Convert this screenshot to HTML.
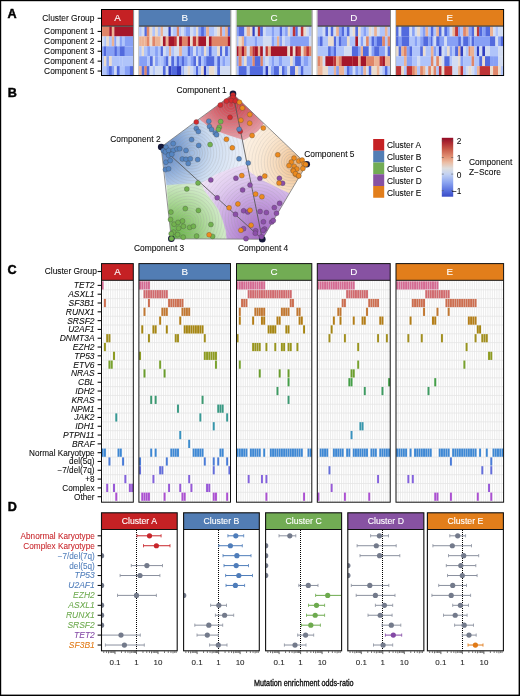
<!DOCTYPE html>
<html><head><meta charset="utf-8"><style>
html,body{margin:0;padding:0;background:#fff;width:520px;height:696px;overflow:hidden}
svg{display:block;will-change:transform}
text{font-family:"Liberation Sans",sans-serif}
</style></head><body><svg width="520" height="696" viewBox="0 0 520 696" font-family="Liberation Sans, sans-serif"><text x="7.60" y="18.40" font-size="12.6" text-anchor="start" fill="#000" font-weight="bold" stroke="#000" stroke-width="0.45" >A</text><rect x="101.50" y="9.50" width="31.80" height="16.50" fill="#C52124" /><text x="117.40" y="21.10" font-size="9.8" text-anchor="middle" fill="#fff" font-weight="normal" stroke="#fff" stroke-width="0.1" >A</text><rect x="138.90" y="9.50" width="91.60" height="16.50" fill="#527DB4" /><text x="184.70" y="21.10" font-size="9.8" text-anchor="middle" fill="#fff" font-weight="normal" stroke="#fff" stroke-width="0.1" >B</text><rect x="236.50" y="9.50" width="75.30" height="16.50" fill="#72AC54" /><text x="274.15" y="21.10" font-size="9.8" text-anchor="middle" fill="#fff" font-weight="normal" stroke="#fff" stroke-width="0.1" >C</text><rect x="317.30" y="9.50" width="72.90" height="16.50" fill="#8752A2" /><text x="353.75" y="21.10" font-size="9.8" text-anchor="middle" fill="#fff" font-weight="normal" stroke="#fff" stroke-width="0.1" >D</text><rect x="396.00" y="9.50" width="107.60" height="16.50" fill="#E27E1B" /><text x="449.80" y="21.10" font-size="9.8" text-anchor="middle" fill="#fff" font-weight="normal" stroke="#fff" stroke-width="0.1" >E</text><rect x="102.08" y="26.50" width="7.34" height="10.00" fill="#e08568" /><rect x="109.27" y="26.50" width="2.67" height="10.00" fill="#a5162a" /><rect x="111.79" y="26.50" width="2.67" height="10.00" fill="#ecb294" /><rect x="114.31" y="26.50" width="18.86" height="10.00" fill="#a5162a" /><rect x="102.08" y="36.40" width="2.31" height="10.00" fill="#d2dcf2" /><rect x="104.24" y="36.40" width="2.31" height="10.00" fill="#b0c4fa" /><rect x="106.40" y="36.40" width="2.67" height="10.00" fill="#eadcce" /><rect x="108.91" y="36.40" width="3.03" height="10.00" fill="#b0c4fa" /><rect x="111.79" y="36.40" width="2.67" height="10.00" fill="#ecb294" /><rect x="114.31" y="36.40" width="2.31" height="10.00" fill="#87a0f5" /><rect x="116.47" y="36.40" width="3.39" height="10.00" fill="#d2dcf2" /><rect x="119.71" y="36.40" width="2.31" height="10.00" fill="#87a0f5" /><rect x="121.86" y="36.40" width="3.03" height="10.00" fill="#b0c4fa" /><rect x="124.74" y="36.40" width="8.42" height="10.00" fill="#87a0f5" /><rect x="102.08" y="46.30" width="1.95" height="10.00" fill="#87a0f5" /><rect x="103.88" y="46.30" width="2.67" height="10.00" fill="#526ade" /><rect x="106.40" y="46.30" width="8.06" height="10.00" fill="#87a0f5" /><rect x="114.31" y="46.30" width="2.67" height="10.00" fill="#526ade" /><rect x="116.83" y="46.30" width="3.03" height="10.00" fill="#87a0f5" /><rect x="119.71" y="46.30" width="5.19" height="10.00" fill="#526ade" /><rect x="124.74" y="46.30" width="8.42" height="10.00" fill="#87a0f5" /><rect x="102.08" y="56.20" width="1.95" height="10.00" fill="#b0c4fa" /><rect x="103.88" y="56.20" width="2.67" height="10.00" fill="#eadcce" /><rect x="106.40" y="56.20" width="2.67" height="10.00" fill="#87a0f5" /><rect x="108.91" y="56.20" width="3.03" height="10.00" fill="#eadcce" /><rect x="111.79" y="56.20" width="8.06" height="10.00" fill="#b0c4fa" /><rect x="119.71" y="56.20" width="3.03" height="10.00" fill="#b0c4fa" /><rect x="122.58" y="56.20" width="10.58" height="10.00" fill="#b0c4fa" /><rect x="102.08" y="66.10" width="4.47" height="10.00" fill="#b0c4fa" /><rect x="106.40" y="66.10" width="2.67" height="10.00" fill="#87a0f5" /><rect x="108.91" y="66.10" width="3.03" height="10.00" fill="#526ade" /><rect x="111.79" y="66.10" width="2.67" height="10.00" fill="#87a0f5" /><rect x="114.31" y="66.10" width="2.67" height="10.00" fill="#d2dcf2" /><rect x="116.83" y="66.10" width="3.03" height="10.00" fill="#526ade" /><rect x="119.71" y="66.10" width="5.19" height="10.00" fill="#b0c4fa" /><rect x="124.74" y="66.10" width="5.19" height="10.00" fill="#87a0f5" /><rect x="129.78" y="66.10" width="3.39" height="10.00" fill="#526ade" /><rect x="139.11" y="26.50" width="2.74" height="10.00" fill="#b0c4fa" /><rect x="141.69" y="26.50" width="2.92" height="10.00" fill="#d2dcf2" /><rect x="144.46" y="26.50" width="2.46" height="10.00" fill="#526ade" /><rect x="146.77" y="26.50" width="2.92" height="10.00" fill="#e08568" /><rect x="149.54" y="26.50" width="2.92" height="10.00" fill="#eadcce" /><rect x="152.31" y="26.50" width="2.92" height="10.00" fill="#b0c4fa" /><rect x="155.08" y="26.50" width="2.92" height="10.00" fill="#eadcce" /><rect x="157.85" y="26.50" width="2.92" height="10.00" fill="#b0c4fa" /><rect x="160.62" y="26.50" width="2.46" height="10.00" fill="#ecb294" /><rect x="162.93" y="26.50" width="5.69" height="10.00" fill="#d2dcf2" /><rect x="168.47" y="26.50" width="2.46" height="10.00" fill="#303ec0" /><rect x="170.78" y="26.50" width="2.46" height="10.00" fill="#d2dcf2" /><rect x="173.09" y="26.50" width="3.84" height="10.00" fill="#b0c4fa" /><rect x="176.78" y="26.50" width="2.46" height="10.00" fill="#e08568" /><rect x="179.09" y="26.50" width="2.46" height="10.00" fill="#b0c4fa" /><rect x="181.40" y="26.50" width="2.74" height="10.00" fill="#d2dcf2" /><rect x="139.11" y="36.40" width="2.74" height="10.00" fill="#ecb294" /><rect x="141.69" y="36.40" width="2.92" height="10.00" fill="#ecb294" /><rect x="144.46" y="36.40" width="2.46" height="10.00" fill="#ecb294" /><rect x="146.77" y="36.40" width="2.92" height="10.00" fill="#e08568" /><rect x="149.54" y="36.40" width="2.92" height="10.00" fill="#eadcce" /><rect x="152.31" y="36.40" width="2.92" height="10.00" fill="#e08568" /><rect x="155.08" y="36.40" width="2.92" height="10.00" fill="#ecb294" /><rect x="157.85" y="36.40" width="2.92" height="10.00" fill="#ecb294" /><rect x="160.62" y="36.40" width="2.46" height="10.00" fill="#eadcce" /><rect x="162.93" y="36.40" width="2.92" height="10.00" fill="#a5162a" /><rect x="165.70" y="36.40" width="2.92" height="10.00" fill="#ecb294" /><rect x="168.47" y="36.40" width="5.69" height="10.00" fill="#a5162a" /><rect x="174.01" y="36.40" width="2.92" height="10.00" fill="#be3436" /><rect x="176.78" y="36.40" width="2.46" height="10.00" fill="#eadcce" /><rect x="179.09" y="36.40" width="2.92" height="10.00" fill="#a5162a" /><rect x="181.86" y="36.40" width="2.27" height="10.00" fill="#e08568" /><rect x="139.11" y="46.30" width="2.74" height="10.00" fill="#b0c4fa" /><rect x="141.69" y="46.30" width="2.46" height="10.00" fill="#eadcce" /><rect x="144.00" y="46.30" width="3.38" height="10.00" fill="#b0c4fa" /><rect x="147.23" y="46.30" width="2.92" height="10.00" fill="#87a0f5" /><rect x="150.00" y="46.30" width="5.23" height="10.00" fill="#b0c4fa" /><rect x="155.08" y="46.30" width="2.92" height="10.00" fill="#87a0f5" /><rect x="157.85" y="46.30" width="2.92" height="10.00" fill="#b0c4fa" /><rect x="160.62" y="46.30" width="2.46" height="10.00" fill="#526ade" /><rect x="162.93" y="46.30" width="2.92" height="10.00" fill="#d2dcf2" /><rect x="165.70" y="46.30" width="3.38" height="10.00" fill="#b0c4fa" /><rect x="168.93" y="46.30" width="2.46" height="10.00" fill="#ecb294" /><rect x="171.24" y="46.30" width="2.92" height="10.00" fill="#b0c4fa" /><rect x="174.01" y="46.30" width="5.23" height="10.00" fill="#d2dcf2" /><rect x="179.09" y="46.30" width="2.92" height="10.00" fill="#ecb294" /><rect x="181.86" y="46.30" width="2.27" height="10.00" fill="#b0c4fa" /><rect x="139.11" y="56.20" width="8.28" height="10.00" fill="#87a0f5" /><rect x="147.23" y="56.20" width="2.92" height="10.00" fill="#b0c4fa" /><rect x="150.00" y="56.20" width="2.92" height="10.00" fill="#526ade" /><rect x="152.77" y="56.20" width="2.46" height="10.00" fill="#d2dcf2" /><rect x="155.08" y="56.20" width="2.92" height="10.00" fill="#87a0f5" /><rect x="157.85" y="56.20" width="2.92" height="10.00" fill="#b0c4fa" /><rect x="160.62" y="56.20" width="2.92" height="10.00" fill="#b0c4fa" /><rect x="163.39" y="56.20" width="2.46" height="10.00" fill="#87a0f5" /><rect x="165.70" y="56.20" width="2.92" height="10.00" fill="#526ade" /><rect x="168.47" y="56.20" width="2.92" height="10.00" fill="#d2dcf2" /><rect x="171.24" y="56.20" width="2.92" height="10.00" fill="#526ade" /><rect x="174.01" y="56.20" width="2.92" height="10.00" fill="#b0c4fa" /><rect x="176.78" y="56.20" width="2.46" height="10.00" fill="#526ade" /><rect x="179.09" y="56.20" width="2.92" height="10.00" fill="#87a0f5" /><rect x="181.86" y="56.20" width="2.27" height="10.00" fill="#526ade" /><rect x="139.11" y="66.10" width="2.74" height="10.00" fill="#ecb294" /><rect x="141.69" y="66.10" width="2.92" height="10.00" fill="#526ade" /><rect x="144.46" y="66.10" width="2.46" height="10.00" fill="#e08568" /><rect x="146.77" y="66.10" width="2.92" height="10.00" fill="#526ade" /><rect x="149.54" y="66.10" width="3.38" height="10.00" fill="#d2dcf2" /><rect x="152.77" y="66.10" width="2.46" height="10.00" fill="#b0c4fa" /><rect x="155.08" y="66.10" width="8.00" height="10.00" fill="#d2dcf2" /><rect x="162.93" y="66.10" width="2.92" height="10.00" fill="#526ade" /><rect x="165.70" y="66.10" width="2.92" height="10.00" fill="#d2dcf2" /><rect x="168.47" y="66.10" width="2.92" height="10.00" fill="#303ec0" /><rect x="171.24" y="66.10" width="5.69" height="10.00" fill="#526ade" /><rect x="176.78" y="66.10" width="4.77" height="10.00" fill="#303ec0" /><rect x="181.40" y="66.10" width="2.46" height="10.00" fill="#b0c4fa" /><rect x="183.71" y="66.10" width="0.43" height="10.00" fill="#526ade" /><rect x="184.00" y="26.50" width="2.00" height="10.00" fill="#b0c4fa" /><rect x="185.85" y="26.50" width="4.31" height="10.00" fill="#87a0f5" /><rect x="190.00" y="26.50" width="3.38" height="10.00" fill="#d2dcf2" /><rect x="193.23" y="26.50" width="2.92" height="10.00" fill="#b0c4fa" /><rect x="196.00" y="26.50" width="2.46" height="10.00" fill="#eadcce" /><rect x="198.31" y="26.50" width="2.92" height="10.00" fill="#87a0f5" /><rect x="201.08" y="26.50" width="2.92" height="10.00" fill="#526ade" /><rect x="203.85" y="26.50" width="2.46" height="10.00" fill="#87a0f5" /><rect x="206.16" y="26.50" width="2.92" height="10.00" fill="#ecb294" /><rect x="208.93" y="26.50" width="5.69" height="10.00" fill="#b0c4fa" /><rect x="214.47" y="26.50" width="2.92" height="10.00" fill="#d2dcf2" /><rect x="217.24" y="26.50" width="2.92" height="10.00" fill="#eadcce" /><rect x="220.01" y="26.50" width="2.46" height="10.00" fill="#e08568" /><rect x="222.32" y="26.50" width="2.92" height="10.00" fill="#b0c4fa" /><rect x="225.09" y="26.50" width="2.92" height="10.00" fill="#ecb294" /><rect x="227.86" y="26.50" width="2.46" height="10.00" fill="#526ade" /><rect x="184.00" y="36.40" width="3.84" height="10.00" fill="#e08568" /><rect x="187.69" y="36.40" width="2.46" height="10.00" fill="#a5162a" /><rect x="190.00" y="36.40" width="2.92" height="10.00" fill="#eadcce" /><rect x="192.77" y="36.40" width="3.38" height="10.00" fill="#be3436" /><rect x="196.00" y="36.40" width="2.46" height="10.00" fill="#ecb294" /><rect x="198.31" y="36.40" width="8.00" height="10.00" fill="#a5162a" /><rect x="206.16" y="36.40" width="2.92" height="10.00" fill="#eadcce" /><rect x="208.93" y="36.40" width="2.92" height="10.00" fill="#a5162a" /><rect x="211.70" y="36.40" width="16.31" height="10.00" fill="#e08568" /><rect x="227.86" y="36.40" width="2.46" height="10.00" fill="#a5162a" /><rect x="184.00" y="46.30" width="3.84" height="10.00" fill="#b0c4fa" /><rect x="187.69" y="46.30" width="2.92" height="10.00" fill="#526ade" /><rect x="190.46" y="46.30" width="2.92" height="10.00" fill="#87a0f5" /><rect x="193.23" y="46.30" width="2.92" height="10.00" fill="#d2dcf2" /><rect x="196.00" y="46.30" width="2.46" height="10.00" fill="#87a0f5" /><rect x="198.31" y="46.30" width="2.92" height="10.00" fill="#b0c4fa" /><rect x="201.08" y="46.30" width="2.92" height="10.00" fill="#87a0f5" /><rect x="203.85" y="46.30" width="2.46" height="10.00" fill="#eadcce" /><rect x="206.16" y="46.30" width="2.92" height="10.00" fill="#b0c4fa" /><rect x="208.93" y="46.30" width="2.92" height="10.00" fill="#526ade" /><rect x="211.70" y="46.30" width="5.69" height="10.00" fill="#b0c4fa" /><rect x="217.24" y="46.30" width="2.92" height="10.00" fill="#eadcce" /><rect x="220.01" y="46.30" width="2.46" height="10.00" fill="#526ade" /><rect x="222.32" y="46.30" width="2.92" height="10.00" fill="#d2dcf2" /><rect x="225.09" y="46.30" width="2.92" height="10.00" fill="#526ade" /><rect x="227.86" y="46.30" width="2.46" height="10.00" fill="#b0c4fa" /><rect x="184.00" y="56.20" width="3.84" height="10.00" fill="#87a0f5" /><rect x="187.69" y="56.20" width="2.92" height="10.00" fill="#b0c4fa" /><rect x="190.46" y="56.20" width="2.92" height="10.00" fill="#87a0f5" /><rect x="193.23" y="56.20" width="2.92" height="10.00" fill="#526ade" /><rect x="196.00" y="56.20" width="2.46" height="10.00" fill="#d2dcf2" /><rect x="198.31" y="56.20" width="2.92" height="10.00" fill="#526ade" /><rect x="201.08" y="56.20" width="2.92" height="10.00" fill="#b0c4fa" /><rect x="203.85" y="56.20" width="2.46" height="10.00" fill="#87a0f5" /><rect x="206.16" y="56.20" width="8.46" height="10.00" fill="#526ade" /><rect x="214.47" y="56.20" width="2.92" height="10.00" fill="#b0c4fa" /><rect x="217.24" y="56.20" width="2.92" height="10.00" fill="#526ade" /><rect x="220.01" y="56.20" width="2.46" height="10.00" fill="#b0c4fa" /><rect x="222.32" y="56.20" width="2.92" height="10.00" fill="#87a0f5" /><rect x="225.09" y="56.20" width="5.23" height="10.00" fill="#b0c4fa" /><rect x="184.00" y="66.10" width="3.84" height="10.00" fill="#d2dcf2" /><rect x="187.69" y="66.10" width="2.46" height="10.00" fill="#eadcce" /><rect x="190.00" y="66.10" width="3.38" height="10.00" fill="#d2dcf2" /><rect x="193.23" y="66.10" width="2.92" height="10.00" fill="#b0c4fa" /><rect x="196.00" y="66.10" width="2.46" height="10.00" fill="#526ade" /><rect x="198.31" y="66.10" width="2.92" height="10.00" fill="#b0c4fa" /><rect x="201.08" y="66.10" width="2.92" height="10.00" fill="#eadcce" /><rect x="203.85" y="66.10" width="2.46" height="10.00" fill="#303ec0" /><rect x="206.16" y="66.10" width="2.92" height="10.00" fill="#b0c4fa" /><rect x="208.93" y="66.10" width="5.69" height="10.00" fill="#eadcce" /><rect x="214.47" y="66.10" width="2.92" height="10.00" fill="#d2dcf2" /><rect x="217.24" y="66.10" width="2.92" height="10.00" fill="#526ade" /><rect x="220.01" y="66.10" width="10.31" height="10.00" fill="#d2dcf2" /><rect x="236.46" y="26.50" width="2.30" height="10.00" fill="#87a0f5" /><rect x="238.62" y="26.50" width="5.92" height="10.00" fill="#526ade" /><rect x="244.38" y="26.50" width="2.46" height="10.00" fill="#d2dcf2" /><rect x="246.69" y="26.50" width="3.61" height="10.00" fill="#ecb294" /><rect x="250.15" y="26.50" width="2.46" height="10.00" fill="#eadcce" /><rect x="252.46" y="26.50" width="2.46" height="10.00" fill="#303ec0" /><rect x="254.77" y="26.50" width="3.23" height="10.00" fill="#d2dcf2" /><rect x="257.85" y="26.50" width="2.46" height="10.00" fill="#be3436" /><rect x="260.15" y="26.50" width="2.84" height="10.00" fill="#526ade" /><rect x="262.85" y="26.50" width="2.84" height="10.00" fill="#d2dcf2" /><rect x="265.54" y="26.50" width="6.30" height="10.00" fill="#b0c4fa" /><rect x="271.69" y="26.50" width="2.46" height="10.00" fill="#87a0f5" /><rect x="236.46" y="36.40" width="2.30" height="10.00" fill="#b0c4fa" /><rect x="238.62" y="36.40" width="3.23" height="10.00" fill="#eadcce" /><rect x="241.69" y="36.40" width="2.46" height="10.00" fill="#ecb294" /><rect x="244.00" y="36.40" width="2.84" height="10.00" fill="#87a0f5" /><rect x="246.69" y="36.40" width="8.23" height="10.00" fill="#b0c4fa" /><rect x="254.77" y="36.40" width="2.46" height="10.00" fill="#87a0f5" /><rect x="257.08" y="36.40" width="5.92" height="10.00" fill="#b0c4fa" /><rect x="262.85" y="36.40" width="9.00" height="10.00" fill="#d2dcf2" /><rect x="271.69" y="36.40" width="2.46" height="10.00" fill="#87a0f5" /><rect x="236.46" y="46.30" width="2.30" height="10.00" fill="#a5162a" /><rect x="238.62" y="46.30" width="3.23" height="10.00" fill="#e08568" /><rect x="241.69" y="46.30" width="2.46" height="10.00" fill="#a5162a" /><rect x="244.00" y="46.30" width="2.84" height="10.00" fill="#e08568" /><rect x="246.69" y="46.30" width="3.23" height="10.00" fill="#d2dcf2" /><rect x="249.77" y="46.30" width="2.84" height="10.00" fill="#e08568" /><rect x="252.46" y="46.30" width="2.07" height="10.00" fill="#be3436" /><rect x="254.38" y="46.30" width="3.61" height="10.00" fill="#a5162a" /><rect x="257.85" y="46.30" width="2.46" height="10.00" fill="#ecb294" /><rect x="260.15" y="46.30" width="2.84" height="10.00" fill="#a5162a" /><rect x="262.85" y="46.30" width="2.84" height="10.00" fill="#d2dcf2" /><rect x="265.54" y="46.30" width="2.46" height="10.00" fill="#be3436" /><rect x="267.85" y="46.30" width="3.23" height="10.00" fill="#ecb294" /><rect x="270.92" y="46.30" width="3.23" height="10.00" fill="#a5162a" /><rect x="236.46" y="56.20" width="2.30" height="10.00" fill="#87a0f5" /><rect x="238.62" y="56.20" width="3.23" height="10.00" fill="#e08568" /><rect x="241.69" y="56.20" width="2.46" height="10.00" fill="#b0c4fa" /><rect x="244.00" y="56.20" width="2.84" height="10.00" fill="#eadcce" /><rect x="246.69" y="56.20" width="5.92" height="10.00" fill="#87a0f5" /><rect x="252.46" y="56.20" width="2.46" height="10.00" fill="#e08568" /><rect x="254.77" y="56.20" width="5.92" height="10.00" fill="#526ade" /><rect x="260.54" y="56.20" width="2.46" height="10.00" fill="#e08568" /><rect x="262.85" y="56.20" width="2.84" height="10.00" fill="#b0c4fa" /><rect x="265.54" y="56.20" width="3.23" height="10.00" fill="#d2dcf2" /><rect x="268.62" y="56.20" width="3.23" height="10.00" fill="#b0c4fa" /><rect x="271.69" y="56.20" width="2.46" height="10.00" fill="#87a0f5" /><rect x="236.46" y="66.10" width="2.30" height="10.00" fill="#b0c4fa" /><rect x="238.62" y="66.10" width="8.23" height="10.00" fill="#526ade" /><rect x="246.69" y="66.10" width="3.23" height="10.00" fill="#b0c4fa" /><rect x="249.77" y="66.10" width="13.23" height="10.00" fill="#526ade" /><rect x="262.85" y="66.10" width="2.84" height="10.00" fill="#b0c4fa" /><rect x="265.54" y="66.10" width="2.84" height="10.00" fill="#303ec0" /><rect x="268.23" y="66.10" width="2.84" height="10.00" fill="#d2dcf2" /><rect x="270.92" y="66.10" width="3.23" height="10.00" fill="#87a0f5" /><rect x="274.00" y="26.50" width="3.15" height="10.00" fill="#b0c4fa" /><rect x="277.00" y="26.50" width="2.84" height="10.00" fill="#b0c4fa" /><rect x="279.69" y="26.50" width="2.46" height="10.00" fill="#526ade" /><rect x="282.00" y="26.50" width="3.23" height="10.00" fill="#b0c4fa" /><rect x="285.08" y="26.50" width="2.84" height="10.00" fill="#87a0f5" /><rect x="287.77" y="26.50" width="2.46" height="10.00" fill="#eadcce" /><rect x="290.08" y="26.50" width="2.84" height="10.00" fill="#b0c4fa" /><rect x="292.77" y="26.50" width="2.84" height="10.00" fill="#be3436" /><rect x="295.46" y="26.50" width="2.46" height="10.00" fill="#526ade" /><rect x="297.77" y="26.50" width="3.23" height="10.00" fill="#d2dcf2" /><rect x="300.85" y="26.50" width="2.84" height="10.00" fill="#be3436" /><rect x="303.54" y="26.50" width="2.84" height="10.00" fill="#eadcce" /><rect x="306.23" y="26.50" width="2.84" height="10.00" fill="#d2dcf2" /><rect x="308.92" y="26.50" width="2.46" height="10.00" fill="#b0c4fa" /><rect x="274.00" y="36.40" width="3.15" height="10.00" fill="#b0c4fa" /><rect x="277.00" y="36.40" width="2.46" height="10.00" fill="#ecb294" /><rect x="279.31" y="36.40" width="2.84" height="10.00" fill="#87a0f5" /><rect x="282.00" y="36.40" width="2.84" height="10.00" fill="#d2dcf2" /><rect x="284.69" y="36.40" width="5.53" height="10.00" fill="#b0c4fa" /><rect x="290.08" y="36.40" width="19.00" height="10.00" fill="#87a0f5" /><rect x="308.92" y="36.40" width="2.46" height="10.00" fill="#d2dcf2" /><rect x="274.00" y="46.30" width="13.53" height="10.00" fill="#a5162a" /><rect x="287.38" y="46.30" width="2.84" height="10.00" fill="#eadcce" /><rect x="290.08" y="46.30" width="2.84" height="10.00" fill="#a5162a" /><rect x="292.77" y="46.30" width="2.84" height="10.00" fill="#eadcce" /><rect x="295.46" y="46.30" width="2.46" height="10.00" fill="#a5162a" /><rect x="297.77" y="46.30" width="3.23" height="10.00" fill="#be3436" /><rect x="300.85" y="46.30" width="2.84" height="10.00" fill="#eadcce" /><rect x="303.54" y="46.30" width="2.84" height="10.00" fill="#e08568" /><rect x="306.23" y="46.30" width="2.84" height="10.00" fill="#be3436" /><rect x="308.92" y="46.30" width="2.46" height="10.00" fill="#e08568" /><rect x="274.00" y="56.20" width="0.46" height="10.00" fill="#87a0f5" /><rect x="274.31" y="56.20" width="4.77" height="10.00" fill="#b0c4fa" /><rect x="278.92" y="56.20" width="3.23" height="10.00" fill="#87a0f5" /><rect x="282.00" y="56.20" width="8.23" height="10.00" fill="#b0c4fa" /><rect x="290.08" y="56.20" width="2.84" height="10.00" fill="#eadcce" /><rect x="292.77" y="56.20" width="2.46" height="10.00" fill="#b0c4fa" /><rect x="295.08" y="56.20" width="5.92" height="10.00" fill="#526ade" /><rect x="300.85" y="56.20" width="2.84" height="10.00" fill="#b0c4fa" /><rect x="303.54" y="56.20" width="5.15" height="10.00" fill="#87a0f5" /><rect x="308.54" y="56.20" width="2.84" height="10.00" fill="#b0c4fa" /><rect x="274.00" y="66.10" width="5.07" height="10.00" fill="#526ade" /><rect x="278.92" y="66.10" width="3.23" height="10.00" fill="#d2dcf2" /><rect x="282.00" y="66.10" width="2.84" height="10.00" fill="#526ade" /><rect x="284.69" y="66.10" width="2.84" height="10.00" fill="#87a0f5" /><rect x="287.38" y="66.10" width="2.84" height="10.00" fill="#d2dcf2" /><rect x="290.08" y="66.10" width="5.15" height="10.00" fill="#526ade" /><rect x="295.08" y="66.10" width="3.23" height="10.00" fill="#eadcce" /><rect x="298.15" y="66.10" width="2.84" height="10.00" fill="#b0c4fa" /><rect x="300.85" y="66.10" width="2.84" height="10.00" fill="#526ade" /><rect x="303.54" y="66.10" width="7.84" height="10.00" fill="#b0c4fa" /><rect x="317.31" y="26.50" width="5.53" height="10.00" fill="#b0c4fa" /><rect x="322.69" y="26.50" width="2.84" height="10.00" fill="#d2dcf2" /><rect x="325.38" y="26.50" width="2.84" height="10.00" fill="#526ade" /><rect x="328.08" y="26.50" width="2.84" height="10.00" fill="#d2dcf2" /><rect x="330.77" y="26.50" width="2.84" height="10.00" fill="#526ade" /><rect x="333.46" y="26.50" width="2.84" height="10.00" fill="#d2dcf2" /><rect x="336.15" y="26.50" width="2.84" height="10.00" fill="#ecb294" /><rect x="338.85" y="26.50" width="2.84" height="10.00" fill="#87a0f5" /><rect x="341.54" y="26.50" width="2.84" height="10.00" fill="#526ade" /><rect x="344.23" y="26.50" width="2.84" height="10.00" fill="#b0c4fa" /><rect x="346.92" y="26.50" width="2.84" height="10.00" fill="#526ade" /><rect x="349.62" y="26.50" width="3.23" height="10.00" fill="#d2dcf2" /><rect x="352.69" y="26.50" width="0.46" height="10.00" fill="#eadcce" /><rect x="317.31" y="36.40" width="2.84" height="10.00" fill="#87a0f5" /><rect x="320.00" y="36.40" width="2.84" height="10.00" fill="#526ade" /><rect x="322.69" y="36.40" width="5.53" height="10.00" fill="#b0c4fa" /><rect x="328.08" y="36.40" width="5.92" height="10.00" fill="#eadcce" /><rect x="333.85" y="36.40" width="2.46" height="10.00" fill="#526ade" /><rect x="336.15" y="36.40" width="2.84" height="10.00" fill="#b0c4fa" /><rect x="338.85" y="36.40" width="2.84" height="10.00" fill="#526ade" /><rect x="341.54" y="36.40" width="5.53" height="10.00" fill="#87a0f5" /><rect x="346.92" y="36.40" width="2.84" height="10.00" fill="#eadcce" /><rect x="349.62" y="36.40" width="3.53" height="10.00" fill="#b0c4fa" /><rect x="317.31" y="46.30" width="10.92" height="10.00" fill="#b0c4fa" /><rect x="328.08" y="46.30" width="2.84" height="10.00" fill="#526ade" /><rect x="330.77" y="46.30" width="3.23" height="10.00" fill="#87a0f5" /><rect x="333.85" y="46.30" width="2.46" height="10.00" fill="#526ade" /><rect x="336.15" y="46.30" width="8.23" height="10.00" fill="#b0c4fa" /><rect x="344.23" y="46.30" width="7.84" height="10.00" fill="#d2dcf2" /><rect x="351.92" y="46.30" width="1.23" height="10.00" fill="#526ade" /><rect x="317.31" y="56.20" width="2.84" height="10.00" fill="#e08568" /><rect x="320.00" y="56.20" width="2.84" height="10.00" fill="#ecb294" /><rect x="322.69" y="56.20" width="2.84" height="10.00" fill="#d2dcf2" /><rect x="325.38" y="56.20" width="8.23" height="10.00" fill="#a5162a" /><rect x="333.46" y="56.20" width="2.84" height="10.00" fill="#be3436" /><rect x="336.15" y="56.20" width="2.84" height="10.00" fill="#ecb294" /><rect x="338.85" y="56.20" width="2.84" height="10.00" fill="#e08568" /><rect x="341.54" y="56.20" width="11.30" height="10.00" fill="#a5162a" /><rect x="352.69" y="56.20" width="0.46" height="10.00" fill="#be3436" /><rect x="317.31" y="66.10" width="5.53" height="10.00" fill="#ecb294" /><rect x="322.69" y="66.10" width="5.53" height="10.00" fill="#eadcce" /><rect x="328.08" y="66.10" width="5.92" height="10.00" fill="#b0c4fa" /><rect x="333.85" y="66.10" width="2.46" height="10.00" fill="#ecb294" /><rect x="336.15" y="66.10" width="2.84" height="10.00" fill="#87a0f5" /><rect x="338.85" y="66.10" width="5.53" height="10.00" fill="#ecb294" /><rect x="344.23" y="66.10" width="2.84" height="10.00" fill="#b0c4fa" /><rect x="346.92" y="66.10" width="2.84" height="10.00" fill="#526ade" /><rect x="349.62" y="66.10" width="3.23" height="10.00" fill="#87a0f5" /><rect x="352.69" y="66.10" width="0.46" height="10.00" fill="#d2dcf2" /><rect x="353.00" y="26.50" width="2.46" height="10.00" fill="#eadcce" /><rect x="355.31" y="26.50" width="2.84" height="10.00" fill="#526ade" /><rect x="358.00" y="26.50" width="2.84" height="10.00" fill="#eadcce" /><rect x="360.69" y="26.50" width="2.84" height="10.00" fill="#b0c4fa" /><rect x="363.38" y="26.50" width="2.84" height="10.00" fill="#87a0f5" /><rect x="366.08" y="26.50" width="2.84" height="10.00" fill="#b0c4fa" /><rect x="368.77" y="26.50" width="2.84" height="10.00" fill="#eadcce" /><rect x="371.46" y="26.50" width="2.84" height="10.00" fill="#d2dcf2" /><rect x="374.15" y="26.50" width="2.84" height="10.00" fill="#ecb294" /><rect x="376.85" y="26.50" width="2.84" height="10.00" fill="#d2dcf2" /><rect x="379.54" y="26.50" width="5.53" height="10.00" fill="#b0c4fa" /><rect x="384.92" y="26.50" width="2.84" height="10.00" fill="#ecb294" /><rect x="387.62" y="26.50" width="2.92" height="10.00" fill="#b0c4fa" /><rect x="353.00" y="36.40" width="2.46" height="10.00" fill="#b0c4fa" /><rect x="355.31" y="36.40" width="2.84" height="10.00" fill="#a5162a" /><rect x="358.00" y="36.40" width="2.84" height="10.00" fill="#d2dcf2" /><rect x="360.69" y="36.40" width="2.84" height="10.00" fill="#87a0f5" /><rect x="363.38" y="36.40" width="2.84" height="10.00" fill="#d2dcf2" /><rect x="366.08" y="36.40" width="2.84" height="10.00" fill="#e08568" /><rect x="368.77" y="36.40" width="2.84" height="10.00" fill="#b0c4fa" /><rect x="371.46" y="36.40" width="2.84" height="10.00" fill="#526ade" /><rect x="374.15" y="36.40" width="2.84" height="10.00" fill="#87a0f5" /><rect x="376.85" y="36.40" width="5.53" height="10.00" fill="#526ade" /><rect x="382.23" y="36.40" width="2.84" height="10.00" fill="#e08568" /><rect x="384.92" y="36.40" width="2.84" height="10.00" fill="#b0c4fa" /><rect x="387.62" y="36.40" width="2.92" height="10.00" fill="#e08568" /><rect x="353.00" y="46.30" width="5.15" height="10.00" fill="#526ade" /><rect x="358.00" y="46.30" width="2.84" height="10.00" fill="#87a0f5" /><rect x="360.69" y="46.30" width="2.46" height="10.00" fill="#ecb294" /><rect x="363.00" y="46.30" width="5.92" height="10.00" fill="#526ade" /><rect x="368.77" y="46.30" width="2.84" height="10.00" fill="#d2dcf2" /><rect x="371.46" y="46.30" width="2.84" height="10.00" fill="#87a0f5" /><rect x="374.15" y="46.30" width="5.53" height="10.00" fill="#526ade" /><rect x="379.54" y="46.30" width="5.53" height="10.00" fill="#87a0f5" /><rect x="384.92" y="46.30" width="2.84" height="10.00" fill="#d2dcf2" /><rect x="387.62" y="46.30" width="2.92" height="10.00" fill="#526ade" /><rect x="353.00" y="56.20" width="5.15" height="10.00" fill="#a5162a" /><rect x="358.00" y="56.20" width="2.84" height="10.00" fill="#ecb294" /><rect x="360.69" y="56.20" width="5.53" height="10.00" fill="#a5162a" /><rect x="366.08" y="56.20" width="8.23" height="10.00" fill="#e08568" /><rect x="374.15" y="56.20" width="5.53" height="10.00" fill="#ecb294" /><rect x="379.54" y="56.20" width="2.84" height="10.00" fill="#be3436" /><rect x="382.23" y="56.20" width="2.84" height="10.00" fill="#a5162a" /><rect x="384.92" y="56.20" width="5.61" height="10.00" fill="#ecb294" /><rect x="353.00" y="66.10" width="2.46" height="10.00" fill="#d2dcf2" /><rect x="355.31" y="66.10" width="2.84" height="10.00" fill="#87a0f5" /><rect x="358.00" y="66.10" width="2.84" height="10.00" fill="#b0c4fa" /><rect x="360.69" y="66.10" width="2.84" height="10.00" fill="#87a0f5" /><rect x="363.38" y="66.10" width="2.84" height="10.00" fill="#ecb294" /><rect x="366.08" y="66.10" width="2.84" height="10.00" fill="#d2dcf2" /><rect x="368.77" y="66.10" width="2.84" height="10.00" fill="#526ade" /><rect x="371.46" y="66.10" width="5.53" height="10.00" fill="#eadcce" /><rect x="376.85" y="66.10" width="2.84" height="10.00" fill="#ecb294" /><rect x="379.54" y="66.10" width="2.84" height="10.00" fill="#d2dcf2" /><rect x="382.23" y="66.10" width="2.84" height="10.00" fill="#b0c4fa" /><rect x="384.92" y="66.10" width="2.84" height="10.00" fill="#526ade" /><rect x="387.62" y="66.10" width="2.92" height="10.00" fill="#b0c4fa" /><rect x="395.92" y="26.50" width="2.84" height="10.00" fill="#526ade" /><rect x="398.62" y="26.50" width="2.84" height="10.00" fill="#d2dcf2" /><rect x="401.31" y="26.50" width="8.23" height="10.00" fill="#526ade" /><rect x="409.38" y="26.50" width="2.84" height="10.00" fill="#d2dcf2" /><rect x="412.08" y="26.50" width="2.84" height="10.00" fill="#87a0f5" /><rect x="414.77" y="26.50" width="2.46" height="10.00" fill="#d2dcf2" /><rect x="417.08" y="26.50" width="3.23" height="10.00" fill="#eadcce" /><rect x="420.15" y="26.50" width="2.84" height="10.00" fill="#b0c4fa" /><rect x="422.85" y="26.50" width="2.84" height="10.00" fill="#87a0f5" /><rect x="425.54" y="26.50" width="2.84" height="10.00" fill="#ecb294" /><rect x="428.23" y="26.50" width="2.84" height="10.00" fill="#b0c4fa" /><rect x="430.92" y="26.50" width="1.23" height="10.00" fill="#526ade" /><rect x="395.92" y="36.40" width="2.84" height="10.00" fill="#526ade" /><rect x="398.62" y="36.40" width="3.23" height="10.00" fill="#87a0f5" /><rect x="401.69" y="36.40" width="7.84" height="10.00" fill="#526ade" /><rect x="409.38" y="36.40" width="5.53" height="10.00" fill="#b0c4fa" /><rect x="414.77" y="36.40" width="2.46" height="10.00" fill="#87a0f5" /><rect x="417.08" y="36.40" width="3.23" height="10.00" fill="#b0c4fa" /><rect x="420.15" y="36.40" width="3.23" height="10.00" fill="#87a0f5" /><rect x="423.23" y="36.40" width="5.15" height="10.00" fill="#526ade" /><rect x="428.23" y="36.40" width="2.84" height="10.00" fill="#87a0f5" /><rect x="430.92" y="36.40" width="1.23" height="10.00" fill="#526ade" /><rect x="395.92" y="46.30" width="2.84" height="10.00" fill="#eadcce" /><rect x="398.62" y="46.30" width="2.84" height="10.00" fill="#526ade" /><rect x="401.31" y="46.30" width="2.84" height="10.00" fill="#ecb294" /><rect x="404.00" y="46.30" width="2.84" height="10.00" fill="#e08568" /><rect x="406.69" y="46.30" width="2.84" height="10.00" fill="#87a0f5" /><rect x="409.38" y="46.30" width="2.84" height="10.00" fill="#526ade" /><rect x="412.08" y="46.30" width="8.23" height="10.00" fill="#b0c4fa" /><rect x="420.15" y="46.30" width="2.84" height="10.00" fill="#526ade" /><rect x="422.85" y="46.30" width="2.84" height="10.00" fill="#eadcce" /><rect x="425.54" y="46.30" width="5.53" height="10.00" fill="#b0c4fa" /><rect x="430.92" y="46.30" width="1.23" height="10.00" fill="#ecb294" /><rect x="395.92" y="56.20" width="8.23" height="10.00" fill="#b0c4fa" /><rect x="404.00" y="56.20" width="2.84" height="10.00" fill="#ecb294" /><rect x="406.69" y="56.20" width="5.53" height="10.00" fill="#87a0f5" /><rect x="412.08" y="56.20" width="5.15" height="10.00" fill="#b0c4fa" /><rect x="417.08" y="56.20" width="3.23" height="10.00" fill="#d2dcf2" /><rect x="420.15" y="56.20" width="10.92" height="10.00" fill="#b0c4fa" /><rect x="430.92" y="56.20" width="1.23" height="10.00" fill="#e08568" /><rect x="395.92" y="66.10" width="5.53" height="10.00" fill="#be3436" /><rect x="401.31" y="66.10" width="2.84" height="10.00" fill="#eadcce" /><rect x="404.00" y="66.10" width="2.84" height="10.00" fill="#b0c4fa" /><rect x="406.69" y="66.10" width="5.53" height="10.00" fill="#be3436" /><rect x="412.08" y="66.10" width="2.84" height="10.00" fill="#e08568" /><rect x="414.77" y="66.10" width="2.46" height="10.00" fill="#ecb294" /><rect x="417.08" y="66.10" width="3.23" height="10.00" fill="#b0c4fa" /><rect x="420.15" y="66.10" width="2.84" height="10.00" fill="#e08568" /><rect x="422.85" y="66.10" width="2.84" height="10.00" fill="#ecb294" /><rect x="425.54" y="66.10" width="2.84" height="10.00" fill="#d2dcf2" /><rect x="428.23" y="66.10" width="2.84" height="10.00" fill="#e08568" /><rect x="430.92" y="66.10" width="1.23" height="10.00" fill="#eadcce" /><rect x="432.00" y="26.50" width="1.69" height="10.00" fill="#526ade" /><rect x="433.54" y="26.50" width="2.84" height="10.00" fill="#b0c4fa" /><rect x="436.23" y="26.50" width="2.84" height="10.00" fill="#ecb294" /><rect x="438.92" y="26.50" width="2.84" height="10.00" fill="#526ade" /><rect x="441.62" y="26.50" width="2.84" height="10.00" fill="#d2dcf2" /><rect x="444.31" y="26.50" width="2.84" height="10.00" fill="#526ade" /><rect x="447.00" y="26.50" width="2.84" height="10.00" fill="#87a0f5" /><rect x="449.69" y="26.50" width="2.84" height="10.00" fill="#d2dcf2" /><rect x="452.38" y="26.50" width="2.84" height="10.00" fill="#ecb294" /><rect x="455.08" y="26.50" width="3.23" height="10.00" fill="#be3436" /><rect x="458.15" y="26.50" width="2.46" height="10.00" fill="#87a0f5" /><rect x="460.46" y="26.50" width="2.84" height="10.00" fill="#b0c4fa" /><rect x="463.15" y="26.50" width="2.84" height="10.00" fill="#e08568" /><rect x="465.85" y="26.50" width="2.84" height="10.00" fill="#ecb294" /><rect x="468.54" y="26.50" width="1.61" height="10.00" fill="#87a0f5" /><rect x="432.00" y="36.40" width="1.69" height="10.00" fill="#87a0f5" /><rect x="433.54" y="36.40" width="2.84" height="10.00" fill="#d2dcf2" /><rect x="436.23" y="36.40" width="3.61" height="10.00" fill="#526ade" /><rect x="439.69" y="36.40" width="4.77" height="10.00" fill="#87a0f5" /><rect x="444.31" y="36.40" width="2.84" height="10.00" fill="#d2dcf2" /><rect x="447.00" y="36.40" width="11.30" height="10.00" fill="#87a0f5" /><rect x="458.15" y="36.40" width="2.84" height="10.00" fill="#526ade" /><rect x="460.85" y="36.40" width="2.46" height="10.00" fill="#b0c4fa" /><rect x="463.15" y="36.40" width="5.53" height="10.00" fill="#526ade" /><rect x="468.54" y="36.40" width="1.61" height="10.00" fill="#87a0f5" /><rect x="432.00" y="46.30" width="1.69" height="10.00" fill="#ecb294" /><rect x="433.54" y="46.30" width="2.84" height="10.00" fill="#87a0f5" /><rect x="436.23" y="46.30" width="2.84" height="10.00" fill="#b0c4fa" /><rect x="438.92" y="46.30" width="2.84" height="10.00" fill="#303ec0" /><rect x="441.62" y="46.30" width="2.84" height="10.00" fill="#d2dcf2" /><rect x="444.31" y="46.30" width="2.84" height="10.00" fill="#b0c4fa" /><rect x="447.00" y="46.30" width="2.84" height="10.00" fill="#eadcce" /><rect x="449.69" y="46.30" width="2.84" height="10.00" fill="#87a0f5" /><rect x="452.38" y="46.30" width="2.84" height="10.00" fill="#b0c4fa" /><rect x="455.08" y="46.30" width="3.23" height="10.00" fill="#526ade" /><rect x="458.15" y="46.30" width="2.46" height="10.00" fill="#ecb294" /><rect x="460.46" y="46.30" width="2.84" height="10.00" fill="#303ec0" /><rect x="463.15" y="46.30" width="2.84" height="10.00" fill="#d2dcf2" /><rect x="465.85" y="46.30" width="2.84" height="10.00" fill="#b0c4fa" /><rect x="468.54" y="46.30" width="1.61" height="10.00" fill="#e08568" /><rect x="432.00" y="56.20" width="1.69" height="10.00" fill="#e08568" /><rect x="433.54" y="56.20" width="2.84" height="10.00" fill="#d2dcf2" /><rect x="436.23" y="56.20" width="2.84" height="10.00" fill="#e08568" /><rect x="438.92" y="56.20" width="2.84" height="10.00" fill="#eadcce" /><rect x="441.62" y="56.20" width="2.84" height="10.00" fill="#d2dcf2" /><rect x="444.31" y="56.20" width="5.53" height="10.00" fill="#526ade" /><rect x="449.69" y="56.20" width="2.84" height="10.00" fill="#b0c4fa" /><rect x="452.38" y="56.20" width="5.92" height="10.00" fill="#d2dcf2" /><rect x="458.15" y="56.20" width="2.46" height="10.00" fill="#eadcce" /><rect x="460.46" y="56.20" width="2.84" height="10.00" fill="#87a0f5" /><rect x="463.15" y="56.20" width="7.00" height="10.00" fill="#b0c4fa" /><rect x="432.00" y="66.10" width="1.69" height="10.00" fill="#eadcce" /><rect x="433.54" y="66.10" width="2.84" height="10.00" fill="#e08568" /><rect x="436.23" y="66.10" width="2.84" height="10.00" fill="#b0c4fa" /><rect x="438.92" y="66.10" width="2.84" height="10.00" fill="#be3436" /><rect x="441.62" y="66.10" width="2.84" height="10.00" fill="#eadcce" /><rect x="444.31" y="66.10" width="8.23" height="10.00" fill="#be3436" /><rect x="452.38" y="66.10" width="5.92" height="10.00" fill="#d2dcf2" /><rect x="458.15" y="66.10" width="2.46" height="10.00" fill="#ecb294" /><rect x="460.46" y="66.10" width="2.84" height="10.00" fill="#be3436" /><rect x="463.15" y="66.10" width="2.84" height="10.00" fill="#b0c4fa" /><rect x="465.85" y="66.10" width="2.84" height="10.00" fill="#d2dcf2" /><rect x="468.54" y="66.10" width="1.61" height="10.00" fill="#eadcce" /><rect x="470.00" y="26.50" width="1.69" height="10.00" fill="#87a0f5" /><rect x="471.54" y="26.50" width="2.84" height="10.00" fill="#526ade" /><rect x="474.23" y="26.50" width="2.84" height="10.00" fill="#eadcce" /><rect x="476.92" y="26.50" width="2.46" height="10.00" fill="#be3436" /><rect x="479.23" y="26.50" width="3.23" height="10.00" fill="#526ade" /><rect x="482.31" y="26.50" width="3.23" height="10.00" fill="#87a0f5" /><rect x="485.38" y="26.50" width="4.77" height="10.00" fill="#526ade" /><rect x="490.00" y="26.50" width="3.23" height="10.00" fill="#ecb294" /><rect x="493.08" y="26.50" width="2.46" height="10.00" fill="#d2dcf2" /><rect x="495.38" y="26.50" width="2.84" height="10.00" fill="#b0c4fa" /><rect x="498.08" y="26.50" width="5.30" height="10.00" fill="#d2dcf2" /><rect x="470.00" y="36.40" width="1.69" height="10.00" fill="#b0c4fa" /><rect x="471.54" y="36.40" width="2.84" height="10.00" fill="#526ade" /><rect x="474.23" y="36.40" width="15.92" height="10.00" fill="#87a0f5" /><rect x="490.00" y="36.40" width="5.53" height="10.00" fill="#526ade" /><rect x="495.38" y="36.40" width="2.84" height="10.00" fill="#d2dcf2" /><rect x="498.08" y="36.40" width="2.84" height="10.00" fill="#87a0f5" /><rect x="500.77" y="36.40" width="2.61" height="10.00" fill="#526ade" /><rect x="470.00" y="46.30" width="4.38" height="10.00" fill="#ecb294" /><rect x="474.23" y="46.30" width="2.84" height="10.00" fill="#b0c4fa" /><rect x="476.92" y="46.30" width="2.46" height="10.00" fill="#303ec0" /><rect x="479.23" y="46.30" width="3.23" height="10.00" fill="#d2dcf2" /><rect x="482.31" y="46.30" width="2.84" height="10.00" fill="#303ec0" /><rect x="485.00" y="46.30" width="5.15" height="10.00" fill="#d2dcf2" /><rect x="490.00" y="46.30" width="8.23" height="10.00" fill="#b0c4fa" /><rect x="498.08" y="46.30" width="5.30" height="10.00" fill="#d2dcf2" /><rect x="470.00" y="56.20" width="1.69" height="10.00" fill="#b0c4fa" /><rect x="471.54" y="56.20" width="2.84" height="10.00" fill="#e08568" /><rect x="474.23" y="56.20" width="5.15" height="10.00" fill="#b0c4fa" /><rect x="479.23" y="56.20" width="3.23" height="10.00" fill="#526ade" /><rect x="482.31" y="56.20" width="2.84" height="10.00" fill="#eadcce" /><rect x="485.00" y="56.20" width="5.15" height="10.00" fill="#526ade" /><rect x="490.00" y="56.20" width="3.23" height="10.00" fill="#87a0f5" /><rect x="493.08" y="56.20" width="5.15" height="10.00" fill="#87a0f5" /><rect x="498.08" y="56.20" width="5.30" height="10.00" fill="#d2dcf2" /><rect x="470.00" y="66.10" width="1.69" height="10.00" fill="#eadcce" /><rect x="471.54" y="66.10" width="2.84" height="10.00" fill="#d2dcf2" /><rect x="474.23" y="66.10" width="2.84" height="10.00" fill="#b0c4fa" /><rect x="476.92" y="66.10" width="2.84" height="10.00" fill="#ecb294" /><rect x="479.62" y="66.10" width="10.53" height="10.00" fill="#be3436" /><rect x="490.00" y="66.10" width="3.23" height="10.00" fill="#eadcce" /><rect x="493.08" y="66.10" width="5.15" height="10.00" fill="#e08568" /><rect x="498.08" y="66.10" width="2.84" height="10.00" fill="#eadcce" /><rect x="500.77" y="66.10" width="2.61" height="10.00" fill="#b0c4fa" /><rect x="101.50" y="25.50" width="31.80" height="1.20" fill="#3a3a3a" /><rect x="138.90" y="25.50" width="91.60" height="1.20" fill="#3a3a3a" /><rect x="236.50" y="25.50" width="75.30" height="1.20" fill="#3a3a3a" /><rect x="317.30" y="25.50" width="72.90" height="1.20" fill="#3a3a3a" /><rect x="396.00" y="25.50" width="107.60" height="1.20" fill="#3a3a3a" /><rect x="133.30" y="9.50" width="5.60" height="66.00" fill="#fff" /><line x1="133.60" y1="9.50" x2="133.60" y2="75.50" stroke="#555" stroke-width="0.7" /><line x1="138.60" y1="9.50" x2="138.60" y2="75.50" stroke="#999" stroke-width="0.6" /><rect x="230.50" y="9.50" width="6.00" height="66.00" fill="#fff" /><line x1="230.80" y1="9.50" x2="230.80" y2="75.50" stroke="#555" stroke-width="0.7" /><line x1="236.20" y1="9.50" x2="236.20" y2="75.50" stroke="#999" stroke-width="0.6" /><rect x="311.80" y="9.50" width="5.50" height="66.00" fill="#fff" /><line x1="312.10" y1="9.50" x2="312.10" y2="75.50" stroke="#555" stroke-width="0.7" /><line x1="317.00" y1="9.50" x2="317.00" y2="75.50" stroke="#999" stroke-width="0.6" /><rect x="390.20" y="9.50" width="5.80" height="66.00" fill="#fff" /><line x1="390.50" y1="9.50" x2="390.50" y2="75.50" stroke="#555" stroke-width="0.7" /><line x1="395.70" y1="9.50" x2="395.70" y2="75.50" stroke="#999" stroke-width="0.6" /><rect x="101.50" y="9.50" width="402.10" height="66.00" fill="none" stroke="#000" stroke-width="1" /><text x="94.40" y="21.20" font-size="8.4" text-anchor="end" fill="#0a0a0a" font-weight="normal" stroke="#0a0a0a" stroke-width="0.07" >Cluster Group</text><line x1="97.60" y1="18.30" x2="101.20" y2="18.30" stroke="#111" stroke-width="1.1" /><text x="94.40" y="33.95" font-size="8.4" text-anchor="end" fill="#0a0a0a" font-weight="normal" stroke="#0a0a0a" stroke-width="0.07" >Component 1</text><line x1="97.60" y1="31.45" x2="101.20" y2="31.45" stroke="#111" stroke-width="1.1" /><text x="94.40" y="43.85" font-size="8.4" text-anchor="end" fill="#0a0a0a" font-weight="normal" stroke="#0a0a0a" stroke-width="0.07" >Component 2</text><line x1="97.60" y1="41.35" x2="101.20" y2="41.35" stroke="#111" stroke-width="1.1" /><text x="94.40" y="53.75" font-size="8.4" text-anchor="end" fill="#0a0a0a" font-weight="normal" stroke="#0a0a0a" stroke-width="0.07" >Component 3</text><line x1="97.60" y1="51.25" x2="101.20" y2="51.25" stroke="#111" stroke-width="1.1" /><text x="94.40" y="63.65" font-size="8.4" text-anchor="end" fill="#0a0a0a" font-weight="normal" stroke="#0a0a0a" stroke-width="0.07" >Component 4</text><line x1="97.60" y1="61.15" x2="101.20" y2="61.15" stroke="#111" stroke-width="1.1" /><text x="94.40" y="73.55" font-size="8.4" text-anchor="end" fill="#0a0a0a" font-weight="normal" stroke="#0a0a0a" stroke-width="0.07" >Component 5</text><line x1="97.60" y1="71.05" x2="101.20" y2="71.05" stroke="#111" stroke-width="1.1" /><text x="7.80" y="96.70" font-size="12.6" text-anchor="start" fill="#000" font-weight="bold" stroke="#000" stroke-width="0.45" >B</text><defs><radialGradient id="gA" gradientUnits="userSpaceOnUse" cx="233" cy="96" r="62" fx="233" fy="96"><stop offset="0" stop-color="rgb(200,40,50)"/><stop offset="0.25" stop-color="rgb(208,80,90)"/><stop offset="0.5" stop-color="rgb(220,125,135)"/><stop offset="0.75" stop-color="rgb(232,170,178)"/><stop offset="1" stop-color="rgb(242,205,210)"/></radialGradient><radialGradient id="gB" gradientUnits="userSpaceOnUse" cx="163" cy="150" r="78" fx="163" fy="150"><stop offset="0" stop-color="rgb(95,135,198)"/><stop offset="0.2" stop-color="rgb(122,157,209)"/><stop offset="0.42" stop-color="rgb(168,193,227)"/><stop offset="0.65" stop-color="rgb(207,222,241)"/><stop offset="1" stop-color="rgb(232,238,249)"/></radialGradient><radialGradient id="gC" gradientUnits="userSpaceOnUse" cx="172" cy="236" r="68" fx="172" fy="236"><stop offset="0" stop-color="rgb(100,180,70)"/><stop offset="0.25" stop-color="rgb(130,195,100)"/><stop offset="0.5" stop-color="rgb(170,215,150)"/><stop offset="0.75" stop-color="rgb(205,232,195)"/><stop offset="1" stop-color="rgb(228,242,222)"/></radialGradient><radialGradient id="gD" gradientUnits="userSpaceOnUse" cx="262" cy="236" r="78" fx="262" fy="236"><stop offset="0" stop-color="rgb(165,100,200)"/><stop offset="0.25" stop-color="rgb(180,130,210)"/><stop offset="0.5" stop-color="rgb(200,165,225)"/><stop offset="0.75" stop-color="rgb(222,200,238)"/><stop offset="1" stop-color="rgb(238,225,246)"/></radialGradient><radialGradient id="gE" gradientUnits="userSpaceOnUse" cx="303" cy="165" r="66" fx="303" fy="165"><stop offset="0" stop-color="rgb(238,176,108)"/><stop offset="0.18" stop-color="rgb(242,196,148)"/><stop offset="0.4" stop-color="rgb(247,219,188)"/><stop offset="0.65" stop-color="rgb(250,233,213)"/><stop offset="1" stop-color="rgb(252,242,230)"/></radialGradient><clipPath id="cpA"><polygon points="233.0,93.9 264.2,123.5 258.6,131.0 250.0,137.0 243.8,140.5 235.0,137.8 224.9,134.4 211.2,129.2 198.8,119.2"/></clipPath><clipPath id="cpB"><polygon points="161.2,147.0 198.8,119.2 211.2,129.2 224.9,134.4 235.0,137.8 243.8,140.5 244.8,152.0 247.0,166.0 243.0,165.6 232.7,168.2 217.1,174.2 201.5,183.2 166.9,185.5"/></clipPath><clipPath id="cpC"><polygon points="166.9,185.5 201.5,183.2 205.0,191.0 212.0,200.0 219.0,210.0 223.0,220.0 226.0,230.0 227.0,239.0 171.3,238.8"/></clipPath><clipPath id="cpD"><polygon points="201.5,183.2 217.1,174.2 232.7,168.2 243.0,165.6 247.0,166.0 250.0,171.5 260.0,178.5 275.0,186.0 289.7,193.0 262.3,239.2 227.0,239.0 226.0,230.0 223.0,220.0 219.0,210.0 212.0,200.0 205.0,191.0"/></clipPath><clipPath id="cpE"><polygon points="264.2,123.5 306.7,164.3 289.7,193.0 275.0,186.0 260.0,178.5 250.0,171.5 247.0,166.0 244.8,152.0 243.8,140.5 250.0,137.0 258.6,131.0"/></clipPath><clipPath id="cpP"><polygon points="233.0,93.9 306.7,164.3 262.3,239.2 171.3,238.8 161.2,147.0"/></clipPath></defs><g clip-path="url(#cpP)"><polygon points="233.0,93.9 264.2,123.5 258.6,131.0 250.0,137.0 243.8,140.5 235.0,137.8 224.9,134.4 211.2,129.2 198.8,119.2" fill="url(#gA)" stroke="url(#gA)" stroke-width="0.8"/><polygon points="161.2,147.0 198.8,119.2 211.2,129.2 224.9,134.4 235.0,137.8 243.8,140.5 244.8,152.0 247.0,166.0 243.0,165.6 232.7,168.2 217.1,174.2 201.5,183.2 166.9,185.5" fill="url(#gB)" stroke="url(#gB)" stroke-width="0.8"/><polygon points="166.9,185.5 201.5,183.2 205.0,191.0 212.0,200.0 219.0,210.0 223.0,220.0 226.0,230.0 227.0,239.0 171.3,238.8" fill="url(#gC)" stroke="url(#gC)" stroke-width="0.8"/><polygon points="201.5,183.2 217.1,174.2 232.7,168.2 243.0,165.6 247.0,166.0 250.0,171.5 260.0,178.5 275.0,186.0 289.7,193.0 262.3,239.2 227.0,239.0 226.0,230.0 223.0,220.0 219.0,210.0 212.0,200.0 205.0,191.0" fill="url(#gD)" stroke="url(#gD)" stroke-width="0.8"/><polygon points="264.2,123.5 306.7,164.3 289.7,193.0 275.0,186.0 260.0,178.5 250.0,171.5 247.0,166.0 244.8,152.0 243.8,140.5 250.0,137.0 258.6,131.0" fill="url(#gE)" stroke="url(#gE)" stroke-width="0.8"/><g clip-path="url(#cpA)" fill="none" stroke="#a0a0a0" stroke-width="0.5"><circle cx="231" cy="105" r="2.8" stroke-opacity="0.60"/><circle cx="231" cy="105" r="5.4" stroke-opacity="0.58"/><circle cx="231" cy="105" r="8.0" stroke-opacity="0.55"/><circle cx="231" cy="105" r="10.6" stroke-opacity="0.53"/><circle cx="231" cy="105" r="13.3" stroke-opacity="0.51"/><circle cx="231" cy="105" r="16.1" stroke-opacity="0.48"/><circle cx="231" cy="105" r="18.9" stroke-opacity="0.46"/><circle cx="231" cy="105" r="21.8" stroke-opacity="0.44"/><circle cx="231" cy="105" r="24.7" stroke-opacity="0.41"/><circle cx="231" cy="105" r="27.7" stroke-opacity="0.39"/><circle cx="231" cy="105" r="30.8" stroke-opacity="0.36"/><circle cx="231" cy="105" r="33.9" stroke-opacity="0.34"/><circle cx="231" cy="105" r="37.1" stroke-opacity="0.31"/><circle cx="231" cy="105" r="40.3" stroke-opacity="0.28"/><circle cx="231" cy="105" r="43.6" stroke-opacity="0.25"/><circle cx="231" cy="105" r="47.0" stroke-opacity="0.23"/></g><g clip-path="url(#cpB)" fill="none" stroke="#a0a0a0" stroke-width="0.5"><circle cx="192" cy="153" r="2.8" stroke-opacity="0.60"/><circle cx="192" cy="153" r="5.4" stroke-opacity="0.59"/><circle cx="192" cy="153" r="8.0" stroke-opacity="0.57"/><circle cx="192" cy="153" r="10.6" stroke-opacity="0.55"/><circle cx="192" cy="153" r="13.3" stroke-opacity="0.53"/><circle cx="192" cy="153" r="16.1" stroke-opacity="0.52"/><circle cx="192" cy="153" r="18.9" stroke-opacity="0.50"/><circle cx="192" cy="153" r="21.8" stroke-opacity="0.48"/><circle cx="192" cy="153" r="24.7" stroke-opacity="0.46"/><circle cx="192" cy="153" r="27.7" stroke-opacity="0.44"/><circle cx="192" cy="153" r="30.8" stroke-opacity="0.42"/><circle cx="192" cy="153" r="33.9" stroke-opacity="0.40"/><circle cx="192" cy="153" r="37.1" stroke-opacity="0.38"/><circle cx="192" cy="153" r="40.3" stroke-opacity="0.36"/><circle cx="192" cy="153" r="43.6" stroke-opacity="0.34"/><circle cx="192" cy="153" r="47.0" stroke-opacity="0.31"/><circle cx="192" cy="153" r="50.4" stroke-opacity="0.29"/><circle cx="192" cy="153" r="54.0" stroke-opacity="0.27"/><circle cx="192" cy="153" r="57.5" stroke-opacity="0.25"/><circle cx="192" cy="153" r="61.2" stroke-opacity="0.22"/></g><g clip-path="url(#cpC)" fill="none" stroke="#a0a0a0" stroke-width="0.5"><circle cx="188" cy="221" r="2.8" stroke-opacity="0.60"/><circle cx="188" cy="221" r="5.4" stroke-opacity="0.58"/><circle cx="188" cy="221" r="8.0" stroke-opacity="0.56"/><circle cx="188" cy="221" r="10.6" stroke-opacity="0.55"/><circle cx="188" cy="221" r="13.3" stroke-opacity="0.53"/><circle cx="188" cy="221" r="16.1" stroke-opacity="0.51"/><circle cx="188" cy="221" r="18.9" stroke-opacity="0.49"/><circle cx="188" cy="221" r="21.8" stroke-opacity="0.47"/><circle cx="188" cy="221" r="24.7" stroke-opacity="0.45"/><circle cx="188" cy="221" r="27.7" stroke-opacity="0.43"/><circle cx="188" cy="221" r="30.8" stroke-opacity="0.41"/><circle cx="188" cy="221" r="33.9" stroke-opacity="0.38"/><circle cx="188" cy="221" r="37.1" stroke-opacity="0.36"/><circle cx="188" cy="221" r="40.3" stroke-opacity="0.34"/><circle cx="188" cy="221" r="43.6" stroke-opacity="0.32"/><circle cx="188" cy="221" r="47.0" stroke-opacity="0.29"/><circle cx="188" cy="221" r="50.4" stroke-opacity="0.27"/><circle cx="188" cy="221" r="54.0" stroke-opacity="0.25"/><circle cx="188" cy="221" r="57.5" stroke-opacity="0.22"/></g><g clip-path="url(#cpD)" fill="none" stroke="#a0a0a0" stroke-width="0.5"><circle cx="256" cy="218" r="2.8" stroke-opacity="0.60"/><circle cx="256" cy="218" r="5.4" stroke-opacity="0.59"/><circle cx="256" cy="218" r="8.0" stroke-opacity="0.57"/><circle cx="256" cy="218" r="10.6" stroke-opacity="0.55"/><circle cx="256" cy="218" r="13.3" stroke-opacity="0.53"/><circle cx="256" cy="218" r="16.1" stroke-opacity="0.52"/><circle cx="256" cy="218" r="18.9" stroke-opacity="0.50"/><circle cx="256" cy="218" r="21.8" stroke-opacity="0.48"/><circle cx="256" cy="218" r="24.7" stroke-opacity="0.46"/><circle cx="256" cy="218" r="27.7" stroke-opacity="0.44"/><circle cx="256" cy="218" r="30.8" stroke-opacity="0.42"/><circle cx="256" cy="218" r="33.9" stroke-opacity="0.40"/><circle cx="256" cy="218" r="37.1" stroke-opacity="0.38"/><circle cx="256" cy="218" r="40.3" stroke-opacity="0.36"/><circle cx="256" cy="218" r="43.6" stroke-opacity="0.34"/><circle cx="256" cy="218" r="47.0" stroke-opacity="0.31"/><circle cx="256" cy="218" r="50.4" stroke-opacity="0.29"/><circle cx="256" cy="218" r="54.0" stroke-opacity="0.27"/><circle cx="256" cy="218" r="57.5" stroke-opacity="0.25"/><circle cx="256" cy="218" r="61.2" stroke-opacity="0.22"/></g><g clip-path="url(#cpE)" fill="none" stroke="#a0a0a0" stroke-width="0.5"><circle cx="292" cy="162" r="2.8" stroke-opacity="0.60"/><circle cx="292" cy="162" r="5.4" stroke-opacity="0.58"/><circle cx="292" cy="162" r="8.0" stroke-opacity="0.56"/><circle cx="292" cy="162" r="10.6" stroke-opacity="0.54"/><circle cx="292" cy="162" r="13.3" stroke-opacity="0.52"/><circle cx="292" cy="162" r="16.1" stroke-opacity="0.50"/><circle cx="292" cy="162" r="18.9" stroke-opacity="0.47"/><circle cx="292" cy="162" r="21.8" stroke-opacity="0.45"/><circle cx="292" cy="162" r="24.7" stroke-opacity="0.43"/><circle cx="292" cy="162" r="27.7" stroke-opacity="0.41"/><circle cx="292" cy="162" r="30.8" stroke-opacity="0.38"/><circle cx="292" cy="162" r="33.9" stroke-opacity="0.36"/><circle cx="292" cy="162" r="37.1" stroke-opacity="0.33"/><circle cx="292" cy="162" r="40.3" stroke-opacity="0.31"/><circle cx="292" cy="162" r="43.6" stroke-opacity="0.28"/><circle cx="292" cy="162" r="47.0" stroke-opacity="0.26"/><circle cx="292" cy="162" r="50.4" stroke-opacity="0.23"/></g></g><polygon points="233.0,93.9 306.7,164.3 262.3,239.2 171.3,238.8 161.2,147.0" fill="none" stroke="#777" stroke-width="0.8"/><line x1="233.00" y1="93.90" x2="262.30" y2="239.20" stroke="#555" stroke-width="0.85" /><line x1="161.20" y1="147.00" x2="262.30" y2="239.20" stroke="#555" stroke-width="0.85" /><circle cx="233.0" cy="93.9" r="3.3" fill="#15183a"/><circle cx="306.7" cy="164.3" r="3.3" fill="#15183a"/><circle cx="262.3" cy="239.2" r="3.3" fill="#15183a"/><circle cx="171.3" cy="238.8" r="3.3" fill="#15183a"/><circle cx="161.2" cy="147.0" r="3.3" fill="#15183a"/><g stroke="#3a3a3a" stroke-opacity="0.55" stroke-width="0.5" fill="#D42A2E"><circle cx="233.0" cy="95.0" r="2.5"/><circle cx="232.9" cy="97.6" r="2.5"/><circle cx="231.3" cy="100.6" r="2.5"/><circle cx="226.4" cy="101.1" r="2.5"/><circle cx="235.3" cy="101.1" r="2.5"/><circle cx="220.3" cy="105.1" r="2.5"/><circle cx="230.0" cy="117.3" r="2.5"/><circle cx="196.3" cy="122.0" r="2.5"/><circle cx="240.2" cy="131.2" r="2.5"/></g><g stroke="#3a3a3a" stroke-opacity="0.55" stroke-width="0.5" fill="#72B24F"><circle cx="220.7" cy="121.6" r="2.5"/><circle cx="219.3" cy="127.2" r="2.5"/><circle cx="218.4" cy="129.6" r="2.5"/><circle cx="210.1" cy="144.6" r="2.5"/><circle cx="198.0" cy="182.9" r="2.5"/><circle cx="186.8" cy="189.0" r="2.5"/><circle cx="185.3" cy="208.6" r="2.5"/><circle cx="198.4" cy="210.4" r="2.5"/><circle cx="170.9" cy="212.1" r="2.5"/><circle cx="170.5" cy="219.5" r="2.5"/><circle cx="174.1" cy="224.2" r="2.5"/><circle cx="178.1" cy="222.4" r="2.5"/><circle cx="182.5" cy="221.0" r="2.5"/><circle cx="183.4" cy="226.3" r="2.5"/><circle cx="178.6" cy="228.2" r="2.5"/><circle cx="189.7" cy="227.4" r="2.5"/><circle cx="193.4" cy="226.3" r="2.5"/><circle cx="210.9" cy="224.5" r="2.5"/><circle cx="173.7" cy="232.2" r="2.5"/><circle cx="171.2" cy="233.7" r="2.5"/><circle cx="177.6" cy="234.6" r="2.5"/><circle cx="183.2" cy="237.2" r="2.5"/><circle cx="196.6" cy="236.1" r="2.5"/><circle cx="171.5" cy="238.6" r="2.5"/><circle cx="212.6" cy="236.4" r="2.5"/></g><g stroke="#3a3a3a" stroke-opacity="0.55" stroke-width="0.5" fill="#5585C2"><circle cx="208.8" cy="121.2" r="2.5"/><circle cx="209.5" cy="126.5" r="2.5"/><circle cx="211.6" cy="129.5" r="2.5"/><circle cx="196.3" cy="128.4" r="2.5"/><circle cx="198.3" cy="131.5" r="2.5"/><circle cx="215.2" cy="133.0" r="2.5"/><circle cx="216.6" cy="134.8" r="2.5"/><circle cx="191.6" cy="139.6" r="2.5"/><circle cx="198.7" cy="145.4" r="2.5"/><circle cx="173.2" cy="143.6" r="2.5"/><circle cx="165.9" cy="147.2" r="2.5"/><circle cx="163.3" cy="150.6" r="2.5"/><circle cx="165.4" cy="151.9" r="2.5"/><circle cx="168.6" cy="150.4" r="2.5"/><circle cx="173.3" cy="150.4" r="2.5"/><circle cx="177.0" cy="149.0" r="2.5"/><circle cx="179.7" cy="148.7" r="2.5"/><circle cx="168.6" cy="155.3" r="2.5"/><circle cx="171.8" cy="154.3" r="2.5"/><circle cx="186.0" cy="150.4" r="2.5"/><circle cx="182.3" cy="159.0" r="2.5"/><circle cx="186.0" cy="159.3" r="2.5"/><circle cx="190.3" cy="158.8" r="2.5"/><circle cx="188.2" cy="163.5" r="2.5"/><circle cx="197.7" cy="159.6" r="2.5"/><circle cx="165.9" cy="162.2" r="2.5"/><circle cx="170.2" cy="160.6" r="2.5"/><circle cx="165.4" cy="169.6" r="2.5"/><circle cx="168.6" cy="168.8" r="2.5"/><circle cx="239.1" cy="129.2" r="2.5"/><circle cx="239.0" cy="158.8" r="2.5"/><circle cx="248.2" cy="163.0" r="2.5"/></g><g stroke="#3a3a3a" stroke-opacity="0.55" stroke-width="0.5" fill="#8B4FA8"><circle cx="210.8" cy="179.9" r="2.5"/><circle cx="235.9" cy="178.2" r="2.5"/><circle cx="250.0" cy="185.1" r="2.5"/><circle cx="242.6" cy="189.9" r="2.5"/><circle cx="217.2" cy="197.8" r="2.5"/><circle cx="235.5" cy="214.3" r="2.5"/><circle cx="243.6" cy="210.8" r="2.5"/><circle cx="247.8" cy="212.0" r="2.5"/><circle cx="259.9" cy="178.3" r="2.5"/><circle cx="260.1" cy="211.5" r="2.5"/><circle cx="263.4" cy="221.8" r="2.5"/><circle cx="243.6" cy="228.7" r="2.5"/><circle cx="255.7" cy="230.8" r="2.5"/><circle cx="255.3" cy="233.2" r="2.5"/><circle cx="261.5" cy="236.8" r="2.5"/><circle cx="246.0" cy="238.7" r="2.5"/><circle cx="264.6" cy="229.0" r="2.5"/><circle cx="263.1" cy="230.4" r="2.5"/><circle cx="279.4" cy="178.3" r="2.5"/><circle cx="282.6" cy="183.2" r="2.5"/><circle cx="279.6" cy="203.3" r="2.5"/><circle cx="274.3" cy="207.6" r="2.5"/><circle cx="266.4" cy="212.5" r="2.5"/><circle cx="276.5" cy="213.3" r="2.5"/><circle cx="271.7" cy="222.1" r="2.5"/><circle cx="273.3" cy="220.6" r="2.5"/></g><g stroke="#3a3a3a" stroke-opacity="0.55" stroke-width="0.5" fill="#EC8A1E"><circle cx="239.5" cy="102.3" r="2.5"/><circle cx="242.4" cy="108.0" r="2.5"/><circle cx="249.8" cy="114.5" r="2.5"/><circle cx="240.9" cy="120.2" r="2.5"/><circle cx="249.7" cy="123.2" r="2.5"/><circle cx="263.3" cy="128.1" r="2.5"/><circle cx="252.1" cy="135.5" r="2.5"/><circle cx="226.4" cy="139.3" r="2.5"/><circle cx="232.3" cy="147.8" r="2.5"/><circle cx="277.8" cy="154.8" r="2.5"/><circle cx="294.0" cy="158.1" r="2.5"/><circle cx="291.3" cy="162.1" r="2.5"/><circle cx="298.8" cy="161.0" r="2.5"/><circle cx="302.1" cy="160.1" r="2.5"/><circle cx="304.0" cy="163.8" r="2.5"/><circle cx="289.0" cy="165.6" r="2.5"/><circle cx="294.2" cy="166.4" r="2.5"/><circle cx="296.8" cy="169.0" r="2.5"/><circle cx="293.1" cy="170.2" r="2.5"/><circle cx="302.9" cy="168.4" r="2.5"/><circle cx="305.7" cy="164.4" r="2.5"/><circle cx="295.4" cy="174.2" r="2.5"/><circle cx="298.6" cy="175.9" r="2.5"/><circle cx="264.8" cy="176.1" r="2.5"/><circle cx="279.0" cy="183.0" r="2.5"/><circle cx="241.8" cy="175.6" r="2.5"/><circle cx="255.6" cy="194.1" r="2.5"/><circle cx="261.9" cy="196.7" r="2.5"/><circle cx="237.9" cy="203.9" r="2.5"/><circle cx="229.1" cy="207.8" r="2.5"/><circle cx="250.0" cy="210.3" r="2.5"/><circle cx="251.1" cy="225.2" r="2.5"/><circle cx="240.9" cy="230.2" r="2.5"/><circle cx="209.1" cy="234.8" r="2.5"/><circle cx="293.4" cy="171.1" r="2.5"/><circle cx="295.5" cy="173.7" r="2.5"/><circle cx="298.7" cy="175.8" r="2.5"/></g><text x="226.80" y="93.00" font-size="8.4" text-anchor="end" fill="#0a0a0a" font-weight="normal" stroke="#0a0a0a" stroke-width="0.07" >Component 1</text><text x="160.60" y="141.80" font-size="8.4" text-anchor="end" fill="#0a0a0a" font-weight="normal" stroke="#0a0a0a" stroke-width="0.07" >Component 2</text><text x="134.00" y="250.80" font-size="8.4" text-anchor="start" fill="#0a0a0a" font-weight="normal" stroke="#0a0a0a" stroke-width="0.07" >Component 3</text><text x="238.00" y="250.50" font-size="8.4" text-anchor="start" fill="#0a0a0a" font-weight="normal" stroke="#0a0a0a" stroke-width="0.07" >Component 4</text><text x="304.20" y="156.80" font-size="8.4" text-anchor="start" fill="#0a0a0a" font-weight="normal" stroke="#0a0a0a" stroke-width="0.07" >Component 5</text><rect x="373.20" y="139.00" width="11.00" height="11.75" fill="#C52124" /><text x="387.00" y="148.20" font-size="8.4" text-anchor="start" fill="#0a0a0a" font-weight="normal" stroke="#0a0a0a" stroke-width="0.07" >Cluster A</text><rect x="373.20" y="150.75" width="11.00" height="11.75" fill="#527DB4" /><text x="387.00" y="160.10" font-size="8.4" text-anchor="start" fill="#0a0a0a" font-weight="normal" stroke="#0a0a0a" stroke-width="0.07" >Cluster B</text><rect x="373.20" y="162.50" width="11.00" height="11.75" fill="#72AC54" /><text x="387.00" y="172.00" font-size="8.4" text-anchor="start" fill="#0a0a0a" font-weight="normal" stroke="#0a0a0a" stroke-width="0.07" >Cluster C</text><rect x="373.20" y="174.25" width="11.00" height="11.75" fill="#8752A2" /><text x="387.00" y="183.90" font-size="8.4" text-anchor="start" fill="#0a0a0a" font-weight="normal" stroke="#0a0a0a" stroke-width="0.07" >Cluster D</text><rect x="373.20" y="186.00" width="11.00" height="11.75" fill="#E27E1B" /><text x="387.00" y="195.80" font-size="8.4" text-anchor="start" fill="#0a0a0a" font-weight="normal" stroke="#0a0a0a" stroke-width="0.07" >Cluster E</text><defs><linearGradient id="cbar" x1="0" y1="1" x2="0" y2="0"><stop offset="0.000" stop-color="rgb(56,74,198)"/><stop offset="0.101" stop-color="rgb(88,112,222)"/><stop offset="0.242" stop-color="rgb(140,165,240)"/><stop offset="0.383" stop-color="rgb(195,210,242)"/><stop offset="0.482" stop-color="rgb(222,222,222)"/><stop offset="0.580" stop-color="rgb(235,190,165)"/><stop offset="0.665" stop-color="rgb(228,150,120)"/><stop offset="0.806" stop-color="rgb(200,90,72)"/><stop offset="0.946" stop-color="rgb(165,30,45)"/><stop offset="1.000" stop-color="rgb(146,11,38)"/></linearGradient></defs><rect x="441.80" y="137.80" width="11.40" height="58.90" fill="url(#cbar)" /><line x1="441.80" y1="140.90" x2="443.80" y2="140.90" stroke="#555" stroke-width="0.6" /><line x1="451.20" y1="140.90" x2="453.20" y2="140.90" stroke="#555" stroke-width="0.6" /><text x="461.50" y="144.30" font-size="8.4" text-anchor="end" fill="#0a0a0a" font-weight="normal" stroke="#0a0a0a" stroke-width="0.07" >2</text><line x1="441.80" y1="157.50" x2="443.80" y2="157.50" stroke="#555" stroke-width="0.6" /><line x1="451.20" y1="157.50" x2="453.20" y2="157.50" stroke="#555" stroke-width="0.6" /><text x="461.50" y="160.90" font-size="8.4" text-anchor="end" fill="#0a0a0a" font-weight="normal" stroke="#0a0a0a" stroke-width="0.07" >1</text><line x1="441.80" y1="174.10" x2="443.80" y2="174.10" stroke="#555" stroke-width="0.6" /><line x1="451.20" y1="174.10" x2="453.20" y2="174.10" stroke="#555" stroke-width="0.6" /><text x="461.50" y="177.50" font-size="8.4" text-anchor="end" fill="#0a0a0a" font-weight="normal" stroke="#0a0a0a" stroke-width="0.07" >0</text><line x1="441.80" y1="190.70" x2="443.80" y2="190.70" stroke="#555" stroke-width="0.6" /><line x1="451.20" y1="190.70" x2="453.20" y2="190.70" stroke="#555" stroke-width="0.6" /><text x="461.50" y="194.10" font-size="8.4" text-anchor="end" fill="#0a0a0a" font-weight="normal" stroke="#0a0a0a" stroke-width="0.07" >−1</text><text x="469.00" y="164.80" font-size="8.4" text-anchor="start" fill="#0a0a0a" font-weight="normal" stroke="#0a0a0a" stroke-width="0.07" >Component</text><text x="469.00" y="175.30" font-size="8.4" text-anchor="start" fill="#0a0a0a" font-weight="normal" stroke="#0a0a0a" stroke-width="0.07" >Z−Score</text><text x="7.60" y="274.00" font-size="12.6" text-anchor="start" fill="#000" font-weight="bold" stroke="#000" stroke-width="0.45" >C</text><rect x="101.50" y="281.00" width="31.80" height="221.20" fill="#fff" /><line x1="103.77" y1="281.00" x2="103.77" y2="502.20" stroke="#e4e4e4" stroke-width="0.75" /><line x1="106.04" y1="281.00" x2="106.04" y2="502.20" stroke="#e4e4e4" stroke-width="0.75" /><line x1="108.31" y1="281.00" x2="108.31" y2="502.20" stroke="#e4e4e4" stroke-width="0.75" /><line x1="110.59" y1="281.00" x2="110.59" y2="502.20" stroke="#e4e4e4" stroke-width="0.75" /><line x1="112.86" y1="281.00" x2="112.86" y2="502.20" stroke="#e4e4e4" stroke-width="0.75" /><line x1="115.13" y1="281.00" x2="115.13" y2="502.20" stroke="#e4e4e4" stroke-width="0.75" /><line x1="117.40" y1="281.00" x2="117.40" y2="502.20" stroke="#e4e4e4" stroke-width="0.75" /><line x1="119.67" y1="281.00" x2="119.67" y2="502.20" stroke="#e4e4e4" stroke-width="0.75" /><line x1="121.94" y1="281.00" x2="121.94" y2="502.20" stroke="#e4e4e4" stroke-width="0.75" /><line x1="124.21" y1="281.00" x2="124.21" y2="502.20" stroke="#e4e4e4" stroke-width="0.75" /><line x1="126.49" y1="281.00" x2="126.49" y2="502.20" stroke="#e4e4e4" stroke-width="0.75" /><line x1="128.76" y1="281.00" x2="128.76" y2="502.20" stroke="#e4e4e4" stroke-width="0.75" /><line x1="131.03" y1="281.00" x2="131.03" y2="502.20" stroke="#e4e4e4" stroke-width="0.75" /><line x1="101.50" y1="289.80" x2="133.30" y2="289.80" stroke="#e4e4e4" stroke-width="0.75" /><line x1="101.50" y1="298.61" x2="133.30" y2="298.61" stroke="#e4e4e4" stroke-width="0.75" /><line x1="101.50" y1="307.41" x2="133.30" y2="307.41" stroke="#e4e4e4" stroke-width="0.75" /><line x1="101.50" y1="316.22" x2="133.30" y2="316.22" stroke="#e4e4e4" stroke-width="0.75" /><line x1="101.50" y1="325.02" x2="133.30" y2="325.02" stroke="#e4e4e4" stroke-width="0.75" /><line x1="101.50" y1="333.82" x2="133.30" y2="333.82" stroke="#e4e4e4" stroke-width="0.75" /><line x1="101.50" y1="342.63" x2="133.30" y2="342.63" stroke="#e4e4e4" stroke-width="0.75" /><line x1="101.50" y1="351.43" x2="133.30" y2="351.43" stroke="#e4e4e4" stroke-width="0.75" /><line x1="101.50" y1="360.24" x2="133.30" y2="360.24" stroke="#e4e4e4" stroke-width="0.75" /><line x1="101.50" y1="369.04" x2="133.30" y2="369.04" stroke="#e4e4e4" stroke-width="0.75" /><line x1="101.50" y1="377.84" x2="133.30" y2="377.84" stroke="#e4e4e4" stroke-width="0.75" /><line x1="101.50" y1="386.65" x2="133.30" y2="386.65" stroke="#e4e4e4" stroke-width="0.75" /><line x1="101.50" y1="395.45" x2="133.30" y2="395.45" stroke="#e4e4e4" stroke-width="0.75" /><line x1="101.50" y1="404.26" x2="133.30" y2="404.26" stroke="#e4e4e4" stroke-width="0.75" /><line x1="101.50" y1="413.06" x2="133.30" y2="413.06" stroke="#e4e4e4" stroke-width="0.75" /><line x1="101.50" y1="421.86" x2="133.30" y2="421.86" stroke="#e4e4e4" stroke-width="0.75" /><line x1="101.50" y1="430.67" x2="133.30" y2="430.67" stroke="#e4e4e4" stroke-width="0.75" /><line x1="101.50" y1="439.47" x2="133.30" y2="439.47" stroke="#e4e4e4" stroke-width="0.75" /><line x1="101.50" y1="448.28" x2="133.30" y2="448.28" stroke="#e4e4e4" stroke-width="0.75" /><line x1="101.50" y1="457.08" x2="133.30" y2="457.08" stroke="#e4e4e4" stroke-width="0.75" /><line x1="101.50" y1="465.88" x2="133.30" y2="465.88" stroke="#e4e4e4" stroke-width="0.75" /><line x1="101.50" y1="474.69" x2="133.30" y2="474.69" stroke="#e4e4e4" stroke-width="0.75" /><line x1="101.50" y1="483.49" x2="133.30" y2="483.49" stroke="#e4e4e4" stroke-width="0.75" /><line x1="101.50" y1="492.30" x2="133.30" y2="492.30" stroke="#e4e4e4" stroke-width="0.75" /><rect x="101.65" y="281.30" width="1.97" height="8.20" fill="#D46A92" /><rect x="103.92" y="298.91" width="1.97" height="8.20" fill="#CC6E50" /><rect x="106.19" y="334.12" width="1.97" height="8.20" fill="#A28F1E" /><rect x="108.46" y="334.12" width="1.97" height="8.20" fill="#A28F1E" /><rect x="103.92" y="342.93" width="1.97" height="8.20" fill="#99961E" /><rect x="113.01" y="351.73" width="1.97" height="8.20" fill="#8E9C22" /><rect x="108.46" y="360.54" width="1.97" height="8.20" fill="#78A22E" /><rect x="110.74" y="360.54" width="1.97" height="8.20" fill="#78A22E" /><rect x="115.28" y="413.36" width="1.97" height="8.20" fill="#389A96" /><rect x="101.65" y="448.58" width="1.97" height="8.20" fill="#3E88D4" /><rect x="103.92" y="448.58" width="1.97" height="8.20" fill="#3E88D4" /><rect x="117.55" y="448.58" width="1.97" height="8.20" fill="#3E88D4" /><rect x="119.82" y="448.58" width="1.97" height="8.20" fill="#3E88D4" /><rect x="108.46" y="457.38" width="1.97" height="8.20" fill="#4A7CD8" /><rect x="122.09" y="457.38" width="1.97" height="8.20" fill="#4A7CD8" /><rect x="124.36" y="474.99" width="1.97" height="8.20" fill="#8462DE" /><rect x="106.19" y="483.79" width="1.97" height="8.20" fill="#9858D8" /><rect x="113.01" y="483.79" width="1.97" height="8.20" fill="#9858D8" /><rect x="128.91" y="483.79" width="1.97" height="8.20" fill="#9858D8" /><rect x="131.18" y="483.79" width="1.97" height="8.20" fill="#9858D8" /><rect x="115.28" y="492.60" width="1.97" height="8.20" fill="#AC50D2" /><rect x="101.50" y="263.60" width="31.80" height="16.70" fill="#C52124" /><text x="117.40" y="275.05" font-size="9.8" text-anchor="middle" fill="#fff" font-weight="normal" stroke="#fff" stroke-width="0.1" >A</text><line x1="101.50" y1="280.30" x2="133.30" y2="280.30" stroke="#111" stroke-width="1" /><rect x="101.50" y="263.60" width="31.80" height="238.60" fill="none" stroke="#111" stroke-width="1" /><rect x="138.90" y="281.00" width="91.60" height="221.20" fill="#fff" /><line x1="141.13" y1="281.00" x2="141.13" y2="502.20" stroke="#e4e4e4" stroke-width="0.75" /><line x1="143.37" y1="281.00" x2="143.37" y2="502.20" stroke="#e4e4e4" stroke-width="0.75" /><line x1="145.60" y1="281.00" x2="145.60" y2="502.20" stroke="#e4e4e4" stroke-width="0.75" /><line x1="147.84" y1="281.00" x2="147.84" y2="502.20" stroke="#e4e4e4" stroke-width="0.75" /><line x1="150.07" y1="281.00" x2="150.07" y2="502.20" stroke="#e4e4e4" stroke-width="0.75" /><line x1="152.30" y1="281.00" x2="152.30" y2="502.20" stroke="#e4e4e4" stroke-width="0.75" /><line x1="154.54" y1="281.00" x2="154.54" y2="502.20" stroke="#e4e4e4" stroke-width="0.75" /><line x1="156.77" y1="281.00" x2="156.77" y2="502.20" stroke="#e4e4e4" stroke-width="0.75" /><line x1="159.01" y1="281.00" x2="159.01" y2="502.20" stroke="#e4e4e4" stroke-width="0.75" /><line x1="161.24" y1="281.00" x2="161.24" y2="502.20" stroke="#e4e4e4" stroke-width="0.75" /><line x1="163.48" y1="281.00" x2="163.48" y2="502.20" stroke="#e4e4e4" stroke-width="0.75" /><line x1="165.71" y1="281.00" x2="165.71" y2="502.20" stroke="#e4e4e4" stroke-width="0.75" /><line x1="167.94" y1="281.00" x2="167.94" y2="502.20" stroke="#e4e4e4" stroke-width="0.75" /><line x1="170.18" y1="281.00" x2="170.18" y2="502.20" stroke="#e4e4e4" stroke-width="0.75" /><line x1="172.41" y1="281.00" x2="172.41" y2="502.20" stroke="#e4e4e4" stroke-width="0.75" /><line x1="174.65" y1="281.00" x2="174.65" y2="502.20" stroke="#e4e4e4" stroke-width="0.75" /><line x1="176.88" y1="281.00" x2="176.88" y2="502.20" stroke="#e4e4e4" stroke-width="0.75" /><line x1="179.11" y1="281.00" x2="179.11" y2="502.20" stroke="#e4e4e4" stroke-width="0.75" /><line x1="181.35" y1="281.00" x2="181.35" y2="502.20" stroke="#e4e4e4" stroke-width="0.75" /><line x1="183.58" y1="281.00" x2="183.58" y2="502.20" stroke="#e4e4e4" stroke-width="0.75" /><line x1="185.82" y1="281.00" x2="185.82" y2="502.20" stroke="#e4e4e4" stroke-width="0.75" /><line x1="188.05" y1="281.00" x2="188.05" y2="502.20" stroke="#e4e4e4" stroke-width="0.75" /><line x1="190.29" y1="281.00" x2="190.29" y2="502.20" stroke="#e4e4e4" stroke-width="0.75" /><line x1="192.52" y1="281.00" x2="192.52" y2="502.20" stroke="#e4e4e4" stroke-width="0.75" /><line x1="194.75" y1="281.00" x2="194.75" y2="502.20" stroke="#e4e4e4" stroke-width="0.75" /><line x1="196.99" y1="281.00" x2="196.99" y2="502.20" stroke="#e4e4e4" stroke-width="0.75" /><line x1="199.22" y1="281.00" x2="199.22" y2="502.20" stroke="#e4e4e4" stroke-width="0.75" /><line x1="201.46" y1="281.00" x2="201.46" y2="502.20" stroke="#e4e4e4" stroke-width="0.75" /><line x1="203.69" y1="281.00" x2="203.69" y2="502.20" stroke="#e4e4e4" stroke-width="0.75" /><line x1="205.92" y1="281.00" x2="205.92" y2="502.20" stroke="#e4e4e4" stroke-width="0.75" /><line x1="208.16" y1="281.00" x2="208.16" y2="502.20" stroke="#e4e4e4" stroke-width="0.75" /><line x1="210.39" y1="281.00" x2="210.39" y2="502.20" stroke="#e4e4e4" stroke-width="0.75" /><line x1="212.63" y1="281.00" x2="212.63" y2="502.20" stroke="#e4e4e4" stroke-width="0.75" /><line x1="214.86" y1="281.00" x2="214.86" y2="502.20" stroke="#e4e4e4" stroke-width="0.75" /><line x1="217.10" y1="281.00" x2="217.10" y2="502.20" stroke="#e4e4e4" stroke-width="0.75" /><line x1="219.33" y1="281.00" x2="219.33" y2="502.20" stroke="#e4e4e4" stroke-width="0.75" /><line x1="221.56" y1="281.00" x2="221.56" y2="502.20" stroke="#e4e4e4" stroke-width="0.75" /><line x1="223.80" y1="281.00" x2="223.80" y2="502.20" stroke="#e4e4e4" stroke-width="0.75" /><line x1="226.03" y1="281.00" x2="226.03" y2="502.20" stroke="#e4e4e4" stroke-width="0.75" /><line x1="228.27" y1="281.00" x2="228.27" y2="502.20" stroke="#e4e4e4" stroke-width="0.75" /><line x1="138.90" y1="289.80" x2="230.50" y2="289.80" stroke="#e4e4e4" stroke-width="0.75" /><line x1="138.90" y1="298.61" x2="230.50" y2="298.61" stroke="#e4e4e4" stroke-width="0.75" /><line x1="138.90" y1="307.41" x2="230.50" y2="307.41" stroke="#e4e4e4" stroke-width="0.75" /><line x1="138.90" y1="316.22" x2="230.50" y2="316.22" stroke="#e4e4e4" stroke-width="0.75" /><line x1="138.90" y1="325.02" x2="230.50" y2="325.02" stroke="#e4e4e4" stroke-width="0.75" /><line x1="138.90" y1="333.82" x2="230.50" y2="333.82" stroke="#e4e4e4" stroke-width="0.75" /><line x1="138.90" y1="342.63" x2="230.50" y2="342.63" stroke="#e4e4e4" stroke-width="0.75" /><line x1="138.90" y1="351.43" x2="230.50" y2="351.43" stroke="#e4e4e4" stroke-width="0.75" /><line x1="138.90" y1="360.24" x2="230.50" y2="360.24" stroke="#e4e4e4" stroke-width="0.75" /><line x1="138.90" y1="369.04" x2="230.50" y2="369.04" stroke="#e4e4e4" stroke-width="0.75" /><line x1="138.90" y1="377.84" x2="230.50" y2="377.84" stroke="#e4e4e4" stroke-width="0.75" /><line x1="138.90" y1="386.65" x2="230.50" y2="386.65" stroke="#e4e4e4" stroke-width="0.75" /><line x1="138.90" y1="395.45" x2="230.50" y2="395.45" stroke="#e4e4e4" stroke-width="0.75" /><line x1="138.90" y1="404.26" x2="230.50" y2="404.26" stroke="#e4e4e4" stroke-width="0.75" /><line x1="138.90" y1="413.06" x2="230.50" y2="413.06" stroke="#e4e4e4" stroke-width="0.75" /><line x1="138.90" y1="421.86" x2="230.50" y2="421.86" stroke="#e4e4e4" stroke-width="0.75" /><line x1="138.90" y1="430.67" x2="230.50" y2="430.67" stroke="#e4e4e4" stroke-width="0.75" /><line x1="138.90" y1="439.47" x2="230.50" y2="439.47" stroke="#e4e4e4" stroke-width="0.75" /><line x1="138.90" y1="448.28" x2="230.50" y2="448.28" stroke="#e4e4e4" stroke-width="0.75" /><line x1="138.90" y1="457.08" x2="230.50" y2="457.08" stroke="#e4e4e4" stroke-width="0.75" /><line x1="138.90" y1="465.88" x2="230.50" y2="465.88" stroke="#e4e4e4" stroke-width="0.75" /><line x1="138.90" y1="474.69" x2="230.50" y2="474.69" stroke="#e4e4e4" stroke-width="0.75" /><line x1="138.90" y1="483.49" x2="230.50" y2="483.49" stroke="#e4e4e4" stroke-width="0.75" /><line x1="138.90" y1="492.30" x2="230.50" y2="492.30" stroke="#e4e4e4" stroke-width="0.75" /><rect x="139.05" y="281.30" width="1.93" height="8.20" fill="#D46A92" /><rect x="141.28" y="281.30" width="1.93" height="8.20" fill="#D46A92" /><rect x="143.52" y="281.30" width="1.93" height="8.20" fill="#D46A92" /><rect x="145.75" y="281.30" width="1.93" height="8.20" fill="#D46A92" /><rect x="147.99" y="281.30" width="1.93" height="8.20" fill="#D46A92" /><rect x="143.52" y="290.10" width="1.93" height="8.20" fill="#D06A6E" /><rect x="145.75" y="290.10" width="1.93" height="8.20" fill="#D06A6E" /><rect x="147.99" y="290.10" width="1.93" height="8.20" fill="#D06A6E" /><rect x="150.22" y="290.10" width="1.93" height="8.20" fill="#D06A6E" /><rect x="152.45" y="290.10" width="1.93" height="8.20" fill="#D06A6E" /><rect x="154.69" y="290.10" width="1.93" height="8.20" fill="#D06A6E" /><rect x="156.92" y="290.10" width="1.93" height="8.20" fill="#D06A6E" /><rect x="159.16" y="290.10" width="1.93" height="8.20" fill="#D06A6E" /><rect x="161.39" y="290.10" width="1.93" height="8.20" fill="#D06A6E" /><rect x="163.63" y="290.10" width="1.93" height="8.20" fill="#D06A6E" /><rect x="165.86" y="290.10" width="1.93" height="8.20" fill="#D06A6E" /><rect x="147.99" y="298.91" width="1.93" height="8.20" fill="#CC6E50" /><rect x="168.09" y="298.91" width="1.93" height="8.20" fill="#CC6E50" /><rect x="170.33" y="298.91" width="1.93" height="8.20" fill="#CC6E50" /><rect x="172.56" y="298.91" width="1.93" height="8.20" fill="#CC6E50" /><rect x="174.80" y="298.91" width="1.93" height="8.20" fill="#CC6E50" /><rect x="177.03" y="298.91" width="1.93" height="8.20" fill="#CC6E50" /><rect x="179.26" y="298.91" width="1.93" height="8.20" fill="#CC6E50" /><rect x="181.50" y="298.91" width="1.93" height="8.20" fill="#CC6E50" /><rect x="143.52" y="307.71" width="1.93" height="8.20" fill="#C27832" /><rect x="161.39" y="307.71" width="1.93" height="8.20" fill="#C27832" /><rect x="163.63" y="307.71" width="1.93" height="8.20" fill="#C27832" /><rect x="165.86" y="307.71" width="1.93" height="8.20" fill="#C27832" /><rect x="181.50" y="307.71" width="1.93" height="8.20" fill="#C27832" /><rect x="183.73" y="307.71" width="1.93" height="8.20" fill="#C27832" /><rect x="185.97" y="307.71" width="1.93" height="8.20" fill="#C27832" /><rect x="188.20" y="307.71" width="1.93" height="8.20" fill="#C27832" /><rect x="159.16" y="316.52" width="1.93" height="8.20" fill="#B47E18" /><rect x="179.26" y="316.52" width="1.93" height="8.20" fill="#B47E18" /><rect x="141.28" y="325.32" width="1.93" height="8.20" fill="#A68612" /><rect x="152.45" y="325.32" width="1.93" height="8.20" fill="#A68612" /><rect x="154.69" y="325.32" width="1.93" height="8.20" fill="#A68612" /><rect x="165.86" y="325.32" width="1.93" height="8.20" fill="#A68612" /><rect x="183.73" y="325.32" width="1.93" height="8.20" fill="#A68612" /><rect x="185.97" y="325.32" width="1.93" height="8.20" fill="#A68612" /><rect x="188.20" y="325.32" width="1.93" height="8.20" fill="#A68612" /><rect x="190.44" y="325.32" width="1.93" height="8.20" fill="#A68612" /><rect x="192.67" y="325.32" width="1.93" height="8.20" fill="#A68612" /><rect x="194.90" y="325.32" width="1.93" height="8.20" fill="#A68612" /><rect x="197.14" y="325.32" width="1.93" height="8.20" fill="#A68612" /><rect x="199.37" y="325.32" width="1.93" height="8.20" fill="#A68612" /><rect x="201.61" y="325.32" width="1.93" height="8.20" fill="#A68612" /><rect x="147.99" y="334.12" width="1.93" height="8.20" fill="#A28F1E" /><rect x="174.80" y="334.12" width="1.93" height="8.20" fill="#A28F1E" /><rect x="177.03" y="334.12" width="1.93" height="8.20" fill="#A28F1E" /><rect x="203.84" y="334.12" width="1.93" height="8.20" fill="#A28F1E" /><rect x="139.05" y="351.73" width="1.93" height="8.20" fill="#8E9C22" /><rect x="203.84" y="351.73" width="1.93" height="8.20" fill="#8E9C22" /><rect x="206.07" y="351.73" width="1.93" height="8.20" fill="#8E9C22" /><rect x="208.31" y="351.73" width="1.93" height="8.20" fill="#8E9C22" /><rect x="210.54" y="351.73" width="1.93" height="8.20" fill="#8E9C22" /><rect x="212.78" y="351.73" width="1.93" height="8.20" fill="#8E9C22" /><rect x="215.01" y="351.73" width="1.93" height="8.20" fill="#8E9C22" /><rect x="159.16" y="360.54" width="1.93" height="8.20" fill="#78A22E" /><rect x="215.01" y="360.54" width="1.93" height="8.20" fill="#78A22E" /><rect x="143.52" y="369.34" width="1.93" height="8.20" fill="#6A9E2C" /><rect x="163.63" y="369.34" width="1.93" height="8.20" fill="#6A9E2C" /><rect x="150.22" y="395.75" width="1.93" height="8.20" fill="#3C9A72" /><rect x="154.69" y="395.75" width="1.93" height="8.20" fill="#3C9A72" /><rect x="201.61" y="395.75" width="1.93" height="8.20" fill="#3C9A72" /><rect x="177.03" y="404.56" width="1.93" height="8.20" fill="#3A9A84" /><rect x="217.25" y="404.56" width="1.93" height="8.20" fill="#3A9A84" /><rect x="219.48" y="404.56" width="1.93" height="8.20" fill="#3A9A84" /><rect x="221.71" y="404.56" width="1.93" height="8.20" fill="#3A9A84" /><rect x="199.37" y="413.36" width="1.93" height="8.20" fill="#389A96" /><rect x="226.18" y="413.36" width="1.93" height="8.20" fill="#389A96" /><rect x="212.78" y="422.16" width="1.93" height="8.20" fill="#3696AC" /><rect x="179.26" y="430.97" width="1.93" height="8.20" fill="#3892C0" /><rect x="188.20" y="439.77" width="1.93" height="8.20" fill="#3C8CCE" /><rect x="150.22" y="448.58" width="1.93" height="8.20" fill="#3E88D4" /><rect x="154.69" y="448.58" width="1.93" height="8.20" fill="#3E88D4" /><rect x="170.33" y="448.58" width="1.93" height="8.20" fill="#3E88D4" /><rect x="172.56" y="448.58" width="1.93" height="8.20" fill="#3E88D4" /><rect x="174.80" y="448.58" width="1.93" height="8.20" fill="#3E88D4" /><rect x="177.03" y="448.58" width="1.93" height="8.20" fill="#3E88D4" /><rect x="192.67" y="448.58" width="1.93" height="8.20" fill="#3E88D4" /><rect x="194.90" y="448.58" width="1.93" height="8.20" fill="#3E88D4" /><rect x="197.14" y="448.58" width="1.93" height="8.20" fill="#3E88D4" /><rect x="199.37" y="448.58" width="1.93" height="8.20" fill="#3E88D4" /><rect x="201.61" y="448.58" width="1.93" height="8.20" fill="#3E88D4" /><rect x="219.48" y="448.58" width="1.93" height="8.20" fill="#3E88D4" /><rect x="221.71" y="448.58" width="1.93" height="8.20" fill="#3E88D4" /><rect x="139.05" y="457.38" width="1.93" height="8.20" fill="#4A7CD8" /><rect x="165.86" y="457.38" width="1.93" height="8.20" fill="#4A7CD8" /><rect x="203.84" y="457.38" width="1.93" height="8.20" fill="#4A7CD8" /><rect x="212.78" y="457.38" width="1.93" height="8.20" fill="#4A7CD8" /><rect x="217.25" y="457.38" width="1.93" height="8.20" fill="#4A7CD8" /><rect x="226.18" y="457.38" width="1.93" height="8.20" fill="#4A7CD8" /><rect x="139.05" y="466.18" width="1.93" height="8.20" fill="#646EDC" /><rect x="159.16" y="466.18" width="1.93" height="8.20" fill="#646EDC" /><rect x="161.39" y="466.18" width="1.93" height="8.20" fill="#646EDC" /><rect x="212.78" y="466.18" width="1.93" height="8.20" fill="#646EDC" /><rect x="228.42" y="466.18" width="1.93" height="8.20" fill="#646EDC" /><rect x="152.45" y="474.99" width="1.93" height="8.20" fill="#8462DE" /><rect x="188.20" y="474.99" width="1.93" height="8.20" fill="#8462DE" /><rect x="168.09" y="483.79" width="1.93" height="8.20" fill="#9858D8" /><rect x="179.26" y="483.79" width="1.93" height="8.20" fill="#9858D8" /><rect x="190.44" y="483.79" width="1.93" height="8.20" fill="#9858D8" /><rect x="206.07" y="483.79" width="1.93" height="8.20" fill="#9858D8" /><rect x="208.31" y="483.79" width="1.93" height="8.20" fill="#9858D8" /><rect x="141.28" y="492.60" width="1.93" height="8.20" fill="#AC50D2" /><rect x="143.52" y="492.60" width="1.93" height="8.20" fill="#AC50D2" /><rect x="145.75" y="492.60" width="1.93" height="8.20" fill="#AC50D2" /><rect x="147.99" y="492.60" width="1.93" height="8.20" fill="#AC50D2" /><rect x="163.63" y="492.60" width="1.93" height="8.20" fill="#AC50D2" /><rect x="181.50" y="492.60" width="1.93" height="8.20" fill="#AC50D2" /><rect x="183.73" y="492.60" width="1.93" height="8.20" fill="#AC50D2" /><rect x="212.78" y="492.60" width="1.93" height="8.20" fill="#AC50D2" /><rect x="215.01" y="492.60" width="1.93" height="8.20" fill="#AC50D2" /><rect x="226.18" y="492.60" width="1.93" height="8.20" fill="#AC50D2" /><rect x="138.90" y="263.60" width="91.60" height="16.70" fill="#527DB4" /><text x="184.70" y="275.05" font-size="9.8" text-anchor="middle" fill="#fff" font-weight="normal" stroke="#fff" stroke-width="0.1" >B</text><line x1="138.90" y1="280.30" x2="230.50" y2="280.30" stroke="#111" stroke-width="1" /><rect x="138.90" y="263.60" width="91.60" height="238.60" fill="none" stroke="#111" stroke-width="1" /><rect x="236.50" y="281.00" width="75.30" height="221.20" fill="#fff" /><line x1="238.71" y1="281.00" x2="238.71" y2="502.20" stroke="#e4e4e4" stroke-width="0.75" /><line x1="240.93" y1="281.00" x2="240.93" y2="502.20" stroke="#e4e4e4" stroke-width="0.75" /><line x1="243.14" y1="281.00" x2="243.14" y2="502.20" stroke="#e4e4e4" stroke-width="0.75" /><line x1="245.36" y1="281.00" x2="245.36" y2="502.20" stroke="#e4e4e4" stroke-width="0.75" /><line x1="247.57" y1="281.00" x2="247.57" y2="502.20" stroke="#e4e4e4" stroke-width="0.75" /><line x1="249.79" y1="281.00" x2="249.79" y2="502.20" stroke="#e4e4e4" stroke-width="0.75" /><line x1="252.00" y1="281.00" x2="252.00" y2="502.20" stroke="#e4e4e4" stroke-width="0.75" /><line x1="254.22" y1="281.00" x2="254.22" y2="502.20" stroke="#e4e4e4" stroke-width="0.75" /><line x1="256.43" y1="281.00" x2="256.43" y2="502.20" stroke="#e4e4e4" stroke-width="0.75" /><line x1="258.65" y1="281.00" x2="258.65" y2="502.20" stroke="#e4e4e4" stroke-width="0.75" /><line x1="260.86" y1="281.00" x2="260.86" y2="502.20" stroke="#e4e4e4" stroke-width="0.75" /><line x1="263.08" y1="281.00" x2="263.08" y2="502.20" stroke="#e4e4e4" stroke-width="0.75" /><line x1="265.29" y1="281.00" x2="265.29" y2="502.20" stroke="#e4e4e4" stroke-width="0.75" /><line x1="267.51" y1="281.00" x2="267.51" y2="502.20" stroke="#e4e4e4" stroke-width="0.75" /><line x1="269.72" y1="281.00" x2="269.72" y2="502.20" stroke="#e4e4e4" stroke-width="0.75" /><line x1="271.94" y1="281.00" x2="271.94" y2="502.20" stroke="#e4e4e4" stroke-width="0.75" /><line x1="274.15" y1="281.00" x2="274.15" y2="502.20" stroke="#e4e4e4" stroke-width="0.75" /><line x1="276.36" y1="281.00" x2="276.36" y2="502.20" stroke="#e4e4e4" stroke-width="0.75" /><line x1="278.58" y1="281.00" x2="278.58" y2="502.20" stroke="#e4e4e4" stroke-width="0.75" /><line x1="280.79" y1="281.00" x2="280.79" y2="502.20" stroke="#e4e4e4" stroke-width="0.75" /><line x1="283.01" y1="281.00" x2="283.01" y2="502.20" stroke="#e4e4e4" stroke-width="0.75" /><line x1="285.22" y1="281.00" x2="285.22" y2="502.20" stroke="#e4e4e4" stroke-width="0.75" /><line x1="287.44" y1="281.00" x2="287.44" y2="502.20" stroke="#e4e4e4" stroke-width="0.75" /><line x1="289.65" y1="281.00" x2="289.65" y2="502.20" stroke="#e4e4e4" stroke-width="0.75" /><line x1="291.87" y1="281.00" x2="291.87" y2="502.20" stroke="#e4e4e4" stroke-width="0.75" /><line x1="294.08" y1="281.00" x2="294.08" y2="502.20" stroke="#e4e4e4" stroke-width="0.75" /><line x1="296.30" y1="281.00" x2="296.30" y2="502.20" stroke="#e4e4e4" stroke-width="0.75" /><line x1="298.51" y1="281.00" x2="298.51" y2="502.20" stroke="#e4e4e4" stroke-width="0.75" /><line x1="300.73" y1="281.00" x2="300.73" y2="502.20" stroke="#e4e4e4" stroke-width="0.75" /><line x1="302.94" y1="281.00" x2="302.94" y2="502.20" stroke="#e4e4e4" stroke-width="0.75" /><line x1="305.16" y1="281.00" x2="305.16" y2="502.20" stroke="#e4e4e4" stroke-width="0.75" /><line x1="307.37" y1="281.00" x2="307.37" y2="502.20" stroke="#e4e4e4" stroke-width="0.75" /><line x1="309.59" y1="281.00" x2="309.59" y2="502.20" stroke="#e4e4e4" stroke-width="0.75" /><line x1="236.50" y1="289.80" x2="311.80" y2="289.80" stroke="#e4e4e4" stroke-width="0.75" /><line x1="236.50" y1="298.61" x2="311.80" y2="298.61" stroke="#e4e4e4" stroke-width="0.75" /><line x1="236.50" y1="307.41" x2="311.80" y2="307.41" stroke="#e4e4e4" stroke-width="0.75" /><line x1="236.50" y1="316.22" x2="311.80" y2="316.22" stroke="#e4e4e4" stroke-width="0.75" /><line x1="236.50" y1="325.02" x2="311.80" y2="325.02" stroke="#e4e4e4" stroke-width="0.75" /><line x1="236.50" y1="333.82" x2="311.80" y2="333.82" stroke="#e4e4e4" stroke-width="0.75" /><line x1="236.50" y1="342.63" x2="311.80" y2="342.63" stroke="#e4e4e4" stroke-width="0.75" /><line x1="236.50" y1="351.43" x2="311.80" y2="351.43" stroke="#e4e4e4" stroke-width="0.75" /><line x1="236.50" y1="360.24" x2="311.80" y2="360.24" stroke="#e4e4e4" stroke-width="0.75" /><line x1="236.50" y1="369.04" x2="311.80" y2="369.04" stroke="#e4e4e4" stroke-width="0.75" /><line x1="236.50" y1="377.84" x2="311.80" y2="377.84" stroke="#e4e4e4" stroke-width="0.75" /><line x1="236.50" y1="386.65" x2="311.80" y2="386.65" stroke="#e4e4e4" stroke-width="0.75" /><line x1="236.50" y1="395.45" x2="311.80" y2="395.45" stroke="#e4e4e4" stroke-width="0.75" /><line x1="236.50" y1="404.26" x2="311.80" y2="404.26" stroke="#e4e4e4" stroke-width="0.75" /><line x1="236.50" y1="413.06" x2="311.80" y2="413.06" stroke="#e4e4e4" stroke-width="0.75" /><line x1="236.50" y1="421.86" x2="311.80" y2="421.86" stroke="#e4e4e4" stroke-width="0.75" /><line x1="236.50" y1="430.67" x2="311.80" y2="430.67" stroke="#e4e4e4" stroke-width="0.75" /><line x1="236.50" y1="439.47" x2="311.80" y2="439.47" stroke="#e4e4e4" stroke-width="0.75" /><line x1="236.50" y1="448.28" x2="311.80" y2="448.28" stroke="#e4e4e4" stroke-width="0.75" /><line x1="236.50" y1="457.08" x2="311.80" y2="457.08" stroke="#e4e4e4" stroke-width="0.75" /><line x1="236.50" y1="465.88" x2="311.80" y2="465.88" stroke="#e4e4e4" stroke-width="0.75" /><line x1="236.50" y1="474.69" x2="311.80" y2="474.69" stroke="#e4e4e4" stroke-width="0.75" /><line x1="236.50" y1="483.49" x2="311.80" y2="483.49" stroke="#e4e4e4" stroke-width="0.75" /><line x1="236.50" y1="492.30" x2="311.80" y2="492.30" stroke="#e4e4e4" stroke-width="0.75" /><rect x="236.65" y="281.30" width="1.91" height="8.20" fill="#D46A92" /><rect x="238.86" y="281.30" width="1.91" height="8.20" fill="#D46A92" /><rect x="241.08" y="281.30" width="1.91" height="8.20" fill="#D46A92" /><rect x="243.29" y="281.30" width="1.91" height="8.20" fill="#D46A92" /><rect x="245.51" y="281.30" width="1.91" height="8.20" fill="#D46A92" /><rect x="247.72" y="281.30" width="1.91" height="8.20" fill="#D46A92" /><rect x="249.94" y="281.30" width="1.91" height="8.20" fill="#D46A92" /><rect x="252.15" y="281.30" width="1.91" height="8.20" fill="#D46A92" /><rect x="254.37" y="281.30" width="1.91" height="8.20" fill="#D46A92" /><rect x="256.58" y="281.30" width="1.91" height="8.20" fill="#D46A92" /><rect x="258.80" y="281.30" width="1.91" height="8.20" fill="#D46A92" /><rect x="261.01" y="281.30" width="1.91" height="8.20" fill="#D46A92" /><rect x="263.23" y="281.30" width="1.91" height="8.20" fill="#D46A92" /><rect x="247.72" y="290.10" width="1.91" height="8.20" fill="#D06A6E" /><rect x="249.94" y="290.10" width="1.91" height="8.20" fill="#D06A6E" /><rect x="252.15" y="290.10" width="1.91" height="8.20" fill="#D06A6E" /><rect x="254.37" y="290.10" width="1.91" height="8.20" fill="#D06A6E" /><rect x="256.58" y="290.10" width="1.91" height="8.20" fill="#D06A6E" /><rect x="258.80" y="290.10" width="1.91" height="8.20" fill="#D06A6E" /><rect x="261.01" y="290.10" width="1.91" height="8.20" fill="#D06A6E" /><rect x="263.23" y="290.10" width="1.91" height="8.20" fill="#D06A6E" /><rect x="265.44" y="290.10" width="1.91" height="8.20" fill="#D06A6E" /><rect x="267.66" y="290.10" width="1.91" height="8.20" fill="#D06A6E" /><rect x="269.87" y="290.10" width="1.91" height="8.20" fill="#D06A6E" /><rect x="272.09" y="290.10" width="1.91" height="8.20" fill="#D06A6E" /><rect x="274.30" y="290.10" width="1.91" height="8.20" fill="#D06A6E" /><rect x="276.51" y="290.10" width="1.91" height="8.20" fill="#D06A6E" /><rect x="278.73" y="290.10" width="1.91" height="8.20" fill="#D06A6E" /><rect x="280.94" y="290.10" width="1.91" height="8.20" fill="#D06A6E" /><rect x="283.16" y="290.10" width="1.91" height="8.20" fill="#D06A6E" /><rect x="285.37" y="290.10" width="1.91" height="8.20" fill="#D06A6E" /><rect x="287.59" y="290.10" width="1.91" height="8.20" fill="#D06A6E" /><rect x="289.80" y="290.10" width="1.91" height="8.20" fill="#D06A6E" /><rect x="241.08" y="298.91" width="1.91" height="8.20" fill="#CC6E50" /><rect x="243.29" y="298.91" width="1.91" height="8.20" fill="#CC6E50" /><rect x="245.51" y="298.91" width="1.91" height="8.20" fill="#CC6E50" /><rect x="289.80" y="298.91" width="1.91" height="8.20" fill="#CC6E50" /><rect x="292.02" y="298.91" width="1.91" height="8.20" fill="#CC6E50" /><rect x="238.86" y="307.71" width="1.91" height="8.20" fill="#C27832" /><rect x="254.37" y="307.71" width="1.91" height="8.20" fill="#C27832" /><rect x="256.58" y="307.71" width="1.91" height="8.20" fill="#C27832" /><rect x="258.80" y="307.71" width="1.91" height="8.20" fill="#C27832" /><rect x="261.01" y="307.71" width="1.91" height="8.20" fill="#C27832" /><rect x="263.23" y="307.71" width="1.91" height="8.20" fill="#C27832" /><rect x="280.94" y="307.71" width="1.91" height="8.20" fill="#C27832" /><rect x="283.16" y="307.71" width="1.91" height="8.20" fill="#C27832" /><rect x="285.37" y="307.71" width="1.91" height="8.20" fill="#C27832" /><rect x="287.59" y="307.71" width="1.91" height="8.20" fill="#C27832" /><rect x="296.45" y="307.71" width="1.91" height="8.20" fill="#C27832" /><rect x="298.66" y="307.71" width="1.91" height="8.20" fill="#C27832" /><rect x="238.86" y="316.52" width="1.91" height="8.20" fill="#B47E18" /><rect x="252.15" y="316.52" width="1.91" height="8.20" fill="#B47E18" /><rect x="261.01" y="316.52" width="1.91" height="8.20" fill="#B47E18" /><rect x="263.23" y="316.52" width="1.91" height="8.20" fill="#B47E18" /><rect x="276.51" y="316.52" width="1.91" height="8.20" fill="#B47E18" /><rect x="278.73" y="316.52" width="1.91" height="8.20" fill="#B47E18" /><rect x="298.66" y="316.52" width="1.91" height="8.20" fill="#B47E18" /><rect x="300.88" y="316.52" width="1.91" height="8.20" fill="#B47E18" /><rect x="267.66" y="325.32" width="1.91" height="8.20" fill="#A68612" /><rect x="269.87" y="325.32" width="1.91" height="8.20" fill="#A68612" /><rect x="272.09" y="325.32" width="1.91" height="8.20" fill="#A68612" /><rect x="274.30" y="325.32" width="1.91" height="8.20" fill="#A68612" /><rect x="285.37" y="325.32" width="1.91" height="8.20" fill="#A68612" /><rect x="287.59" y="325.32" width="1.91" height="8.20" fill="#A68612" /><rect x="303.09" y="325.32" width="1.91" height="8.20" fill="#A68612" /><rect x="236.65" y="334.12" width="1.91" height="8.20" fill="#A28F1E" /><rect x="252.15" y="342.93" width="1.91" height="8.20" fill="#99961E" /><rect x="254.37" y="342.93" width="1.91" height="8.20" fill="#99961E" /><rect x="256.58" y="342.93" width="1.91" height="8.20" fill="#99961E" /><rect x="258.80" y="342.93" width="1.91" height="8.20" fill="#99961E" /><rect x="265.44" y="342.93" width="1.91" height="8.20" fill="#99961E" /><rect x="274.30" y="342.93" width="1.91" height="8.20" fill="#99961E" /><rect x="280.94" y="342.93" width="1.91" height="8.20" fill="#99961E" /><rect x="283.16" y="342.93" width="1.91" height="8.20" fill="#99961E" /><rect x="287.59" y="342.93" width="1.91" height="8.20" fill="#99961E" /><rect x="289.80" y="342.93" width="1.91" height="8.20" fill="#99961E" /><rect x="296.45" y="342.93" width="1.91" height="8.20" fill="#99961E" /><rect x="238.86" y="360.54" width="1.91" height="8.20" fill="#78A22E" /><rect x="258.80" y="369.34" width="1.91" height="8.20" fill="#6A9E2C" /><rect x="278.73" y="369.34" width="1.91" height="8.20" fill="#6A9E2C" /><rect x="287.59" y="369.34" width="1.91" height="8.20" fill="#6A9E2C" /><rect x="287.59" y="378.14" width="1.91" height="8.20" fill="#44A048" /><rect x="276.51" y="386.95" width="1.91" height="8.20" fill="#3E9C62" /><rect x="287.59" y="395.75" width="1.91" height="8.20" fill="#3C9A72" /><rect x="236.65" y="448.58" width="1.91" height="8.20" fill="#3E88D4" /><rect x="238.86" y="448.58" width="1.91" height="8.20" fill="#3E88D4" /><rect x="241.08" y="448.58" width="1.91" height="8.20" fill="#3E88D4" /><rect x="243.29" y="448.58" width="1.91" height="8.20" fill="#3E88D4" /><rect x="245.51" y="448.58" width="1.91" height="8.20" fill="#3E88D4" /><rect x="249.94" y="448.58" width="1.91" height="8.20" fill="#3E88D4" /><rect x="252.15" y="448.58" width="1.91" height="8.20" fill="#3E88D4" /><rect x="254.37" y="448.58" width="1.91" height="8.20" fill="#3E88D4" /><rect x="256.58" y="448.58" width="1.91" height="8.20" fill="#3E88D4" /><rect x="258.80" y="448.58" width="1.91" height="8.20" fill="#3E88D4" /><rect x="263.23" y="448.58" width="1.91" height="8.20" fill="#3E88D4" /><rect x="269.87" y="448.58" width="1.91" height="8.20" fill="#3E88D4" /><rect x="272.09" y="448.58" width="1.91" height="8.20" fill="#3E88D4" /><rect x="274.30" y="448.58" width="1.91" height="8.20" fill="#3E88D4" /><rect x="276.51" y="448.58" width="1.91" height="8.20" fill="#3E88D4" /><rect x="278.73" y="448.58" width="1.91" height="8.20" fill="#3E88D4" /><rect x="280.94" y="448.58" width="1.91" height="8.20" fill="#3E88D4" /><rect x="283.16" y="448.58" width="1.91" height="8.20" fill="#3E88D4" /><rect x="285.37" y="448.58" width="1.91" height="8.20" fill="#3E88D4" /><rect x="287.59" y="448.58" width="1.91" height="8.20" fill="#3E88D4" /><rect x="289.80" y="448.58" width="1.91" height="8.20" fill="#3E88D4" /><rect x="292.02" y="448.58" width="1.91" height="8.20" fill="#3E88D4" /><rect x="294.23" y="448.58" width="1.91" height="8.20" fill="#3E88D4" /><rect x="296.45" y="448.58" width="1.91" height="8.20" fill="#3E88D4" /><rect x="298.66" y="448.58" width="1.91" height="8.20" fill="#3E88D4" /><rect x="300.88" y="448.58" width="1.91" height="8.20" fill="#3E88D4" /><rect x="307.52" y="448.58" width="1.91" height="8.20" fill="#3E88D4" /><rect x="309.74" y="448.58" width="1.91" height="8.20" fill="#3E88D4" /><rect x="247.72" y="474.99" width="1.91" height="8.20" fill="#8462DE" /><rect x="261.01" y="474.99" width="1.91" height="8.20" fill="#8462DE" /><rect x="265.44" y="474.99" width="1.91" height="8.20" fill="#8462DE" /><rect x="265.44" y="492.60" width="1.91" height="8.20" fill="#AC50D2" /><rect x="303.09" y="492.60" width="1.91" height="8.20" fill="#AC50D2" /><rect x="236.50" y="263.60" width="75.30" height="16.70" fill="#72AC54" /><text x="274.15" y="275.05" font-size="9.8" text-anchor="middle" fill="#fff" font-weight="normal" stroke="#fff" stroke-width="0.1" >C</text><line x1="236.50" y1="280.30" x2="311.80" y2="280.30" stroke="#111" stroke-width="1" /><rect x="236.50" y="263.60" width="75.30" height="238.60" fill="none" stroke="#111" stroke-width="1" /><rect x="317.30" y="281.00" width="72.90" height="221.20" fill="#fff" /><line x1="319.51" y1="281.00" x2="319.51" y2="502.20" stroke="#e4e4e4" stroke-width="0.75" /><line x1="321.72" y1="281.00" x2="321.72" y2="502.20" stroke="#e4e4e4" stroke-width="0.75" /><line x1="323.93" y1="281.00" x2="323.93" y2="502.20" stroke="#e4e4e4" stroke-width="0.75" /><line x1="326.14" y1="281.00" x2="326.14" y2="502.20" stroke="#e4e4e4" stroke-width="0.75" /><line x1="328.35" y1="281.00" x2="328.35" y2="502.20" stroke="#e4e4e4" stroke-width="0.75" /><line x1="330.55" y1="281.00" x2="330.55" y2="502.20" stroke="#e4e4e4" stroke-width="0.75" /><line x1="332.76" y1="281.00" x2="332.76" y2="502.20" stroke="#e4e4e4" stroke-width="0.75" /><line x1="334.97" y1="281.00" x2="334.97" y2="502.20" stroke="#e4e4e4" stroke-width="0.75" /><line x1="337.18" y1="281.00" x2="337.18" y2="502.20" stroke="#e4e4e4" stroke-width="0.75" /><line x1="339.39" y1="281.00" x2="339.39" y2="502.20" stroke="#e4e4e4" stroke-width="0.75" /><line x1="341.60" y1="281.00" x2="341.60" y2="502.20" stroke="#e4e4e4" stroke-width="0.75" /><line x1="343.81" y1="281.00" x2="343.81" y2="502.20" stroke="#e4e4e4" stroke-width="0.75" /><line x1="346.02" y1="281.00" x2="346.02" y2="502.20" stroke="#e4e4e4" stroke-width="0.75" /><line x1="348.23" y1="281.00" x2="348.23" y2="502.20" stroke="#e4e4e4" stroke-width="0.75" /><line x1="350.44" y1="281.00" x2="350.44" y2="502.20" stroke="#e4e4e4" stroke-width="0.75" /><line x1="352.65" y1="281.00" x2="352.65" y2="502.20" stroke="#e4e4e4" stroke-width="0.75" /><line x1="354.85" y1="281.00" x2="354.85" y2="502.20" stroke="#e4e4e4" stroke-width="0.75" /><line x1="357.06" y1="281.00" x2="357.06" y2="502.20" stroke="#e4e4e4" stroke-width="0.75" /><line x1="359.27" y1="281.00" x2="359.27" y2="502.20" stroke="#e4e4e4" stroke-width="0.75" /><line x1="361.48" y1="281.00" x2="361.48" y2="502.20" stroke="#e4e4e4" stroke-width="0.75" /><line x1="363.69" y1="281.00" x2="363.69" y2="502.20" stroke="#e4e4e4" stroke-width="0.75" /><line x1="365.90" y1="281.00" x2="365.90" y2="502.20" stroke="#e4e4e4" stroke-width="0.75" /><line x1="368.11" y1="281.00" x2="368.11" y2="502.20" stroke="#e4e4e4" stroke-width="0.75" /><line x1="370.32" y1="281.00" x2="370.32" y2="502.20" stroke="#e4e4e4" stroke-width="0.75" /><line x1="372.53" y1="281.00" x2="372.53" y2="502.20" stroke="#e4e4e4" stroke-width="0.75" /><line x1="374.74" y1="281.00" x2="374.74" y2="502.20" stroke="#e4e4e4" stroke-width="0.75" /><line x1="376.95" y1="281.00" x2="376.95" y2="502.20" stroke="#e4e4e4" stroke-width="0.75" /><line x1="379.15" y1="281.00" x2="379.15" y2="502.20" stroke="#e4e4e4" stroke-width="0.75" /><line x1="381.36" y1="281.00" x2="381.36" y2="502.20" stroke="#e4e4e4" stroke-width="0.75" /><line x1="383.57" y1="281.00" x2="383.57" y2="502.20" stroke="#e4e4e4" stroke-width="0.75" /><line x1="385.78" y1="281.00" x2="385.78" y2="502.20" stroke="#e4e4e4" stroke-width="0.75" /><line x1="387.99" y1="281.00" x2="387.99" y2="502.20" stroke="#e4e4e4" stroke-width="0.75" /><line x1="317.30" y1="289.80" x2="390.20" y2="289.80" stroke="#e4e4e4" stroke-width="0.75" /><line x1="317.30" y1="298.61" x2="390.20" y2="298.61" stroke="#e4e4e4" stroke-width="0.75" /><line x1="317.30" y1="307.41" x2="390.20" y2="307.41" stroke="#e4e4e4" stroke-width="0.75" /><line x1="317.30" y1="316.22" x2="390.20" y2="316.22" stroke="#e4e4e4" stroke-width="0.75" /><line x1="317.30" y1="325.02" x2="390.20" y2="325.02" stroke="#e4e4e4" stroke-width="0.75" /><line x1="317.30" y1="333.82" x2="390.20" y2="333.82" stroke="#e4e4e4" stroke-width="0.75" /><line x1="317.30" y1="342.63" x2="390.20" y2="342.63" stroke="#e4e4e4" stroke-width="0.75" /><line x1="317.30" y1="351.43" x2="390.20" y2="351.43" stroke="#e4e4e4" stroke-width="0.75" /><line x1="317.30" y1="360.24" x2="390.20" y2="360.24" stroke="#e4e4e4" stroke-width="0.75" /><line x1="317.30" y1="369.04" x2="390.20" y2="369.04" stroke="#e4e4e4" stroke-width="0.75" /><line x1="317.30" y1="377.84" x2="390.20" y2="377.84" stroke="#e4e4e4" stroke-width="0.75" /><line x1="317.30" y1="386.65" x2="390.20" y2="386.65" stroke="#e4e4e4" stroke-width="0.75" /><line x1="317.30" y1="395.45" x2="390.20" y2="395.45" stroke="#e4e4e4" stroke-width="0.75" /><line x1="317.30" y1="404.26" x2="390.20" y2="404.26" stroke="#e4e4e4" stroke-width="0.75" /><line x1="317.30" y1="413.06" x2="390.20" y2="413.06" stroke="#e4e4e4" stroke-width="0.75" /><line x1="317.30" y1="421.86" x2="390.20" y2="421.86" stroke="#e4e4e4" stroke-width="0.75" /><line x1="317.30" y1="430.67" x2="390.20" y2="430.67" stroke="#e4e4e4" stroke-width="0.75" /><line x1="317.30" y1="439.47" x2="390.20" y2="439.47" stroke="#e4e4e4" stroke-width="0.75" /><line x1="317.30" y1="448.28" x2="390.20" y2="448.28" stroke="#e4e4e4" stroke-width="0.75" /><line x1="317.30" y1="457.08" x2="390.20" y2="457.08" stroke="#e4e4e4" stroke-width="0.75" /><line x1="317.30" y1="465.88" x2="390.20" y2="465.88" stroke="#e4e4e4" stroke-width="0.75" /><line x1="317.30" y1="474.69" x2="390.20" y2="474.69" stroke="#e4e4e4" stroke-width="0.75" /><line x1="317.30" y1="483.49" x2="390.20" y2="483.49" stroke="#e4e4e4" stroke-width="0.75" /><line x1="317.30" y1="492.30" x2="390.20" y2="492.30" stroke="#e4e4e4" stroke-width="0.75" /><rect x="317.45" y="281.30" width="1.91" height="8.20" fill="#D46A92" /><rect x="319.66" y="281.30" width="1.91" height="8.20" fill="#D46A92" /><rect x="321.87" y="281.30" width="1.91" height="8.20" fill="#D46A92" /><rect x="324.08" y="281.30" width="1.91" height="8.20" fill="#D46A92" /><rect x="326.29" y="281.30" width="1.91" height="8.20" fill="#D46A92" /><rect x="328.50" y="281.30" width="1.91" height="8.20" fill="#D46A92" /><rect x="330.70" y="281.30" width="1.91" height="8.20" fill="#D46A92" /><rect x="332.91" y="281.30" width="1.91" height="8.20" fill="#D46A92" /><rect x="335.12" y="281.30" width="1.91" height="8.20" fill="#D46A92" /><rect x="337.33" y="281.30" width="1.91" height="8.20" fill="#D46A92" /><rect x="339.54" y="281.30" width="1.91" height="8.20" fill="#D46A92" /><rect x="341.75" y="281.30" width="1.91" height="8.20" fill="#D46A92" /><rect x="343.96" y="281.30" width="1.91" height="8.20" fill="#D46A92" /><rect x="346.17" y="281.30" width="1.91" height="8.20" fill="#D46A92" /><rect x="348.38" y="281.30" width="1.91" height="8.20" fill="#D46A92" /><rect x="350.59" y="281.30" width="1.91" height="8.20" fill="#D46A92" /><rect x="352.80" y="281.30" width="1.91" height="8.20" fill="#D46A92" /><rect x="346.17" y="290.10" width="1.91" height="8.20" fill="#D06A6E" /><rect x="348.38" y="290.10" width="1.91" height="8.20" fill="#D06A6E" /><rect x="350.59" y="290.10" width="1.91" height="8.20" fill="#D06A6E" /><rect x="352.80" y="290.10" width="1.91" height="8.20" fill="#D06A6E" /><rect x="355.00" y="290.10" width="1.91" height="8.20" fill="#D06A6E" /><rect x="357.21" y="290.10" width="1.91" height="8.20" fill="#D06A6E" /><rect x="359.42" y="290.10" width="1.91" height="8.20" fill="#D06A6E" /><rect x="361.63" y="290.10" width="1.91" height="8.20" fill="#D06A6E" /><rect x="363.84" y="290.10" width="1.91" height="8.20" fill="#D06A6E" /><rect x="366.05" y="290.10" width="1.91" height="8.20" fill="#D06A6E" /><rect x="341.75" y="298.91" width="1.91" height="8.20" fill="#CC6E50" /><rect x="343.96" y="298.91" width="1.91" height="8.20" fill="#CC6E50" /><rect x="368.26" y="298.91" width="1.91" height="8.20" fill="#CC6E50" /><rect x="370.47" y="298.91" width="1.91" height="8.20" fill="#CC6E50" /><rect x="372.68" y="298.91" width="1.91" height="8.20" fill="#CC6E50" /><rect x="374.89" y="298.91" width="1.91" height="8.20" fill="#CC6E50" /><rect x="377.10" y="298.91" width="1.91" height="8.20" fill="#CC6E50" /><rect x="337.33" y="307.71" width="1.91" height="8.20" fill="#C27832" /><rect x="339.54" y="307.71" width="1.91" height="8.20" fill="#C27832" /><rect x="366.05" y="307.71" width="1.91" height="8.20" fill="#C27832" /><rect x="332.91" y="316.52" width="1.91" height="8.20" fill="#B47E18" /><rect x="339.54" y="316.52" width="1.91" height="8.20" fill="#B47E18" /><rect x="352.80" y="316.52" width="1.91" height="8.20" fill="#B47E18" /><rect x="361.63" y="316.52" width="1.91" height="8.20" fill="#B47E18" /><rect x="363.84" y="316.52" width="1.91" height="8.20" fill="#B47E18" /><rect x="379.30" y="316.52" width="1.91" height="8.20" fill="#B47E18" /><rect x="381.51" y="316.52" width="1.91" height="8.20" fill="#B47E18" /><rect x="330.70" y="325.32" width="1.91" height="8.20" fill="#A68612" /><rect x="328.50" y="334.12" width="1.91" height="8.20" fill="#A28F1E" /><rect x="343.96" y="334.12" width="1.91" height="8.20" fill="#A28F1E" /><rect x="377.10" y="334.12" width="1.91" height="8.20" fill="#A28F1E" /><rect x="385.93" y="334.12" width="1.91" height="8.20" fill="#A28F1E" /><rect x="357.21" y="342.93" width="1.91" height="8.20" fill="#99961E" /><rect x="357.21" y="360.54" width="1.91" height="8.20" fill="#78A22E" /><rect x="350.59" y="369.34" width="1.91" height="8.20" fill="#6A9E2C" /><rect x="352.80" y="369.34" width="1.91" height="8.20" fill="#6A9E2C" /><rect x="348.38" y="378.14" width="1.91" height="8.20" fill="#44A048" /><rect x="350.59" y="378.14" width="1.91" height="8.20" fill="#44A048" /><rect x="388.14" y="378.14" width="1.91" height="8.20" fill="#44A048" /><rect x="363.84" y="386.95" width="1.91" height="8.20" fill="#3E9C62" /><rect x="381.51" y="386.95" width="1.91" height="8.20" fill="#3E9C62" /><rect x="359.42" y="422.16" width="1.91" height="8.20" fill="#3696AC" /><rect x="361.63" y="422.16" width="1.91" height="8.20" fill="#3696AC" /><rect x="350.59" y="430.97" width="1.91" height="8.20" fill="#3892C0" /><rect x="319.66" y="448.58" width="1.91" height="8.20" fill="#3E88D4" /><rect x="321.87" y="448.58" width="1.91" height="8.20" fill="#3E88D4" /><rect x="324.08" y="448.58" width="1.91" height="8.20" fill="#3E88D4" /><rect x="326.29" y="448.58" width="1.91" height="8.20" fill="#3E88D4" /><rect x="332.91" y="448.58" width="1.91" height="8.20" fill="#3E88D4" /><rect x="335.12" y="448.58" width="1.91" height="8.20" fill="#3E88D4" /><rect x="337.33" y="448.58" width="1.91" height="8.20" fill="#3E88D4" /><rect x="339.54" y="448.58" width="1.91" height="8.20" fill="#3E88D4" /><rect x="341.75" y="448.58" width="1.91" height="8.20" fill="#3E88D4" /><rect x="346.17" y="448.58" width="1.91" height="8.20" fill="#3E88D4" /><rect x="348.38" y="448.58" width="1.91" height="8.20" fill="#3E88D4" /><rect x="352.80" y="448.58" width="1.91" height="8.20" fill="#3E88D4" /><rect x="355.00" y="448.58" width="1.91" height="8.20" fill="#3E88D4" /><rect x="357.21" y="448.58" width="1.91" height="8.20" fill="#3E88D4" /><rect x="359.42" y="448.58" width="1.91" height="8.20" fill="#3E88D4" /><rect x="361.63" y="448.58" width="1.91" height="8.20" fill="#3E88D4" /><rect x="363.84" y="448.58" width="1.91" height="8.20" fill="#3E88D4" /><rect x="366.05" y="448.58" width="1.91" height="8.20" fill="#3E88D4" /><rect x="370.47" y="448.58" width="1.91" height="8.20" fill="#3E88D4" /><rect x="372.68" y="448.58" width="1.91" height="8.20" fill="#3E88D4" /><rect x="374.89" y="448.58" width="1.91" height="8.20" fill="#3E88D4" /><rect x="379.30" y="448.58" width="1.91" height="8.20" fill="#3E88D4" /><rect x="381.51" y="448.58" width="1.91" height="8.20" fill="#3E88D4" /><rect x="383.72" y="448.58" width="1.91" height="8.20" fill="#3E88D4" /><rect x="385.93" y="448.58" width="1.91" height="8.20" fill="#3E88D4" /><rect x="388.14" y="448.58" width="1.91" height="8.20" fill="#3E88D4" /><rect x="328.50" y="466.18" width="1.91" height="8.20" fill="#646EDC" /><rect x="377.10" y="474.99" width="1.91" height="8.20" fill="#8462DE" /><rect x="330.70" y="483.79" width="1.91" height="8.20" fill="#9858D8" /><rect x="317.45" y="492.60" width="1.91" height="8.20" fill="#AC50D2" /><rect x="343.96" y="492.60" width="1.91" height="8.20" fill="#AC50D2" /><rect x="368.26" y="492.60" width="1.91" height="8.20" fill="#AC50D2" /><rect x="317.30" y="263.60" width="72.90" height="16.70" fill="#8752A2" /><text x="353.75" y="275.05" font-size="9.8" text-anchor="middle" fill="#fff" font-weight="normal" stroke="#fff" stroke-width="0.1" >D</text><line x1="317.30" y1="280.30" x2="390.20" y2="280.30" stroke="#111" stroke-width="1" /><rect x="317.30" y="263.60" width="72.90" height="238.60" fill="none" stroke="#111" stroke-width="1" /><rect x="396.00" y="281.00" width="107.60" height="221.20" fill="#fff" /><line x1="398.24" y1="281.00" x2="398.24" y2="502.20" stroke="#e4e4e4" stroke-width="0.75" /><line x1="400.48" y1="281.00" x2="400.48" y2="502.20" stroke="#e4e4e4" stroke-width="0.75" /><line x1="402.73" y1="281.00" x2="402.73" y2="502.20" stroke="#e4e4e4" stroke-width="0.75" /><line x1="404.97" y1="281.00" x2="404.97" y2="502.20" stroke="#e4e4e4" stroke-width="0.75" /><line x1="407.21" y1="281.00" x2="407.21" y2="502.20" stroke="#e4e4e4" stroke-width="0.75" /><line x1="409.45" y1="281.00" x2="409.45" y2="502.20" stroke="#e4e4e4" stroke-width="0.75" /><line x1="411.69" y1="281.00" x2="411.69" y2="502.20" stroke="#e4e4e4" stroke-width="0.75" /><line x1="413.93" y1="281.00" x2="413.93" y2="502.20" stroke="#e4e4e4" stroke-width="0.75" /><line x1="416.18" y1="281.00" x2="416.18" y2="502.20" stroke="#e4e4e4" stroke-width="0.75" /><line x1="418.42" y1="281.00" x2="418.42" y2="502.20" stroke="#e4e4e4" stroke-width="0.75" /><line x1="420.66" y1="281.00" x2="420.66" y2="502.20" stroke="#e4e4e4" stroke-width="0.75" /><line x1="422.90" y1="281.00" x2="422.90" y2="502.20" stroke="#e4e4e4" stroke-width="0.75" /><line x1="425.14" y1="281.00" x2="425.14" y2="502.20" stroke="#e4e4e4" stroke-width="0.75" /><line x1="427.38" y1="281.00" x2="427.38" y2="502.20" stroke="#e4e4e4" stroke-width="0.75" /><line x1="429.62" y1="281.00" x2="429.62" y2="502.20" stroke="#e4e4e4" stroke-width="0.75" /><line x1="431.87" y1="281.00" x2="431.87" y2="502.20" stroke="#e4e4e4" stroke-width="0.75" /><line x1="434.11" y1="281.00" x2="434.11" y2="502.20" stroke="#e4e4e4" stroke-width="0.75" /><line x1="436.35" y1="281.00" x2="436.35" y2="502.20" stroke="#e4e4e4" stroke-width="0.75" /><line x1="438.59" y1="281.00" x2="438.59" y2="502.20" stroke="#e4e4e4" stroke-width="0.75" /><line x1="440.83" y1="281.00" x2="440.83" y2="502.20" stroke="#e4e4e4" stroke-width="0.75" /><line x1="443.07" y1="281.00" x2="443.07" y2="502.20" stroke="#e4e4e4" stroke-width="0.75" /><line x1="445.32" y1="281.00" x2="445.32" y2="502.20" stroke="#e4e4e4" stroke-width="0.75" /><line x1="447.56" y1="281.00" x2="447.56" y2="502.20" stroke="#e4e4e4" stroke-width="0.75" /><line x1="449.80" y1="281.00" x2="449.80" y2="502.20" stroke="#e4e4e4" stroke-width="0.75" /><line x1="452.04" y1="281.00" x2="452.04" y2="502.20" stroke="#e4e4e4" stroke-width="0.75" /><line x1="454.28" y1="281.00" x2="454.28" y2="502.20" stroke="#e4e4e4" stroke-width="0.75" /><line x1="456.53" y1="281.00" x2="456.53" y2="502.20" stroke="#e4e4e4" stroke-width="0.75" /><line x1="458.77" y1="281.00" x2="458.77" y2="502.20" stroke="#e4e4e4" stroke-width="0.75" /><line x1="461.01" y1="281.00" x2="461.01" y2="502.20" stroke="#e4e4e4" stroke-width="0.75" /><line x1="463.25" y1="281.00" x2="463.25" y2="502.20" stroke="#e4e4e4" stroke-width="0.75" /><line x1="465.49" y1="281.00" x2="465.49" y2="502.20" stroke="#e4e4e4" stroke-width="0.75" /><line x1="467.73" y1="281.00" x2="467.73" y2="502.20" stroke="#e4e4e4" stroke-width="0.75" /><line x1="469.98" y1="281.00" x2="469.98" y2="502.20" stroke="#e4e4e4" stroke-width="0.75" /><line x1="472.22" y1="281.00" x2="472.22" y2="502.20" stroke="#e4e4e4" stroke-width="0.75" /><line x1="474.46" y1="281.00" x2="474.46" y2="502.20" stroke="#e4e4e4" stroke-width="0.75" /><line x1="476.70" y1="281.00" x2="476.70" y2="502.20" stroke="#e4e4e4" stroke-width="0.75" /><line x1="478.94" y1="281.00" x2="478.94" y2="502.20" stroke="#e4e4e4" stroke-width="0.75" /><line x1="481.18" y1="281.00" x2="481.18" y2="502.20" stroke="#e4e4e4" stroke-width="0.75" /><line x1="483.43" y1="281.00" x2="483.43" y2="502.20" stroke="#e4e4e4" stroke-width="0.75" /><line x1="485.67" y1="281.00" x2="485.67" y2="502.20" stroke="#e4e4e4" stroke-width="0.75" /><line x1="487.91" y1="281.00" x2="487.91" y2="502.20" stroke="#e4e4e4" stroke-width="0.75" /><line x1="490.15" y1="281.00" x2="490.15" y2="502.20" stroke="#e4e4e4" stroke-width="0.75" /><line x1="492.39" y1="281.00" x2="492.39" y2="502.20" stroke="#e4e4e4" stroke-width="0.75" /><line x1="494.63" y1="281.00" x2="494.63" y2="502.20" stroke="#e4e4e4" stroke-width="0.75" /><line x1="496.88" y1="281.00" x2="496.88" y2="502.20" stroke="#e4e4e4" stroke-width="0.75" /><line x1="499.12" y1="281.00" x2="499.12" y2="502.20" stroke="#e4e4e4" stroke-width="0.75" /><line x1="501.36" y1="281.00" x2="501.36" y2="502.20" stroke="#e4e4e4" stroke-width="0.75" /><line x1="396.00" y1="289.80" x2="503.60" y2="289.80" stroke="#e4e4e4" stroke-width="0.75" /><line x1="396.00" y1="298.61" x2="503.60" y2="298.61" stroke="#e4e4e4" stroke-width="0.75" /><line x1="396.00" y1="307.41" x2="503.60" y2="307.41" stroke="#e4e4e4" stroke-width="0.75" /><line x1="396.00" y1="316.22" x2="503.60" y2="316.22" stroke="#e4e4e4" stroke-width="0.75" /><line x1="396.00" y1="325.02" x2="503.60" y2="325.02" stroke="#e4e4e4" stroke-width="0.75" /><line x1="396.00" y1="333.82" x2="503.60" y2="333.82" stroke="#e4e4e4" stroke-width="0.75" /><line x1="396.00" y1="342.63" x2="503.60" y2="342.63" stroke="#e4e4e4" stroke-width="0.75" /><line x1="396.00" y1="351.43" x2="503.60" y2="351.43" stroke="#e4e4e4" stroke-width="0.75" /><line x1="396.00" y1="360.24" x2="503.60" y2="360.24" stroke="#e4e4e4" stroke-width="0.75" /><line x1="396.00" y1="369.04" x2="503.60" y2="369.04" stroke="#e4e4e4" stroke-width="0.75" /><line x1="396.00" y1="377.84" x2="503.60" y2="377.84" stroke="#e4e4e4" stroke-width="0.75" /><line x1="396.00" y1="386.65" x2="503.60" y2="386.65" stroke="#e4e4e4" stroke-width="0.75" /><line x1="396.00" y1="395.45" x2="503.60" y2="395.45" stroke="#e4e4e4" stroke-width="0.75" /><line x1="396.00" y1="404.26" x2="503.60" y2="404.26" stroke="#e4e4e4" stroke-width="0.75" /><line x1="396.00" y1="413.06" x2="503.60" y2="413.06" stroke="#e4e4e4" stroke-width="0.75" /><line x1="396.00" y1="421.86" x2="503.60" y2="421.86" stroke="#e4e4e4" stroke-width="0.75" /><line x1="396.00" y1="430.67" x2="503.60" y2="430.67" stroke="#e4e4e4" stroke-width="0.75" /><line x1="396.00" y1="439.47" x2="503.60" y2="439.47" stroke="#e4e4e4" stroke-width="0.75" /><line x1="396.00" y1="448.28" x2="503.60" y2="448.28" stroke="#e4e4e4" stroke-width="0.75" /><line x1="396.00" y1="457.08" x2="503.60" y2="457.08" stroke="#e4e4e4" stroke-width="0.75" /><line x1="396.00" y1="465.88" x2="503.60" y2="465.88" stroke="#e4e4e4" stroke-width="0.75" /><line x1="396.00" y1="474.69" x2="503.60" y2="474.69" stroke="#e4e4e4" stroke-width="0.75" /><line x1="396.00" y1="483.49" x2="503.60" y2="483.49" stroke="#e4e4e4" stroke-width="0.75" /><line x1="396.00" y1="492.30" x2="503.60" y2="492.30" stroke="#e4e4e4" stroke-width="0.75" /><rect x="396.15" y="281.30" width="1.94" height="8.20" fill="#D46A92" /><rect x="398.39" y="281.30" width="1.94" height="8.20" fill="#D46A92" /><rect x="400.63" y="281.30" width="1.94" height="8.20" fill="#D46A92" /><rect x="402.88" y="281.30" width="1.94" height="8.20" fill="#D46A92" /><rect x="405.12" y="281.30" width="1.94" height="8.20" fill="#D46A92" /><rect x="407.36" y="281.30" width="1.94" height="8.20" fill="#D46A92" /><rect x="409.60" y="281.30" width="1.94" height="8.20" fill="#D46A92" /><rect x="411.84" y="281.30" width="1.94" height="8.20" fill="#D46A92" /><rect x="414.08" y="281.30" width="1.94" height="8.20" fill="#D46A92" /><rect x="416.32" y="281.30" width="1.94" height="8.20" fill="#D46A92" /><rect x="418.57" y="281.30" width="1.94" height="8.20" fill="#D46A92" /><rect x="420.81" y="281.30" width="1.94" height="8.20" fill="#D46A92" /><rect x="423.05" y="281.30" width="1.94" height="8.20" fill="#D46A92" /><rect x="425.29" y="281.30" width="1.94" height="8.20" fill="#D46A92" /><rect x="427.53" y="281.30" width="1.94" height="8.20" fill="#D46A92" /><rect x="429.77" y="281.30" width="1.94" height="8.20" fill="#D46A92" /><rect x="432.02" y="281.30" width="1.94" height="8.20" fill="#D46A92" /><rect x="434.26" y="281.30" width="1.94" height="8.20" fill="#D46A92" /><rect x="436.50" y="281.30" width="1.94" height="8.20" fill="#D46A92" /><rect x="425.29" y="290.10" width="1.94" height="8.20" fill="#D06A6E" /><rect x="427.53" y="290.10" width="1.94" height="8.20" fill="#D06A6E" /><rect x="429.77" y="290.10" width="1.94" height="8.20" fill="#D06A6E" /><rect x="432.02" y="290.10" width="1.94" height="8.20" fill="#D06A6E" /><rect x="434.26" y="290.10" width="1.94" height="8.20" fill="#D06A6E" /><rect x="436.50" y="290.10" width="1.94" height="8.20" fill="#D06A6E" /><rect x="438.74" y="290.10" width="1.94" height="8.20" fill="#D06A6E" /><rect x="440.98" y="290.10" width="1.94" height="8.20" fill="#D06A6E" /><rect x="443.22" y="290.10" width="1.94" height="8.20" fill="#D06A6E" /><rect x="445.47" y="290.10" width="1.94" height="8.20" fill="#D06A6E" /><rect x="447.71" y="290.10" width="1.94" height="8.20" fill="#D06A6E" /><rect x="411.84" y="298.91" width="1.94" height="8.20" fill="#CC6E50" /><rect x="414.08" y="298.91" width="1.94" height="8.20" fill="#CC6E50" /><rect x="416.32" y="298.91" width="1.94" height="8.20" fill="#CC6E50" /><rect x="418.57" y="298.91" width="1.94" height="8.20" fill="#CC6E50" /><rect x="420.81" y="298.91" width="1.94" height="8.20" fill="#CC6E50" /><rect x="423.05" y="298.91" width="1.94" height="8.20" fill="#CC6E50" /><rect x="445.47" y="298.91" width="1.94" height="8.20" fill="#CC6E50" /><rect x="447.71" y="298.91" width="1.94" height="8.20" fill="#CC6E50" /><rect x="449.95" y="298.91" width="1.94" height="8.20" fill="#CC6E50" /><rect x="452.19" y="298.91" width="1.94" height="8.20" fill="#CC6E50" /><rect x="454.43" y="298.91" width="1.94" height="8.20" fill="#CC6E50" /><rect x="456.68" y="298.91" width="1.94" height="8.20" fill="#CC6E50" /><rect x="458.92" y="298.91" width="1.94" height="8.20" fill="#CC6E50" /><rect x="461.16" y="298.91" width="1.94" height="8.20" fill="#CC6E50" /><rect x="463.40" y="298.91" width="1.94" height="8.20" fill="#CC6E50" /><rect x="465.64" y="298.91" width="1.94" height="8.20" fill="#CC6E50" /><rect x="467.88" y="298.91" width="1.94" height="8.20" fill="#CC6E50" /><rect x="470.12" y="298.91" width="1.94" height="8.20" fill="#CC6E50" /><rect x="472.37" y="298.91" width="1.94" height="8.20" fill="#CC6E50" /><rect x="474.61" y="298.91" width="1.94" height="8.20" fill="#CC6E50" /><rect x="423.05" y="307.71" width="1.94" height="8.20" fill="#C27832" /><rect x="436.50" y="307.71" width="1.94" height="8.20" fill="#C27832" /><rect x="447.71" y="307.71" width="1.94" height="8.20" fill="#C27832" /><rect x="409.60" y="316.52" width="1.94" height="8.20" fill="#B47E18" /><rect x="432.02" y="316.52" width="1.94" height="8.20" fill="#B47E18" /><rect x="434.26" y="316.52" width="1.94" height="8.20" fill="#B47E18" /><rect x="467.88" y="316.52" width="1.94" height="8.20" fill="#B47E18" /><rect x="470.12" y="316.52" width="1.94" height="8.20" fill="#B47E18" /><rect x="472.37" y="316.52" width="1.94" height="8.20" fill="#B47E18" /><rect x="474.61" y="316.52" width="1.94" height="8.20" fill="#B47E18" /><rect x="476.85" y="325.32" width="1.94" height="8.20" fill="#A68612" /><rect x="479.09" y="325.32" width="1.94" height="8.20" fill="#A68612" /><rect x="407.36" y="334.12" width="1.94" height="8.20" fill="#A28F1E" /><rect x="420.81" y="334.12" width="1.94" height="8.20" fill="#A28F1E" /><rect x="440.98" y="334.12" width="1.94" height="8.20" fill="#A28F1E" /><rect x="474.61" y="334.12" width="1.94" height="8.20" fill="#A28F1E" /><rect x="481.33" y="334.12" width="1.94" height="8.20" fill="#A28F1E" /><rect x="483.57" y="334.12" width="1.94" height="8.20" fill="#A28F1E" /><rect x="485.82" y="334.12" width="1.94" height="8.20" fill="#A28F1E" /><rect x="465.64" y="342.93" width="1.94" height="8.20" fill="#99961E" /><rect x="488.06" y="351.73" width="1.94" height="8.20" fill="#8E9C22" /><rect x="490.30" y="351.73" width="1.94" height="8.20" fill="#8E9C22" /><rect x="463.40" y="360.54" width="1.94" height="8.20" fill="#78A22E" /><rect x="434.26" y="378.14" width="1.94" height="8.20" fill="#44A048" /><rect x="427.53" y="386.95" width="1.94" height="8.20" fill="#3E9C62" /><rect x="396.15" y="448.58" width="1.94" height="8.20" fill="#3E88D4" /><rect x="398.39" y="448.58" width="1.94" height="8.20" fill="#3E88D4" /><rect x="400.63" y="448.58" width="1.94" height="8.20" fill="#3E88D4" /><rect x="402.88" y="448.58" width="1.94" height="8.20" fill="#3E88D4" /><rect x="405.12" y="448.58" width="1.94" height="8.20" fill="#3E88D4" /><rect x="409.60" y="448.58" width="1.94" height="8.20" fill="#3E88D4" /><rect x="414.08" y="448.58" width="1.94" height="8.20" fill="#3E88D4" /><rect x="416.32" y="448.58" width="1.94" height="8.20" fill="#3E88D4" /><rect x="418.57" y="448.58" width="1.94" height="8.20" fill="#3E88D4" /><rect x="420.81" y="448.58" width="1.94" height="8.20" fill="#3E88D4" /><rect x="423.05" y="448.58" width="1.94" height="8.20" fill="#3E88D4" /><rect x="425.29" y="448.58" width="1.94" height="8.20" fill="#3E88D4" /><rect x="427.53" y="448.58" width="1.94" height="8.20" fill="#3E88D4" /><rect x="429.77" y="448.58" width="1.94" height="8.20" fill="#3E88D4" /><rect x="438.74" y="448.58" width="1.94" height="8.20" fill="#3E88D4" /><rect x="440.98" y="448.58" width="1.94" height="8.20" fill="#3E88D4" /><rect x="443.22" y="448.58" width="1.94" height="8.20" fill="#3E88D4" /><rect x="445.47" y="448.58" width="1.94" height="8.20" fill="#3E88D4" /><rect x="447.71" y="448.58" width="1.94" height="8.20" fill="#3E88D4" /><rect x="452.19" y="448.58" width="1.94" height="8.20" fill="#3E88D4" /><rect x="454.43" y="448.58" width="1.94" height="8.20" fill="#3E88D4" /><rect x="456.68" y="448.58" width="1.94" height="8.20" fill="#3E88D4" /><rect x="458.92" y="448.58" width="1.94" height="8.20" fill="#3E88D4" /><rect x="461.16" y="448.58" width="1.94" height="8.20" fill="#3E88D4" /><rect x="463.40" y="448.58" width="1.94" height="8.20" fill="#3E88D4" /><rect x="465.64" y="448.58" width="1.94" height="8.20" fill="#3E88D4" /><rect x="467.88" y="448.58" width="1.94" height="8.20" fill="#3E88D4" /><rect x="470.12" y="448.58" width="1.94" height="8.20" fill="#3E88D4" /><rect x="472.37" y="448.58" width="1.94" height="8.20" fill="#3E88D4" /><rect x="474.61" y="448.58" width="1.94" height="8.20" fill="#3E88D4" /><rect x="479.09" y="448.58" width="1.94" height="8.20" fill="#3E88D4" /><rect x="485.82" y="448.58" width="1.94" height="8.20" fill="#3E88D4" /><rect x="492.54" y="448.58" width="1.94" height="8.20" fill="#3E88D4" /><rect x="494.78" y="448.58" width="1.94" height="8.20" fill="#3E88D4" /><rect x="497.02" y="448.58" width="1.94" height="8.20" fill="#3E88D4" /><rect x="499.27" y="448.58" width="1.94" height="8.20" fill="#3E88D4" /><rect x="501.51" y="448.58" width="1.94" height="8.20" fill="#3E88D4" /><rect x="449.95" y="457.38" width="1.94" height="8.20" fill="#4A7CD8" /><rect x="490.30" y="457.38" width="1.94" height="8.20" fill="#4A7CD8" /><rect x="481.33" y="466.18" width="1.94" height="8.20" fill="#646EDC" /><rect x="490.30" y="466.18" width="1.94" height="8.20" fill="#646EDC" /><rect x="407.36" y="474.99" width="1.94" height="8.20" fill="#8462DE" /><rect x="411.84" y="474.99" width="1.94" height="8.20" fill="#8462DE" /><rect x="488.06" y="483.79" width="1.94" height="8.20" fill="#9858D8" /><rect x="434.26" y="492.60" width="1.94" height="8.20" fill="#AC50D2" /><rect x="436.50" y="492.60" width="1.94" height="8.20" fill="#AC50D2" /><rect x="449.95" y="492.60" width="1.94" height="8.20" fill="#AC50D2" /><rect x="476.85" y="492.60" width="1.94" height="8.20" fill="#AC50D2" /><rect x="490.30" y="492.60" width="1.94" height="8.20" fill="#AC50D2" /><rect x="396.00" y="263.60" width="107.60" height="16.70" fill="#E27E1B" /><text x="449.80" y="275.05" font-size="9.8" text-anchor="middle" fill="#fff" font-weight="normal" stroke="#fff" stroke-width="0.1" >E</text><line x1="396.00" y1="280.30" x2="503.60" y2="280.30" stroke="#111" stroke-width="1" /><rect x="396.00" y="263.60" width="107.60" height="238.60" fill="none" stroke="#111" stroke-width="1" /><text x="96.90" y="273.80" font-size="8.4" text-anchor="end" fill="#0a0a0a" font-weight="normal" stroke="#0a0a0a" stroke-width="0.07" >Cluster Group</text><line x1="97.60" y1="271.50" x2="101.20" y2="271.50" stroke="#111" stroke-width="1.1" /><text x="94.60" y="288.35" font-size="8.5" text-anchor="end" fill="#0a0a0a" font-weight="normal" font-style="italic" stroke="#0a0a0a" stroke-width="0.07" >TET2</text><line x1="97.60" y1="285.40" x2="101.20" y2="285.40" stroke="#111" stroke-width="1.1" /><text x="94.60" y="297.16" font-size="8.5" text-anchor="end" fill="#0a0a0a" font-weight="normal" font-style="italic" stroke="#0a0a0a" stroke-width="0.07" >ASXL1</text><line x1="97.60" y1="294.21" x2="101.20" y2="294.21" stroke="#111" stroke-width="1.1" /><text x="94.60" y="305.96" font-size="8.5" text-anchor="end" fill="#0a0a0a" font-weight="normal" font-style="italic" stroke="#0a0a0a" stroke-width="0.07" >SF3B1</text><line x1="97.60" y1="303.01" x2="101.20" y2="303.01" stroke="#111" stroke-width="1.1" /><text x="94.60" y="314.76" font-size="8.5" text-anchor="end" fill="#0a0a0a" font-weight="normal" font-style="italic" stroke="#0a0a0a" stroke-width="0.07" >RUNX1</text><line x1="97.60" y1="311.81" x2="101.20" y2="311.81" stroke="#111" stroke-width="1.1" /><text x="94.60" y="323.57" font-size="8.5" text-anchor="end" fill="#0a0a0a" font-weight="normal" font-style="italic" stroke="#0a0a0a" stroke-width="0.07" >SRSF2</text><line x1="97.60" y1="320.62" x2="101.20" y2="320.62" stroke="#111" stroke-width="1.1" /><text x="94.60" y="332.37" font-size="8.5" text-anchor="end" fill="#0a0a0a" font-weight="normal" font-style="italic" stroke="#0a0a0a" stroke-width="0.07" >U2AF1</text><line x1="97.60" y1="329.42" x2="101.20" y2="329.42" stroke="#111" stroke-width="1.1" /><text x="94.60" y="341.18" font-size="8.5" text-anchor="end" fill="#0a0a0a" font-weight="normal" font-style="italic" stroke="#0a0a0a" stroke-width="0.07" >DNMT3A</text><line x1="97.60" y1="338.23" x2="101.20" y2="338.23" stroke="#111" stroke-width="1.1" /><text x="94.60" y="349.98" font-size="8.5" text-anchor="end" fill="#0a0a0a" font-weight="normal" font-style="italic" stroke="#0a0a0a" stroke-width="0.07" >EZH2</text><line x1="97.60" y1="347.03" x2="101.20" y2="347.03" stroke="#111" stroke-width="1.1" /><text x="94.60" y="358.78" font-size="8.5" text-anchor="end" fill="#0a0a0a" font-weight="normal" font-style="italic" stroke="#0a0a0a" stroke-width="0.07" >TP53</text><line x1="97.60" y1="355.83" x2="101.20" y2="355.83" stroke="#111" stroke-width="1.1" /><text x="94.60" y="367.59" font-size="8.5" text-anchor="end" fill="#0a0a0a" font-weight="normal" font-style="italic" stroke="#0a0a0a" stroke-width="0.07" >ETV6</text><line x1="97.60" y1="364.64" x2="101.20" y2="364.64" stroke="#111" stroke-width="1.1" /><text x="94.60" y="376.39" font-size="8.5" text-anchor="end" fill="#0a0a0a" font-weight="normal" font-style="italic" stroke="#0a0a0a" stroke-width="0.07" >NRAS</text><line x1="97.60" y1="373.44" x2="101.20" y2="373.44" stroke="#111" stroke-width="1.1" /><text x="94.60" y="385.20" font-size="8.5" text-anchor="end" fill="#0a0a0a" font-weight="normal" font-style="italic" stroke="#0a0a0a" stroke-width="0.07" >CBL</text><line x1="97.60" y1="382.25" x2="101.20" y2="382.25" stroke="#111" stroke-width="1.1" /><text x="94.60" y="394.00" font-size="8.5" text-anchor="end" fill="#0a0a0a" font-weight="normal" font-style="italic" stroke="#0a0a0a" stroke-width="0.07" >IDH2</text><line x1="97.60" y1="391.05" x2="101.20" y2="391.05" stroke="#111" stroke-width="1.1" /><text x="94.60" y="402.80" font-size="8.5" text-anchor="end" fill="#0a0a0a" font-weight="normal" font-style="italic" stroke="#0a0a0a" stroke-width="0.07" >KRAS</text><line x1="97.60" y1="399.85" x2="101.20" y2="399.85" stroke="#111" stroke-width="1.1" /><text x="94.60" y="411.61" font-size="8.5" text-anchor="end" fill="#0a0a0a" font-weight="normal" font-style="italic" stroke="#0a0a0a" stroke-width="0.07" >NPM1</text><line x1="97.60" y1="408.66" x2="101.20" y2="408.66" stroke="#111" stroke-width="1.1" /><text x="94.60" y="420.41" font-size="8.5" text-anchor="end" fill="#0a0a0a" font-weight="normal" font-style="italic" stroke="#0a0a0a" stroke-width="0.07" >JAK2</text><line x1="97.60" y1="417.46" x2="101.20" y2="417.46" stroke="#111" stroke-width="1.1" /><text x="94.60" y="429.22" font-size="8.5" text-anchor="end" fill="#0a0a0a" font-weight="normal" font-style="italic" stroke="#0a0a0a" stroke-width="0.07" >IDH1</text><line x1="97.60" y1="426.27" x2="101.20" y2="426.27" stroke="#111" stroke-width="1.1" /><text x="94.60" y="438.02" font-size="8.5" text-anchor="end" fill="#0a0a0a" font-weight="normal" font-style="italic" stroke="#0a0a0a" stroke-width="0.07" >PTPN11</text><line x1="97.60" y1="435.07" x2="101.20" y2="435.07" stroke="#111" stroke-width="1.1" /><text x="94.60" y="446.82" font-size="8.5" text-anchor="end" fill="#0a0a0a" font-weight="normal" font-style="italic" stroke="#0a0a0a" stroke-width="0.07" >BRAF</text><line x1="97.60" y1="443.87" x2="101.20" y2="443.87" stroke="#111" stroke-width="1.1" /><text x="94.60" y="455.63" font-size="8.2" text-anchor="end" fill="#0a0a0a" font-weight="normal" stroke="#0a0a0a" stroke-width="0.07" >Normal Karyotype</text><line x1="97.60" y1="452.68" x2="101.20" y2="452.68" stroke="#111" stroke-width="1.1" /><text x="94.60" y="464.43" font-size="8.2" text-anchor="end" fill="#0a0a0a" font-weight="normal" stroke="#0a0a0a" stroke-width="0.07" >del(5q)</text><line x1="97.60" y1="461.48" x2="101.20" y2="461.48" stroke="#111" stroke-width="1.1" /><text x="94.60" y="473.24" font-size="8.2" text-anchor="end" fill="#0a0a0a" font-weight="normal" stroke="#0a0a0a" stroke-width="0.07" >−7/del(7q)</text><line x1="97.60" y1="470.29" x2="101.20" y2="470.29" stroke="#111" stroke-width="1.1" /><text x="94.60" y="482.04" font-size="8.2" text-anchor="end" fill="#0a0a0a" font-weight="normal" stroke="#0a0a0a" stroke-width="0.07" >+8</text><line x1="97.60" y1="479.09" x2="101.20" y2="479.09" stroke="#111" stroke-width="1.1" /><text x="94.60" y="490.84" font-size="8.2" text-anchor="end" fill="#0a0a0a" font-weight="normal" stroke="#0a0a0a" stroke-width="0.07" >Complex</text><line x1="97.60" y1="487.89" x2="101.20" y2="487.89" stroke="#111" stroke-width="1.1" /><text x="94.60" y="499.65" font-size="8.2" text-anchor="end" fill="#0a0a0a" font-weight="normal" stroke="#0a0a0a" stroke-width="0.07" >Other</text><line x1="97.60" y1="496.70" x2="101.20" y2="496.70" stroke="#111" stroke-width="1.1" /><text x="7.80" y="511.10" font-size="12.6" text-anchor="start" fill="#000" font-weight="bold" stroke="#000" stroke-width="0.45" >D</text><defs><clipPath id="cdA"><rect x="101.5" y="529.5" width="75.69999999999999" height="121.29999999999995"/></clipPath><clipPath id="cdB"><rect x="183.6" y="529.5" width="75.70000000000002" height="121.29999999999995"/></clipPath><clipPath id="cdC"><rect x="265.6" y="529.5" width="76.0" height="121.29999999999995"/></clipPath><clipPath id="cdD"><rect x="347.8" y="529.5" width="76.05000000000001" height="121.29999999999995"/></clipPath><clipPath id="cdE"><rect x="427.4" y="529.5" width="76.0" height="121.29999999999995"/></clipPath></defs><rect x="101.50" y="529.50" width="75.70" height="121.30" fill="#fff" /><g clip-path="url(#cdA)"><line x1="136.50" y1="530.00" x2="136.50" y2="650.80" stroke="#000" stroke-width="1.0" stroke-dasharray="1,1"/><line x1="137.00" y1="535.80" x2="161.10" y2="535.80" stroke="#C8262B" stroke-width="1.0" /><line x1="137.00" y1="534.20" x2="137.00" y2="537.40" stroke="#C8262B" stroke-width="0.8" /><line x1="161.10" y1="534.20" x2="161.10" y2="537.40" stroke="#C8262B" stroke-width="0.8" /><circle cx="149.50" cy="535.80" r="2.6" fill="#C8262B"/><line x1="143.50" y1="545.73" x2="170.00" y2="545.73" stroke="#C8262B" stroke-width="1.0" /><line x1="143.50" y1="544.13" x2="143.50" y2="547.33" stroke="#C8262B" stroke-width="0.8" /><line x1="170.00" y1="544.13" x2="170.00" y2="547.33" stroke="#C8262B" stroke-width="0.8" /><circle cx="156.40" cy="545.73" r="2.6" fill="#C8262B"/><circle cx="101.50" cy="555.66" r="2.7" fill="#737A8B"/><line x1="131.30" y1="565.59" x2="162.50" y2="565.59" stroke="#8A909E" stroke-width="1.0" /><line x1="131.30" y1="563.99" x2="131.30" y2="567.19" stroke="#8A909E" stroke-width="0.8" /><line x1="162.50" y1="563.99" x2="162.50" y2="567.19" stroke="#8A909E" stroke-width="0.8" /><circle cx="146.90" cy="565.59" r="2.6" fill="#737A8B"/><line x1="120.10" y1="575.52" x2="159.90" y2="575.52" stroke="#8A909E" stroke-width="1.0" /><line x1="120.10" y1="573.92" x2="120.10" y2="577.12" stroke="#8A909E" stroke-width="0.8" /><line x1="159.90" y1="573.92" x2="159.90" y2="577.12" stroke="#8A909E" stroke-width="0.8" /><circle cx="140.00" cy="575.52" r="2.6" fill="#737A8B"/><circle cx="101.50" cy="585.45" r="2.7" fill="#737A8B"/><line x1="117.50" y1="595.38" x2="156.40" y2="595.38" stroke="#8A909E" stroke-width="1.0" /><line x1="117.50" y1="593.78" x2="117.50" y2="596.98" stroke="#8A909E" stroke-width="0.8" /><line x1="156.40" y1="593.78" x2="156.40" y2="596.98" stroke="#8A909E" stroke-width="0.8" /><circle cx="136.50" cy="595.38" r="2.6" fill="#737A8B"/><circle cx="101.50" cy="605.31" r="2.7" fill="#737A8B"/><circle cx="101.50" cy="615.24" r="2.7" fill="#737A8B"/><circle cx="101.50" cy="625.17" r="2.7" fill="#737A8B"/><line x1="101.00" y1="635.10" x2="140.30" y2="635.10" stroke="#8A909E" stroke-width="1.0" /><line x1="101.00" y1="633.50" x2="101.00" y2="636.70" stroke="#8A909E" stroke-width="0.8" /><line x1="140.30" y1="633.50" x2="140.30" y2="636.70" stroke="#8A909E" stroke-width="0.8" /><circle cx="121.00" cy="635.10" r="2.6" fill="#737A8B"/><line x1="105.40" y1="645.03" x2="144.30" y2="645.03" stroke="#8A909E" stroke-width="1.0" /><line x1="105.40" y1="643.43" x2="105.40" y2="646.63" stroke="#8A909E" stroke-width="0.8" /><line x1="144.30" y1="643.43" x2="144.30" y2="646.63" stroke="#8A909E" stroke-width="0.8" /><circle cx="124.40" cy="645.03" r="2.6" fill="#737A8B"/></g><rect x="101.50" y="512.80" width="75.70" height="16.70" fill="#C52124" /><text x="139.35" y="524.00" font-size="8.7" text-anchor="middle" fill="#fff" font-weight="normal" stroke="#fff" stroke-width="0.12" >Cluster A</text><line x1="101.50" y1="529.50" x2="177.20" y2="529.50" stroke="#111" stroke-width="1" /><rect x="101.50" y="512.80" width="75.70" height="138.00" fill="none" stroke="#111" stroke-width="1.1" /><line x1="103.76" y1="651.30" x2="103.76" y2="652.90" stroke="#222" stroke-width="0.7" /><line x1="106.44" y1="651.30" x2="106.44" y2="652.90" stroke="#222" stroke-width="0.7" /><line x1="108.53" y1="651.30" x2="108.53" y2="653.30" stroke="#222" stroke-width="0.7" /><line x1="110.23" y1="651.30" x2="110.23" y2="652.90" stroke="#222" stroke-width="0.7" /><line x1="111.67" y1="651.30" x2="111.67" y2="652.90" stroke="#222" stroke-width="0.7" /><line x1="112.92" y1="651.30" x2="112.92" y2="652.90" stroke="#222" stroke-width="0.7" /><line x1="114.02" y1="651.30" x2="114.02" y2="652.90" stroke="#222" stroke-width="0.7" /><line x1="115.00" y1="651.30" x2="115.00" y2="654.10" stroke="#222" stroke-width="0.7" /><line x1="121.47" y1="651.30" x2="121.47" y2="652.90" stroke="#222" stroke-width="0.7" /><line x1="125.26" y1="651.30" x2="125.26" y2="652.90" stroke="#222" stroke-width="0.7" /><line x1="127.94" y1="651.30" x2="127.94" y2="652.90" stroke="#222" stroke-width="0.7" /><line x1="130.03" y1="651.30" x2="130.03" y2="653.30" stroke="#222" stroke-width="0.7" /><line x1="131.73" y1="651.30" x2="131.73" y2="652.90" stroke="#222" stroke-width="0.7" /><line x1="133.17" y1="651.30" x2="133.17" y2="652.90" stroke="#222" stroke-width="0.7" /><line x1="134.42" y1="651.30" x2="134.42" y2="652.90" stroke="#222" stroke-width="0.7" /><line x1="135.52" y1="651.30" x2="135.52" y2="652.90" stroke="#222" stroke-width="0.7" /><line x1="136.50" y1="651.30" x2="136.50" y2="654.10" stroke="#222" stroke-width="0.7" /><line x1="142.97" y1="651.30" x2="142.97" y2="652.90" stroke="#222" stroke-width="0.7" /><line x1="146.76" y1="651.30" x2="146.76" y2="652.90" stroke="#222" stroke-width="0.7" /><line x1="149.44" y1="651.30" x2="149.44" y2="652.90" stroke="#222" stroke-width="0.7" /><line x1="151.53" y1="651.30" x2="151.53" y2="653.30" stroke="#222" stroke-width="0.7" /><line x1="153.23" y1="651.30" x2="153.23" y2="652.90" stroke="#222" stroke-width="0.7" /><line x1="154.67" y1="651.30" x2="154.67" y2="652.90" stroke="#222" stroke-width="0.7" /><line x1="155.92" y1="651.30" x2="155.92" y2="652.90" stroke="#222" stroke-width="0.7" /><line x1="157.02" y1="651.30" x2="157.02" y2="652.90" stroke="#222" stroke-width="0.7" /><line x1="158.00" y1="651.30" x2="158.00" y2="654.10" stroke="#222" stroke-width="0.7" /><line x1="164.47" y1="651.30" x2="164.47" y2="652.90" stroke="#222" stroke-width="0.7" /><line x1="168.26" y1="651.30" x2="168.26" y2="652.90" stroke="#222" stroke-width="0.7" /><line x1="170.94" y1="651.30" x2="170.94" y2="652.90" stroke="#222" stroke-width="0.7" /><line x1="173.03" y1="651.30" x2="173.03" y2="653.30" stroke="#222" stroke-width="0.7" /><line x1="174.73" y1="651.30" x2="174.73" y2="652.90" stroke="#222" stroke-width="0.7" /><line x1="176.17" y1="651.30" x2="176.17" y2="652.90" stroke="#222" stroke-width="0.7" /><text x="115.00" y="665.00" font-size="8.0" text-anchor="middle" fill="#222" font-weight="normal" stroke="#222" stroke-width="0.07" >0.1</text><text x="136.50" y="665.00" font-size="8.0" text-anchor="middle" fill="#222" font-weight="normal" stroke="#222" stroke-width="0.07" >1</text><text x="158.00" y="665.00" font-size="8.0" text-anchor="middle" fill="#222" font-weight="normal" stroke="#222" stroke-width="0.07" >10</text><rect x="183.60" y="529.50" width="75.70" height="121.30" fill="#fff" /><g clip-path="url(#cdB)"><line x1="218.50" y1="530.00" x2="218.50" y2="650.80" stroke="#000" stroke-width="1.0" stroke-dasharray="1,1"/><line x1="227.90" y1="535.80" x2="243.70" y2="535.80" stroke="#4F7DBA" stroke-width="1.0" /><line x1="227.90" y1="534.20" x2="227.90" y2="537.40" stroke="#4F7DBA" stroke-width="0.8" /><line x1="243.70" y1="534.20" x2="243.70" y2="537.40" stroke="#4F7DBA" stroke-width="0.8" /><circle cx="235.80" cy="535.80" r="2.6" fill="#4F7DBA"/><line x1="218.80" y1="545.73" x2="242.30" y2="545.73" stroke="#4F7DBA" stroke-width="1.0" /><line x1="218.80" y1="544.13" x2="218.80" y2="547.33" stroke="#4F7DBA" stroke-width="0.8" /><line x1="242.30" y1="544.13" x2="242.30" y2="547.33" stroke="#4F7DBA" stroke-width="0.8" /><circle cx="230.40" cy="545.73" r="2.6" fill="#4F7DBA"/><line x1="223.00" y1="555.66" x2="251.00" y2="555.66" stroke="#4F7DBA" stroke-width="1.0" /><line x1="223.00" y1="554.06" x2="223.00" y2="557.26" stroke="#4F7DBA" stroke-width="0.8" /><line x1="251.00" y1="554.06" x2="251.00" y2="557.26" stroke="#4F7DBA" stroke-width="0.8" /><circle cx="236.90" cy="555.66" r="2.6" fill="#4F7DBA"/><line x1="224.00" y1="565.59" x2="248.50" y2="565.59" stroke="#4F7DBA" stroke-width="1.0" /><line x1="224.00" y1="563.99" x2="224.00" y2="567.19" stroke="#4F7DBA" stroke-width="0.8" /><line x1="248.50" y1="563.99" x2="248.50" y2="567.19" stroke="#4F7DBA" stroke-width="0.8" /><circle cx="236.20" cy="565.59" r="2.6" fill="#4F7DBA"/><line x1="225.60" y1="575.52" x2="252.50" y2="575.52" stroke="#4F7DBA" stroke-width="1.0" /><line x1="225.60" y1="573.92" x2="225.60" y2="577.12" stroke="#4F7DBA" stroke-width="0.8" /><line x1="252.50" y1="573.92" x2="252.50" y2="577.12" stroke="#4F7DBA" stroke-width="0.8" /><circle cx="238.80" cy="575.52" r="2.6" fill="#4F7DBA"/><line x1="226.00" y1="585.45" x2="244.60" y2="585.45" stroke="#4F7DBA" stroke-width="1.0" /><line x1="226.00" y1="583.85" x2="226.00" y2="587.05" stroke="#4F7DBA" stroke-width="0.8" /><line x1="244.60" y1="583.85" x2="244.60" y2="587.05" stroke="#4F7DBA" stroke-width="0.8" /><circle cx="235.40" cy="585.45" r="2.6" fill="#4F7DBA"/><circle cx="183.60" cy="595.38" r="2.7" fill="#737A8B"/><line x1="210.60" y1="605.31" x2="226.50" y2="605.31" stroke="#8A909E" stroke-width="1.0" /><line x1="210.60" y1="603.71" x2="210.60" y2="606.91" stroke="#8A909E" stroke-width="0.8" /><line x1="226.50" y1="603.71" x2="226.50" y2="606.91" stroke="#8A909E" stroke-width="0.8" /><circle cx="218.80" cy="605.31" r="2.6" fill="#737A8B"/><line x1="215.40" y1="615.24" x2="233.70" y2="615.24" stroke="#8A909E" stroke-width="1.0" /><line x1="215.40" y1="613.64" x2="215.40" y2="616.84" stroke="#8A909E" stroke-width="0.8" /><line x1="233.70" y1="613.64" x2="233.70" y2="616.84" stroke="#8A909E" stroke-width="0.8" /><circle cx="224.60" cy="615.24" r="2.6" fill="#737A8B"/><line x1="194.80" y1="625.17" x2="222.70" y2="625.17" stroke="#8A909E" stroke-width="1.0" /><line x1="194.80" y1="623.57" x2="194.80" y2="626.77" stroke="#8A909E" stroke-width="0.8" /><line x1="222.70" y1="623.57" x2="222.70" y2="626.77" stroke="#8A909E" stroke-width="0.8" /><circle cx="208.80" cy="625.17" r="2.6" fill="#737A8B"/><line x1="197.00" y1="635.10" x2="218.30" y2="635.10" stroke="#8A909E" stroke-width="1.0" /><line x1="197.00" y1="633.50" x2="197.00" y2="636.70" stroke="#8A909E" stroke-width="0.8" /><line x1="218.30" y1="633.50" x2="218.30" y2="636.70" stroke="#8A909E" stroke-width="0.8" /><circle cx="207.30" cy="635.10" r="2.6" fill="#737A8B"/><line x1="209.60" y1="645.03" x2="227.00" y2="645.03" stroke="#8A909E" stroke-width="1.0" /><line x1="209.60" y1="643.43" x2="209.60" y2="646.63" stroke="#8A909E" stroke-width="0.8" /><line x1="227.00" y1="643.43" x2="227.00" y2="646.63" stroke="#8A909E" stroke-width="0.8" /><circle cx="218.30" cy="645.03" r="2.6" fill="#737A8B"/></g><rect x="183.60" y="512.80" width="75.70" height="16.70" fill="#527DB4" /><text x="221.45" y="524.00" font-size="8.7" text-anchor="middle" fill="#fff" font-weight="normal" stroke="#fff" stroke-width="0.12" >Cluster B</text><line x1="183.60" y1="529.50" x2="259.30" y2="529.50" stroke="#111" stroke-width="1" /><rect x="183.60" y="512.80" width="75.70" height="138.00" fill="none" stroke="#111" stroke-width="1.1" /><line x1="185.86" y1="651.30" x2="185.86" y2="652.90" stroke="#222" stroke-width="0.7" /><line x1="188.54" y1="651.30" x2="188.54" y2="652.90" stroke="#222" stroke-width="0.7" /><line x1="190.63" y1="651.30" x2="190.63" y2="653.30" stroke="#222" stroke-width="0.7" /><line x1="192.33" y1="651.30" x2="192.33" y2="652.90" stroke="#222" stroke-width="0.7" /><line x1="193.77" y1="651.30" x2="193.77" y2="652.90" stroke="#222" stroke-width="0.7" /><line x1="195.02" y1="651.30" x2="195.02" y2="652.90" stroke="#222" stroke-width="0.7" /><line x1="196.12" y1="651.30" x2="196.12" y2="652.90" stroke="#222" stroke-width="0.7" /><line x1="197.10" y1="651.30" x2="197.10" y2="654.10" stroke="#222" stroke-width="0.7" /><line x1="203.57" y1="651.30" x2="203.57" y2="652.90" stroke="#222" stroke-width="0.7" /><line x1="207.36" y1="651.30" x2="207.36" y2="652.90" stroke="#222" stroke-width="0.7" /><line x1="210.04" y1="651.30" x2="210.04" y2="652.90" stroke="#222" stroke-width="0.7" /><line x1="212.13" y1="651.30" x2="212.13" y2="653.30" stroke="#222" stroke-width="0.7" /><line x1="213.83" y1="651.30" x2="213.83" y2="652.90" stroke="#222" stroke-width="0.7" /><line x1="215.27" y1="651.30" x2="215.27" y2="652.90" stroke="#222" stroke-width="0.7" /><line x1="216.52" y1="651.30" x2="216.52" y2="652.90" stroke="#222" stroke-width="0.7" /><line x1="217.62" y1="651.30" x2="217.62" y2="652.90" stroke="#222" stroke-width="0.7" /><line x1="218.60" y1="651.30" x2="218.60" y2="654.10" stroke="#222" stroke-width="0.7" /><line x1="225.07" y1="651.30" x2="225.07" y2="652.90" stroke="#222" stroke-width="0.7" /><line x1="228.86" y1="651.30" x2="228.86" y2="652.90" stroke="#222" stroke-width="0.7" /><line x1="231.54" y1="651.30" x2="231.54" y2="652.90" stroke="#222" stroke-width="0.7" /><line x1="233.63" y1="651.30" x2="233.63" y2="653.30" stroke="#222" stroke-width="0.7" /><line x1="235.33" y1="651.30" x2="235.33" y2="652.90" stroke="#222" stroke-width="0.7" /><line x1="236.77" y1="651.30" x2="236.77" y2="652.90" stroke="#222" stroke-width="0.7" /><line x1="238.02" y1="651.30" x2="238.02" y2="652.90" stroke="#222" stroke-width="0.7" /><line x1="239.12" y1="651.30" x2="239.12" y2="652.90" stroke="#222" stroke-width="0.7" /><line x1="240.10" y1="651.30" x2="240.10" y2="654.10" stroke="#222" stroke-width="0.7" /><line x1="246.57" y1="651.30" x2="246.57" y2="652.90" stroke="#222" stroke-width="0.7" /><line x1="250.36" y1="651.30" x2="250.36" y2="652.90" stroke="#222" stroke-width="0.7" /><line x1="253.04" y1="651.30" x2="253.04" y2="652.90" stroke="#222" stroke-width="0.7" /><line x1="255.13" y1="651.30" x2="255.13" y2="653.30" stroke="#222" stroke-width="0.7" /><line x1="256.83" y1="651.30" x2="256.83" y2="652.90" stroke="#222" stroke-width="0.7" /><line x1="258.27" y1="651.30" x2="258.27" y2="652.90" stroke="#222" stroke-width="0.7" /><text x="197.10" y="665.00" font-size="8.0" text-anchor="middle" fill="#222" font-weight="normal" stroke="#222" stroke-width="0.07" >0.1</text><text x="218.60" y="665.00" font-size="8.0" text-anchor="middle" fill="#222" font-weight="normal" stroke="#222" stroke-width="0.07" >1</text><text x="240.10" y="665.00" font-size="8.0" text-anchor="middle" fill="#222" font-weight="normal" stroke="#222" stroke-width="0.07" >10</text><rect x="265.60" y="529.50" width="76.00" height="121.30" fill="#fff" /><g clip-path="url(#cdC)"><line x1="300.50" y1="530.00" x2="300.50" y2="650.80" stroke="#000" stroke-width="1.0" stroke-dasharray="1,1"/><line x1="279.00" y1="535.80" x2="295.80" y2="535.80" stroke="#8A909E" stroke-width="1.0" /><line x1="279.00" y1="534.20" x2="279.00" y2="537.40" stroke="#8A909E" stroke-width="0.8" /><line x1="295.80" y1="534.20" x2="295.80" y2="537.40" stroke="#8A909E" stroke-width="0.8" /><circle cx="289.80" cy="535.80" r="2.6" fill="#737A8B"/><circle cx="265.60" cy="545.73" r="2.7" fill="#737A8B"/><circle cx="265.60" cy="555.66" r="2.7" fill="#737A8B"/><circle cx="265.60" cy="565.59" r="2.7" fill="#737A8B"/><circle cx="265.60" cy="575.52" r="2.7" fill="#737A8B"/><line x1="298.80" y1="585.45" x2="318.00" y2="585.45" stroke="#8A909E" stroke-width="1.0" /><line x1="298.80" y1="583.85" x2="298.80" y2="587.05" stroke="#8A909E" stroke-width="0.8" /><line x1="318.00" y1="583.85" x2="318.00" y2="587.05" stroke="#8A909E" stroke-width="0.8" /><circle cx="308.30" cy="585.45" r="2.6" fill="#737A8B"/><line x1="315.60" y1="595.38" x2="345.00" y2="595.38" stroke="#6DAA4E" stroke-width="1.0" /><line x1="315.60" y1="593.78" x2="315.60" y2="596.98" stroke="#6DAA4E" stroke-width="0.8" /><line x1="345.00" y1="593.78" x2="345.00" y2="596.98" stroke="#6DAA4E" stroke-width="0.8" /><circle cx="327.70" cy="595.38" r="2.6" fill="#6DAA4E"/><line x1="308.50" y1="605.31" x2="324.60" y2="605.31" stroke="#6DAA4E" stroke-width="1.0" /><line x1="308.50" y1="603.71" x2="308.50" y2="606.91" stroke="#6DAA4E" stroke-width="0.8" /><line x1="324.60" y1="603.71" x2="324.60" y2="606.91" stroke="#6DAA4E" stroke-width="0.8" /><circle cx="316.50" cy="605.31" r="2.6" fill="#6DAA4E"/><line x1="306.50" y1="615.24" x2="324.60" y2="615.24" stroke="#6DAA4E" stroke-width="1.0" /><line x1="306.50" y1="613.64" x2="306.50" y2="616.84" stroke="#6DAA4E" stroke-width="0.8" /><line x1="324.60" y1="613.64" x2="324.60" y2="616.84" stroke="#6DAA4E" stroke-width="0.8" /><circle cx="315.20" cy="615.24" r="2.6" fill="#6DAA4E"/><line x1="301.50" y1="625.17" x2="320.40" y2="625.17" stroke="#6DAA4E" stroke-width="1.0" /><line x1="301.50" y1="623.57" x2="301.50" y2="626.77" stroke="#6DAA4E" stroke-width="0.8" /><line x1="320.40" y1="623.57" x2="320.40" y2="626.77" stroke="#6DAA4E" stroke-width="0.8" /><circle cx="310.80" cy="625.17" r="2.6" fill="#6DAA4E"/><line x1="297.70" y1="635.10" x2="313.70" y2="635.10" stroke="#8A909E" stroke-width="1.0" /><line x1="297.70" y1="633.50" x2="297.70" y2="636.70" stroke="#8A909E" stroke-width="0.8" /><line x1="313.70" y1="633.50" x2="313.70" y2="636.70" stroke="#8A909E" stroke-width="0.8" /><circle cx="305.60" cy="635.10" r="2.6" fill="#737A8B"/><line x1="284.40" y1="645.03" x2="306.00" y2="645.03" stroke="#8A909E" stroke-width="1.0" /><line x1="284.40" y1="643.43" x2="284.40" y2="646.63" stroke="#8A909E" stroke-width="0.8" /><line x1="306.00" y1="643.43" x2="306.00" y2="646.63" stroke="#8A909E" stroke-width="0.8" /><circle cx="295.00" cy="645.03" r="2.6" fill="#737A8B"/></g><rect x="265.60" y="512.80" width="76.00" height="16.70" fill="#72AC54" /><text x="303.60" y="524.00" font-size="8.7" text-anchor="middle" fill="#fff" font-weight="normal" stroke="#fff" stroke-width="0.12" >Cluster C</text><line x1="265.60" y1="529.50" x2="341.60" y2="529.50" stroke="#111" stroke-width="1" /><rect x="265.60" y="512.80" width="76.00" height="138.00" fill="none" stroke="#111" stroke-width="1.1" /><line x1="267.86" y1="651.30" x2="267.86" y2="652.90" stroke="#222" stroke-width="0.7" /><line x1="270.54" y1="651.30" x2="270.54" y2="652.90" stroke="#222" stroke-width="0.7" /><line x1="272.63" y1="651.30" x2="272.63" y2="653.30" stroke="#222" stroke-width="0.7" /><line x1="274.33" y1="651.30" x2="274.33" y2="652.90" stroke="#222" stroke-width="0.7" /><line x1="275.77" y1="651.30" x2="275.77" y2="652.90" stroke="#222" stroke-width="0.7" /><line x1="277.02" y1="651.30" x2="277.02" y2="652.90" stroke="#222" stroke-width="0.7" /><line x1="278.12" y1="651.30" x2="278.12" y2="652.90" stroke="#222" stroke-width="0.7" /><line x1="279.10" y1="651.30" x2="279.10" y2="654.10" stroke="#222" stroke-width="0.7" /><line x1="285.57" y1="651.30" x2="285.57" y2="652.90" stroke="#222" stroke-width="0.7" /><line x1="289.36" y1="651.30" x2="289.36" y2="652.90" stroke="#222" stroke-width="0.7" /><line x1="292.04" y1="651.30" x2="292.04" y2="652.90" stroke="#222" stroke-width="0.7" /><line x1="294.13" y1="651.30" x2="294.13" y2="653.30" stroke="#222" stroke-width="0.7" /><line x1="295.83" y1="651.30" x2="295.83" y2="652.90" stroke="#222" stroke-width="0.7" /><line x1="297.27" y1="651.30" x2="297.27" y2="652.90" stroke="#222" stroke-width="0.7" /><line x1="298.52" y1="651.30" x2="298.52" y2="652.90" stroke="#222" stroke-width="0.7" /><line x1="299.62" y1="651.30" x2="299.62" y2="652.90" stroke="#222" stroke-width="0.7" /><line x1="300.60" y1="651.30" x2="300.60" y2="654.10" stroke="#222" stroke-width="0.7" /><line x1="307.07" y1="651.30" x2="307.07" y2="652.90" stroke="#222" stroke-width="0.7" /><line x1="310.86" y1="651.30" x2="310.86" y2="652.90" stroke="#222" stroke-width="0.7" /><line x1="313.54" y1="651.30" x2="313.54" y2="652.90" stroke="#222" stroke-width="0.7" /><line x1="315.63" y1="651.30" x2="315.63" y2="653.30" stroke="#222" stroke-width="0.7" /><line x1="317.33" y1="651.30" x2="317.33" y2="652.90" stroke="#222" stroke-width="0.7" /><line x1="318.77" y1="651.30" x2="318.77" y2="652.90" stroke="#222" stroke-width="0.7" /><line x1="320.02" y1="651.30" x2="320.02" y2="652.90" stroke="#222" stroke-width="0.7" /><line x1="321.12" y1="651.30" x2="321.12" y2="652.90" stroke="#222" stroke-width="0.7" /><line x1="322.10" y1="651.30" x2="322.10" y2="654.10" stroke="#222" stroke-width="0.7" /><line x1="328.57" y1="651.30" x2="328.57" y2="652.90" stroke="#222" stroke-width="0.7" /><line x1="332.36" y1="651.30" x2="332.36" y2="652.90" stroke="#222" stroke-width="0.7" /><line x1="335.04" y1="651.30" x2="335.04" y2="652.90" stroke="#222" stroke-width="0.7" /><line x1="337.13" y1="651.30" x2="337.13" y2="653.30" stroke="#222" stroke-width="0.7" /><line x1="338.83" y1="651.30" x2="338.83" y2="652.90" stroke="#222" stroke-width="0.7" /><line x1="340.27" y1="651.30" x2="340.27" y2="652.90" stroke="#222" stroke-width="0.7" /><text x="279.10" y="665.00" font-size="8.0" text-anchor="middle" fill="#222" font-weight="normal" stroke="#222" stroke-width="0.07" >0.1</text><text x="300.60" y="665.00" font-size="8.0" text-anchor="middle" fill="#222" font-weight="normal" stroke="#222" stroke-width="0.07" >1</text><text x="322.10" y="665.00" font-size="8.0" text-anchor="middle" fill="#222" font-weight="normal" stroke="#222" stroke-width="0.07" >10</text><rect x="347.80" y="529.50" width="76.05" height="121.30" fill="#fff" /><g clip-path="url(#cdD)"><line x1="382.50" y1="530.00" x2="382.50" y2="650.80" stroke="#000" stroke-width="1.0" stroke-dasharray="1,1"/><line x1="370.60" y1="535.80" x2="388.50" y2="535.80" stroke="#8A909E" stroke-width="1.0" /><line x1="370.60" y1="534.20" x2="370.60" y2="537.40" stroke="#8A909E" stroke-width="0.8" /><line x1="388.50" y1="534.20" x2="388.50" y2="537.40" stroke="#8A909E" stroke-width="0.8" /><circle cx="379.40" cy="535.80" r="2.6" fill="#737A8B"/><line x1="357.10" y1="545.73" x2="396.20" y2="545.73" stroke="#8A909E" stroke-width="1.0" /><line x1="357.10" y1="544.13" x2="357.10" y2="547.33" stroke="#8A909E" stroke-width="0.8" /><line x1="396.20" y1="544.13" x2="396.20" y2="547.33" stroke="#8A909E" stroke-width="0.8" /><circle cx="376.30" cy="545.73" r="2.6" fill="#737A8B"/><line x1="360.00" y1="555.66" x2="399.80" y2="555.66" stroke="#8A909E" stroke-width="1.0" /><line x1="360.00" y1="554.06" x2="360.00" y2="557.26" stroke="#8A909E" stroke-width="0.8" /><line x1="399.80" y1="554.06" x2="399.80" y2="557.26" stroke="#8A909E" stroke-width="0.8" /><circle cx="379.60" cy="555.66" r="2.6" fill="#737A8B"/><circle cx="347.80" cy="565.59" r="2.7" fill="#737A8B"/><circle cx="347.80" cy="575.52" r="2.7" fill="#737A8B"/><line x1="351.30" y1="585.45" x2="388.80" y2="585.45" stroke="#8A909E" stroke-width="1.0" /><line x1="351.30" y1="583.85" x2="351.30" y2="587.05" stroke="#8A909E" stroke-width="0.8" /><line x1="388.80" y1="583.85" x2="388.80" y2="587.05" stroke="#8A909E" stroke-width="0.8" /><circle cx="369.80" cy="585.45" r="2.6" fill="#737A8B"/><line x1="356.20" y1="595.38" x2="395.00" y2="595.38" stroke="#8A909E" stroke-width="1.0" /><line x1="356.20" y1="593.78" x2="356.20" y2="596.98" stroke="#8A909E" stroke-width="0.8" /><line x1="395.00" y1="593.78" x2="395.00" y2="596.98" stroke="#8A909E" stroke-width="0.8" /><circle cx="375.40" cy="595.38" r="2.6" fill="#737A8B"/><line x1="375.40" y1="605.31" x2="392.70" y2="605.31" stroke="#8A909E" stroke-width="1.0" /><line x1="375.40" y1="603.71" x2="375.40" y2="606.91" stroke="#8A909E" stroke-width="0.8" /><line x1="392.70" y1="603.71" x2="392.70" y2="606.91" stroke="#8A909E" stroke-width="0.8" /><circle cx="384.40" cy="605.31" r="2.6" fill="#737A8B"/><line x1="368.00" y1="615.24" x2="392.10" y2="615.24" stroke="#8A909E" stroke-width="1.0" /><line x1="368.00" y1="613.64" x2="368.00" y2="616.84" stroke="#8A909E" stroke-width="0.8" /><line x1="392.10" y1="613.64" x2="392.10" y2="616.84" stroke="#8A909E" stroke-width="0.8" /><circle cx="380.20" cy="615.24" r="2.6" fill="#737A8B"/><line x1="382.10" y1="625.17" x2="400.80" y2="625.17" stroke="#8A909E" stroke-width="1.0" /><line x1="382.10" y1="623.57" x2="382.10" y2="626.77" stroke="#8A909E" stroke-width="0.8" /><line x1="400.80" y1="623.57" x2="400.80" y2="626.77" stroke="#8A909E" stroke-width="0.8" /><circle cx="391.30" cy="625.17" r="2.6" fill="#737A8B"/><line x1="385.40" y1="635.10" x2="401.70" y2="635.10" stroke="#8348A5" stroke-width="1.0" /><line x1="385.40" y1="633.50" x2="385.40" y2="636.70" stroke="#8348A5" stroke-width="0.8" /><line x1="401.70" y1="633.50" x2="401.70" y2="636.70" stroke="#8348A5" stroke-width="0.8" /><circle cx="393.30" cy="635.10" r="2.6" fill="#8348A5"/><line x1="373.50" y1="645.03" x2="392.70" y2="645.03" stroke="#8A909E" stroke-width="1.0" /><line x1="373.50" y1="643.43" x2="373.50" y2="646.63" stroke="#8A909E" stroke-width="0.8" /><line x1="392.70" y1="643.43" x2="392.70" y2="646.63" stroke="#8A909E" stroke-width="0.8" /><circle cx="383.10" cy="645.03" r="2.6" fill="#737A8B"/></g><rect x="347.80" y="512.80" width="76.05" height="16.70" fill="#8752A2" /><text x="385.83" y="524.00" font-size="8.7" text-anchor="middle" fill="#fff" font-weight="normal" stroke="#fff" stroke-width="0.12" >Cluster D</text><line x1="347.80" y1="529.50" x2="423.85" y2="529.50" stroke="#111" stroke-width="1" /><rect x="347.80" y="512.80" width="76.05" height="138.00" fill="none" stroke="#111" stroke-width="1.1" /><line x1="350.06" y1="651.30" x2="350.06" y2="652.90" stroke="#222" stroke-width="0.7" /><line x1="352.74" y1="651.30" x2="352.74" y2="652.90" stroke="#222" stroke-width="0.7" /><line x1="354.83" y1="651.30" x2="354.83" y2="653.30" stroke="#222" stroke-width="0.7" /><line x1="356.53" y1="651.30" x2="356.53" y2="652.90" stroke="#222" stroke-width="0.7" /><line x1="357.97" y1="651.30" x2="357.97" y2="652.90" stroke="#222" stroke-width="0.7" /><line x1="359.22" y1="651.30" x2="359.22" y2="652.90" stroke="#222" stroke-width="0.7" /><line x1="360.32" y1="651.30" x2="360.32" y2="652.90" stroke="#222" stroke-width="0.7" /><line x1="361.30" y1="651.30" x2="361.30" y2="654.10" stroke="#222" stroke-width="0.7" /><line x1="367.77" y1="651.30" x2="367.77" y2="652.90" stroke="#222" stroke-width="0.7" /><line x1="371.56" y1="651.30" x2="371.56" y2="652.90" stroke="#222" stroke-width="0.7" /><line x1="374.24" y1="651.30" x2="374.24" y2="652.90" stroke="#222" stroke-width="0.7" /><line x1="376.33" y1="651.30" x2="376.33" y2="653.30" stroke="#222" stroke-width="0.7" /><line x1="378.03" y1="651.30" x2="378.03" y2="652.90" stroke="#222" stroke-width="0.7" /><line x1="379.47" y1="651.30" x2="379.47" y2="652.90" stroke="#222" stroke-width="0.7" /><line x1="380.72" y1="651.30" x2="380.72" y2="652.90" stroke="#222" stroke-width="0.7" /><line x1="381.82" y1="651.30" x2="381.82" y2="652.90" stroke="#222" stroke-width="0.7" /><line x1="382.80" y1="651.30" x2="382.80" y2="654.10" stroke="#222" stroke-width="0.7" /><line x1="389.27" y1="651.30" x2="389.27" y2="652.90" stroke="#222" stroke-width="0.7" /><line x1="393.06" y1="651.30" x2="393.06" y2="652.90" stroke="#222" stroke-width="0.7" /><line x1="395.74" y1="651.30" x2="395.74" y2="652.90" stroke="#222" stroke-width="0.7" /><line x1="397.83" y1="651.30" x2="397.83" y2="653.30" stroke="#222" stroke-width="0.7" /><line x1="399.53" y1="651.30" x2="399.53" y2="652.90" stroke="#222" stroke-width="0.7" /><line x1="400.97" y1="651.30" x2="400.97" y2="652.90" stroke="#222" stroke-width="0.7" /><line x1="402.22" y1="651.30" x2="402.22" y2="652.90" stroke="#222" stroke-width="0.7" /><line x1="403.32" y1="651.30" x2="403.32" y2="652.90" stroke="#222" stroke-width="0.7" /><line x1="404.30" y1="651.30" x2="404.30" y2="654.10" stroke="#222" stroke-width="0.7" /><line x1="410.77" y1="651.30" x2="410.77" y2="652.90" stroke="#222" stroke-width="0.7" /><line x1="414.56" y1="651.30" x2="414.56" y2="652.90" stroke="#222" stroke-width="0.7" /><line x1="417.24" y1="651.30" x2="417.24" y2="652.90" stroke="#222" stroke-width="0.7" /><line x1="419.33" y1="651.30" x2="419.33" y2="653.30" stroke="#222" stroke-width="0.7" /><line x1="421.03" y1="651.30" x2="421.03" y2="652.90" stroke="#222" stroke-width="0.7" /><line x1="422.47" y1="651.30" x2="422.47" y2="652.90" stroke="#222" stroke-width="0.7" /><text x="361.30" y="665.00" font-size="8.0" text-anchor="middle" fill="#222" font-weight="normal" stroke="#222" stroke-width="0.07" >0.1</text><text x="382.80" y="665.00" font-size="8.0" text-anchor="middle" fill="#222" font-weight="normal" stroke="#222" stroke-width="0.07" >1</text><text x="404.30" y="665.00" font-size="8.0" text-anchor="middle" fill="#222" font-weight="normal" stroke="#222" stroke-width="0.07" >10</text><rect x="427.40" y="529.50" width="76.00" height="121.30" fill="#fff" /><g clip-path="url(#cdE)"><line x1="462.50" y1="530.00" x2="462.50" y2="650.80" stroke="#000" stroke-width="1.0" stroke-dasharray="1,1"/><line x1="449.80" y1="535.80" x2="465.60" y2="535.80" stroke="#8A909E" stroke-width="1.0" /><line x1="449.80" y1="534.20" x2="449.80" y2="537.40" stroke="#8A909E" stroke-width="0.8" /><line x1="465.60" y1="534.20" x2="465.60" y2="537.40" stroke="#8A909E" stroke-width="0.8" /><circle cx="457.70" cy="535.80" r="2.6" fill="#737A8B"/><line x1="432.90" y1="545.73" x2="471.50" y2="545.73" stroke="#8A909E" stroke-width="1.0" /><line x1="432.90" y1="544.13" x2="432.90" y2="547.33" stroke="#8A909E" stroke-width="0.8" /><line x1="471.50" y1="544.13" x2="471.50" y2="547.33" stroke="#8A909E" stroke-width="0.8" /><circle cx="452.30" cy="545.73" r="2.6" fill="#737A8B"/><line x1="448.50" y1="555.66" x2="478.70" y2="555.66" stroke="#8A909E" stroke-width="1.0" /><line x1="448.50" y1="554.06" x2="448.50" y2="557.26" stroke="#8A909E" stroke-width="0.8" /><line x1="478.70" y1="554.06" x2="478.70" y2="557.26" stroke="#8A909E" stroke-width="0.8" /><circle cx="463.70" cy="555.66" r="2.6" fill="#737A8B"/><line x1="446.30" y1="565.59" x2="475.80" y2="565.59" stroke="#8A909E" stroke-width="1.0" /><line x1="446.30" y1="563.99" x2="446.30" y2="567.19" stroke="#8A909E" stroke-width="0.8" /><line x1="475.80" y1="563.99" x2="475.80" y2="567.19" stroke="#8A909E" stroke-width="0.8" /><circle cx="460.80" cy="565.59" r="2.6" fill="#737A8B"/><line x1="447.50" y1="575.52" x2="477.10" y2="575.52" stroke="#8A909E" stroke-width="1.0" /><line x1="447.50" y1="573.92" x2="447.50" y2="577.12" stroke="#8A909E" stroke-width="0.8" /><line x1="477.10" y1="573.92" x2="477.10" y2="577.12" stroke="#8A909E" stroke-width="0.8" /><circle cx="462.30" cy="575.52" r="2.6" fill="#737A8B"/><line x1="438.70" y1="585.45" x2="466.50" y2="585.45" stroke="#8A909E" stroke-width="1.0" /><line x1="438.70" y1="583.85" x2="438.70" y2="587.05" stroke="#8A909E" stroke-width="0.8" /><line x1="466.50" y1="583.85" x2="466.50" y2="587.05" stroke="#8A909E" stroke-width="0.8" /><circle cx="452.70" cy="585.45" r="2.6" fill="#737A8B"/><line x1="431.90" y1="595.38" x2="470.60" y2="595.38" stroke="#8A909E" stroke-width="1.0" /><line x1="431.90" y1="593.78" x2="431.90" y2="596.98" stroke="#8A909E" stroke-width="0.8" /><line x1="470.60" y1="593.78" x2="470.60" y2="596.98" stroke="#8A909E" stroke-width="0.8" /><circle cx="451.20" cy="595.38" r="2.6" fill="#737A8B"/><line x1="452.70" y1="605.31" x2="468.50" y2="605.31" stroke="#8A909E" stroke-width="1.0" /><line x1="452.70" y1="603.71" x2="452.70" y2="606.91" stroke="#8A909E" stroke-width="0.8" /><line x1="468.50" y1="603.71" x2="468.50" y2="606.91" stroke="#8A909E" stroke-width="0.8" /><circle cx="460.40" cy="605.31" r="2.6" fill="#737A8B"/><line x1="443.50" y1="615.24" x2="467.10" y2="615.24" stroke="#8A909E" stroke-width="1.0" /><line x1="443.50" y1="613.64" x2="443.50" y2="616.84" stroke="#8A909E" stroke-width="0.8" /><line x1="467.10" y1="613.64" x2="467.10" y2="616.84" stroke="#8A909E" stroke-width="0.8" /><circle cx="455.20" cy="615.24" r="2.6" fill="#737A8B"/><line x1="454.60" y1="625.17" x2="473.50" y2="625.17" stroke="#8A909E" stroke-width="1.0" /><line x1="454.60" y1="623.57" x2="454.60" y2="626.77" stroke="#8A909E" stroke-width="0.8" /><line x1="473.50" y1="623.57" x2="473.50" y2="626.77" stroke="#8A909E" stroke-width="0.8" /><circle cx="464.20" cy="625.17" r="2.6" fill="#737A8B"/><line x1="462.30" y1="635.10" x2="476.20" y2="635.10" stroke="#8A909E" stroke-width="1.0" /><line x1="462.30" y1="633.50" x2="462.30" y2="636.70" stroke="#8A909E" stroke-width="0.8" /><line x1="476.20" y1="633.50" x2="476.20" y2="636.70" stroke="#8A909E" stroke-width="0.8" /><circle cx="469.00" cy="635.10" r="2.6" fill="#737A8B"/><line x1="468.00" y1="645.03" x2="483.00" y2="645.03" stroke="#E07A18" stroke-width="1.0" /><line x1="468.00" y1="643.43" x2="468.00" y2="646.63" stroke="#E07A18" stroke-width="0.8" /><line x1="483.00" y1="643.43" x2="483.00" y2="646.63" stroke="#E07A18" stroke-width="0.8" /><circle cx="475.40" cy="645.03" r="2.6" fill="#E07A18"/></g><rect x="427.40" y="512.80" width="76.00" height="16.70" fill="#E27E1B" /><text x="465.40" y="524.00" font-size="8.7" text-anchor="middle" fill="#fff" font-weight="normal" stroke="#fff" stroke-width="0.12" >Cluster E</text><line x1="427.40" y1="529.50" x2="503.40" y2="529.50" stroke="#111" stroke-width="1" /><rect x="427.40" y="512.80" width="76.00" height="138.00" fill="none" stroke="#111" stroke-width="1.1" /><line x1="429.66" y1="651.30" x2="429.66" y2="652.90" stroke="#222" stroke-width="0.7" /><line x1="432.34" y1="651.30" x2="432.34" y2="652.90" stroke="#222" stroke-width="0.7" /><line x1="434.43" y1="651.30" x2="434.43" y2="653.30" stroke="#222" stroke-width="0.7" /><line x1="436.13" y1="651.30" x2="436.13" y2="652.90" stroke="#222" stroke-width="0.7" /><line x1="437.57" y1="651.30" x2="437.57" y2="652.90" stroke="#222" stroke-width="0.7" /><line x1="438.82" y1="651.30" x2="438.82" y2="652.90" stroke="#222" stroke-width="0.7" /><line x1="439.92" y1="651.30" x2="439.92" y2="652.90" stroke="#222" stroke-width="0.7" /><line x1="440.90" y1="651.30" x2="440.90" y2="654.10" stroke="#222" stroke-width="0.7" /><line x1="447.37" y1="651.30" x2="447.37" y2="652.90" stroke="#222" stroke-width="0.7" /><line x1="451.16" y1="651.30" x2="451.16" y2="652.90" stroke="#222" stroke-width="0.7" /><line x1="453.84" y1="651.30" x2="453.84" y2="652.90" stroke="#222" stroke-width="0.7" /><line x1="455.93" y1="651.30" x2="455.93" y2="653.30" stroke="#222" stroke-width="0.7" /><line x1="457.63" y1="651.30" x2="457.63" y2="652.90" stroke="#222" stroke-width="0.7" /><line x1="459.07" y1="651.30" x2="459.07" y2="652.90" stroke="#222" stroke-width="0.7" /><line x1="460.32" y1="651.30" x2="460.32" y2="652.90" stroke="#222" stroke-width="0.7" /><line x1="461.42" y1="651.30" x2="461.42" y2="652.90" stroke="#222" stroke-width="0.7" /><line x1="462.40" y1="651.30" x2="462.40" y2="654.10" stroke="#222" stroke-width="0.7" /><line x1="468.87" y1="651.30" x2="468.87" y2="652.90" stroke="#222" stroke-width="0.7" /><line x1="472.66" y1="651.30" x2="472.66" y2="652.90" stroke="#222" stroke-width="0.7" /><line x1="475.34" y1="651.30" x2="475.34" y2="652.90" stroke="#222" stroke-width="0.7" /><line x1="477.43" y1="651.30" x2="477.43" y2="653.30" stroke="#222" stroke-width="0.7" /><line x1="479.13" y1="651.30" x2="479.13" y2="652.90" stroke="#222" stroke-width="0.7" /><line x1="480.57" y1="651.30" x2="480.57" y2="652.90" stroke="#222" stroke-width="0.7" /><line x1="481.82" y1="651.30" x2="481.82" y2="652.90" stroke="#222" stroke-width="0.7" /><line x1="482.92" y1="651.30" x2="482.92" y2="652.90" stroke="#222" stroke-width="0.7" /><line x1="483.90" y1="651.30" x2="483.90" y2="654.10" stroke="#222" stroke-width="0.7" /><line x1="490.37" y1="651.30" x2="490.37" y2="652.90" stroke="#222" stroke-width="0.7" /><line x1="494.16" y1="651.30" x2="494.16" y2="652.90" stroke="#222" stroke-width="0.7" /><line x1="496.84" y1="651.30" x2="496.84" y2="652.90" stroke="#222" stroke-width="0.7" /><line x1="498.93" y1="651.30" x2="498.93" y2="653.30" stroke="#222" stroke-width="0.7" /><line x1="500.63" y1="651.30" x2="500.63" y2="652.90" stroke="#222" stroke-width="0.7" /><line x1="502.07" y1="651.30" x2="502.07" y2="652.90" stroke="#222" stroke-width="0.7" /><text x="440.90" y="665.00" font-size="8.0" text-anchor="middle" fill="#222" font-weight="normal" stroke="#222" stroke-width="0.07" >0.1</text><text x="462.40" y="665.00" font-size="8.0" text-anchor="middle" fill="#222" font-weight="normal" stroke="#222" stroke-width="0.07" >1</text><text x="483.90" y="665.00" font-size="8.0" text-anchor="middle" fill="#222" font-weight="normal" stroke="#222" stroke-width="0.07" >10</text><text x="94.80" y="538.75" font-size="8.2" text-anchor="end" fill="#C8262B" font-weight="normal" stroke="#C8262B" stroke-width="0.07" >Abnormal Karyotype</text><line x1="97.60" y1="535.80" x2="101.20" y2="535.80" stroke="#111" stroke-width="1.1" /><text x="94.80" y="548.68" font-size="8.2" text-anchor="end" fill="#C8262B" font-weight="normal" stroke="#C8262B" stroke-width="0.07" >Complex Karyotype</text><line x1="97.60" y1="545.73" x2="101.20" y2="545.73" stroke="#111" stroke-width="1.1" /><text x="94.80" y="558.61" font-size="8.2" text-anchor="end" fill="#4F7DBA" font-weight="normal" stroke="#4F7DBA" stroke-width="0.07" >−7/del(7q)</text><line x1="97.60" y1="555.66" x2="101.20" y2="555.66" stroke="#111" stroke-width="1.1" /><text x="94.80" y="568.54" font-size="8.2" text-anchor="end" fill="#4F7DBA" font-weight="normal" stroke="#4F7DBA" stroke-width="0.07" >del(5q)</text><line x1="97.60" y1="565.59" x2="101.20" y2="565.59" stroke="#111" stroke-width="1.1" /><text x="94.80" y="578.47" font-size="8.5" text-anchor="end" fill="#4F7DBA" font-weight="normal" font-style="italic" stroke="#4F7DBA" stroke-width="0.07" >TP53</text><line x1="97.60" y1="575.52" x2="101.20" y2="575.52" stroke="#111" stroke-width="1.1" /><text x="94.80" y="588.40" font-size="8.5" text-anchor="end" fill="#4F7DBA" font-weight="normal" font-style="italic" stroke="#4F7DBA" stroke-width="0.07" >U2AF1</text><line x1="97.60" y1="585.45" x2="101.20" y2="585.45" stroke="#111" stroke-width="1.1" /><text x="94.80" y="598.33" font-size="8.5" text-anchor="end" fill="#6DAA4E" font-weight="normal" font-style="italic" stroke="#6DAA4E" stroke-width="0.07" >EZH2</text><line x1="97.60" y1="595.38" x2="101.20" y2="595.38" stroke="#111" stroke-width="1.1" /><text x="94.80" y="608.26" font-size="8.5" text-anchor="end" fill="#6DAA4E" font-weight="normal" font-style="italic" stroke="#6DAA4E" stroke-width="0.07" >ASXL1</text><line x1="97.60" y1="605.31" x2="101.20" y2="605.31" stroke="#111" stroke-width="1.1" /><text x="94.80" y="618.19" font-size="8.5" text-anchor="end" fill="#6DAA4E" font-weight="normal" font-style="italic" stroke="#6DAA4E" stroke-width="0.07" >RUNX1</text><line x1="97.60" y1="615.24" x2="101.20" y2="615.24" stroke="#111" stroke-width="1.1" /><text x="94.80" y="628.12" font-size="8.5" text-anchor="end" fill="#6DAA4E" font-weight="normal" font-style="italic" stroke="#6DAA4E" stroke-width="0.07" >SRSF2</text><line x1="97.60" y1="625.17" x2="101.20" y2="625.17" stroke="#111" stroke-width="1.1" /><text x="94.80" y="638.05" font-size="8.5" text-anchor="end" fill="#8348A5" font-weight="normal" font-style="italic" stroke="#8348A5" stroke-width="0.07" >TET2</text><line x1="97.60" y1="635.10" x2="101.20" y2="635.10" stroke="#111" stroke-width="1.1" /><text x="94.80" y="647.98" font-size="8.5" text-anchor="end" fill="#E07A18" font-weight="normal" font-style="italic" stroke="#E07A18" stroke-width="0.07" >SF3B1</text><line x1="97.60" y1="645.03" x2="101.20" y2="645.03" stroke="#111" stroke-width="1.1" /><text x="0" y="0" font-size="8.7" fill="#111" stroke="#111" stroke-width="0.35" transform="translate(303.8,685.8) scale(0.83,1)" text-anchor="middle">Mutation enrichment odds-ratio</text><rect x="0.00" y="0.00" width="1.20" height="696.00" fill="#000" /><rect x="0.00" y="0.00" width="520.00" height="1.20" fill="#000" /><rect x="518.60" y="0.00" width="1.40" height="696.00" fill="#000" /><rect x="0.00" y="694.60" width="520.00" height="1.40" fill="#000" /></svg></body></html>
